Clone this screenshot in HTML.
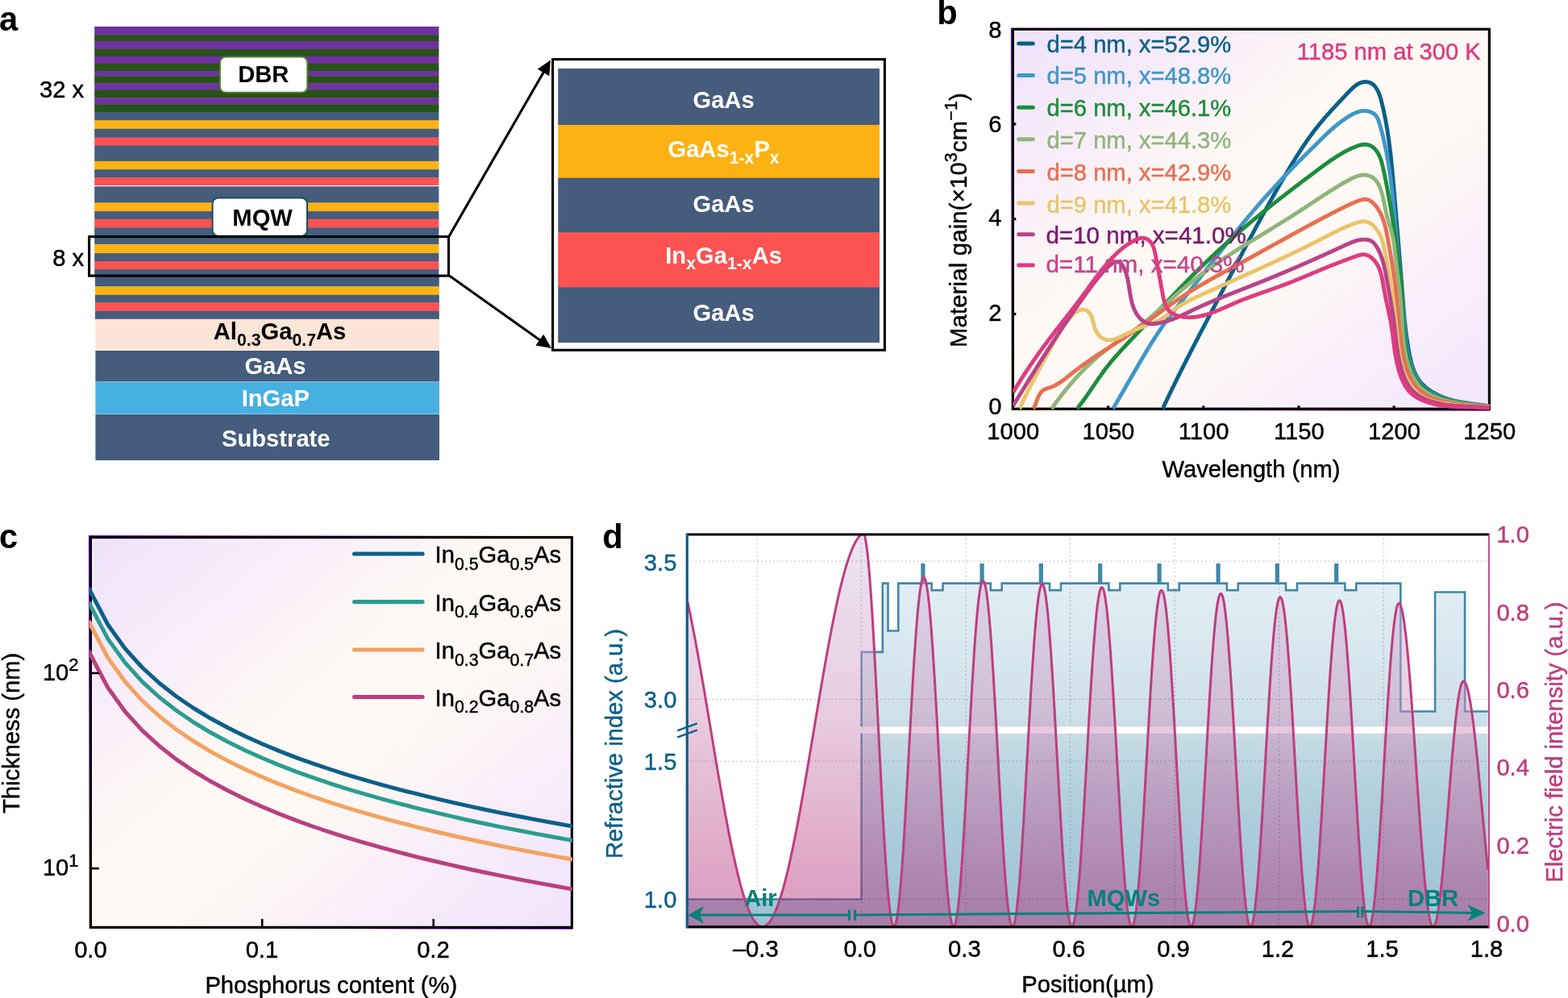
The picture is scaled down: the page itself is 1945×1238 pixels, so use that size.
<!DOCTYPE html>
<html lang="en">
<head>
<meta charset="utf-8">
<title>Figure</title>
<style>
html,body{margin:0;padding:0;background:#fff;overflow:hidden;}
body{width:1945px;height:1238px;overflow:hidden;}
svg{display:block;font-family:"Liberation Sans",sans-serif;}
</style>
</head>
<body>
<svg width="1945" height="1238" viewBox="0 0 1945 1238">
<rect x="0" y="0" width="1945" height="1238" fill="#ffffff"/>
<g id="panel-a">
<rect x="117.2" y="32.9" width="427.2" height="10.7" fill="#7030a0" />
<rect x="117.2" y="43.2" width="427.2" height="8.2" fill="#275218" />
<rect x="117.2" y="51" width="427.2" height="10.3" fill="#7030a0" />
<rect x="117.2" y="60.9" width="427.2" height="9.2" fill="#275218" />
<rect x="117.2" y="69.7" width="427.2" height="9.5" fill="#7030a0" />
<rect x="117.2" y="78.8" width="427.2" height="9.6" fill="#275218" />
<rect x="117.2" y="88" width="427.2" height="6.6" fill="#7030a0" />
<rect x="117.2" y="94.2" width="427.2" height="9.4" fill="#275218" />
<rect x="117.2" y="103.2" width="427.2" height="8.5" fill="#7030a0" />
<rect x="117.2" y="111.3" width="427.2" height="10.4" fill="#275218" />
<rect x="117.2" y="121.3" width="427.2" height="8.3" fill="#7030a0" />
<rect x="117.2" y="129.2" width="427.2" height="10.2" fill="#275218" />
<rect x="117.2" y="139" width="427.2" height="10.7" fill="#455c7c" />
<rect x="117.2" y="149.3" width="427.2" height="10.9" fill="#fdb214" />
<rect x="117.2" y="159.8" width="427.2" height="11.1" fill="#455c7c" />
<rect x="117.2" y="170.5" width="427.2" height="10.3" fill="#fc5252" />
<rect x="117.2" y="180.4" width="427.2" height="19.9" fill="#455c7c" />
<rect x="117.2" y="199.9" width="427.2" height="10.7" fill="#fdb214" />
<rect x="117.2" y="210.2" width="427.2" height="10.3" fill="#455c7c" />
<rect x="117.2" y="220.1" width="427.2" height="9.9" fill="#fc5252" />
<rect x="117.2" y="231.2" width="427.2" height="20.6" fill="#455c7c" />
<rect x="117.2" y="251.4" width="427.2" height="11.1" fill="#fdb214" />
<rect x="117.2" y="262.1" width="427.2" height="9.9" fill="#455c7c" />
<rect x="117.2" y="271.6" width="427.2" height="11.1" fill="#fc5252" />
<rect x="117.2" y="282.3" width="427.2" height="20.9" fill="#455c7c" />
<rect x="117.2" y="302.8" width="427.2" height="11.7" fill="#fdb214" />
<rect x="117.2" y="314.1" width="427.2" height="10.3" fill="#455c7c" />
<rect x="117.2" y="324" width="427.2" height="10.5" fill="#fc5252" />
<rect x="117.2" y="334.1" width="427.2" height="9.3" fill="#455c7c" />
<rect x="118" y="343" width="426.8" height="12.7" fill="#455c7c" />
<rect x="118" y="355.3" width="426.8" height="10.9" fill="#fdb214" />
<rect x="118" y="365.8" width="426.8" height="9.8" fill="#455c7c" />
<rect x="118" y="375.2" width="426.8" height="10.9" fill="#fc5252" />
<rect x="118" y="385.7" width="426.8" height="10.5" fill="#455c7c" />
<rect x="118.4" y="395.8" width="426.6" height="38.8" fill="#fce4d6" />
<rect x="118.4" y="435" width="426.6" height="38.4" fill="#455c7c" />
<rect x="118.4" y="473.6" width="426.6" height="40" fill="#46b0e1" />
<rect x="118.4" y="514" width="426.6" height="57" fill="#455c7c" />
<rect x="272.9" y="70.4" width="108.4" height="44.4" rx="7" ry="7" fill="#ffffff" stroke="#4d7f33" stroke-width="2.0"/>
<text x="326.8" y="102.2" font-size="29.17" font-weight="bold" text-anchor="middle" fill="#000" >DBR</text>
<rect x="263.6" y="245.6" width="117.4" height="47.2" rx="7" ry="7" fill="#ffffff" stroke="#1b4a63" stroke-width="2.0"/>
<text x="325.6" y="279.6" font-size="29.17" font-weight="bold" text-anchor="middle" fill="#000" >MQW</text>
<text x="104.2" y="121.4" font-size="29.17" text-anchor="end" fill="#000" stroke="#000" stroke-width="0.45" stroke-linejoin="round">32 x</text>
<text x="104.2" y="330.2" font-size="29.17" text-anchor="end" fill="#000" stroke="#000" stroke-width="0.45" stroke-linejoin="round">8 x</text>
<rect x="110.6" y="293.6" width="445.9" height="48.5" fill="none" stroke="#000" stroke-width="3.1"/>
<text x="347" y="420.6" font-size="29.17" font-weight="bold" text-anchor="middle" fill="#000">Al<tspan font-size="21.3" dy="8.0">0.3</tspan><tspan font-size="29.17" dy="-8.0">Ga</tspan><tspan font-size="21.3" dy="8.0">0.7</tspan><tspan font-size="29.17" dy="-8.0">As</tspan></text>
<text x="341.5" y="464.4" font-size="29.17" font-weight="bold" text-anchor="middle" fill="#fff" >GaAs</text>
<text x="341.8" y="504.2" font-size="29.17" font-weight="bold" text-anchor="middle" fill="#fff" >InGaP</text>
<text x="342.3" y="553.6" font-size="29.17" font-weight="bold" text-anchor="middle" fill="#fff" >Substrate</text>
<line x1="556.8" y1="293.4" x2="675.01" y2="88.26" stroke="#000" stroke-width="3.1"/><polygon points="683,74.4 681.29,94.19 666.73,85.8" fill="#000"/>
<line x1="557.4" y1="342" x2="670.96" y2="422.73" stroke="#000" stroke-width="3.1"/><polygon points="684,432 664.46,428.42 674.2,414.72" fill="#000"/>
<rect x="685.6" y="73.6" width="411.8" height="360.7" fill="#fff" stroke="#000" stroke-width="3.1"/>
<rect x="692.2" y="85" width="398.8" height="70.3" fill="#455c7c" />
<rect x="692.2" y="154.9" width="398.8" height="66.2" fill="#fdb214" />
<rect x="692.2" y="220.7" width="398.8" height="68.1" fill="#455c7c" />
<rect x="692.2" y="288.4" width="398.8" height="68.2" fill="#fc5252" />
<rect x="692.2" y="356.2" width="398.8" height="68.9" fill="#455c7c" />
<text x="897.6" y="134" font-size="29.17" font-weight="bold" text-anchor="middle" fill="#fff" >GaAs</text>
<text x="897.6" y="195.4" font-size="29.17" font-weight="bold" text-anchor="middle" fill="#fff">GaAs<tspan font-size="21.3" dy="7.2">1-x</tspan><tspan font-size="29.17" dy="-7.2">P</tspan><tspan font-size="21.3" dy="7.2">x</tspan></text>
<text x="897.6" y="263.2" font-size="29.17" font-weight="bold" text-anchor="middle" fill="#fff" >GaAs</text>
<text x="897.6" y="326.6" font-size="29.17" font-weight="bold" text-anchor="middle" fill="#fff">In<tspan font-size="21.3" dy="7.2">x</tspan><tspan font-size="29.17" dy="-7.2">Ga</tspan><tspan font-size="21.3" dy="7.2">1-x</tspan><tspan font-size="29.17" dy="-7.2">As</tspan></text>
<text x="897.6" y="398.2" font-size="29.17" font-weight="bold" text-anchor="middle" fill="#fff" >GaAs</text>
<text x="-1" y="38.4" font-size="41.67" font-weight="bold" fill="#000" >a</text>
</g>
<g id="panel-b">
<defs><linearGradient id="gb" x1="0" y1="0" x2="1" y2="1"><stop offset="0" stop-color="#efe3fb"/><stop offset="0.2" stop-color="#f7ecfa"/><stop offset="0.4" stop-color="#fef9f4"/><stop offset="0.6" stop-color="#fef9f4"/><stop offset="0.8" stop-color="#f8eefb"/><stop offset="1" stop-color="#f1e6fc"/></linearGradient><clipPath id="cb"><rect x="1256.0" y="36.2" width="593.0" height="472.4"/></clipPath><linearGradient id="geb" x1="0" y1="0" x2="1" y2="1"><stop offset="0" stop-color="#7a12e6"/><stop offset="0.25" stop-color="#c98af0"/><stop offset="0.45" stop-color="#ffe9c8"/><stop offset="0.55" stop-color="#ffe9c8"/><stop offset="0.75" stop-color="#c98af0"/><stop offset="1" stop-color="#6a10c8"/></linearGradient></defs>
<rect x="1256.4" y="36.2" width="591" height="471" fill="url(#gb)" />
<path d="M1254.5 35 V509.1 H1848.6" fill="none" stroke="url(#geb)" stroke-width="1.3"/>
<rect x="1256.4" y="36.2" width="591" height="471" fill="none" stroke="#000" stroke-width="3.2"/>
<line x1="1374.6" y1="507.2" x2="1374.6" y2="503.3" stroke="#000" stroke-width="3.1" />
<line x1="1492.8" y1="507.2" x2="1492.8" y2="503.3" stroke="#000" stroke-width="3.1" />
<line x1="1611" y1="507.2" x2="1611" y2="503.3" stroke="#000" stroke-width="3.1" />
<line x1="1729.2" y1="507.2" x2="1729.2" y2="503.3" stroke="#000" stroke-width="3.1" />
<line x1="1256.4" y1="389.45" x2="1260.3" y2="389.45" stroke="#000" stroke-width="3.1" />
<line x1="1256.4" y1="271.7" x2="1260.3" y2="271.7" stroke="#000" stroke-width="3.1" />
<line x1="1256.4" y1="153.95" x2="1260.3" y2="153.95" stroke="#000" stroke-width="3.1" />
<g clip-path="url(#cb)">
<path d="M1442.3 506.0L1442.8 505.9L1443.2 504.9L1443.7 503.9L1444.1 503.0L1444.6 502.0L1445.0 501.0L1445.5 500.1L1446.0 499.1L1446.4 498.1L1446.9 497.2L1447.3 496.2L1447.8 495.2L1448.2 494.3L1448.7 493.3L1449.2 492.3L1449.6 491.4L1450.1 490.4L1450.5 489.4L1451.0 488.5L1451.5 487.5L1451.9 486.5L1452.4 485.6L1452.9 484.6L1453.3 483.7L1453.8 482.7L1454.3 481.7L1454.7 480.8L1455.2 479.8L1455.7 478.8L1456.1 477.9L1456.6 476.9L1457.1 476.0L1457.6 475.0L1458.0 474.0L1458.5 473.1L1459.0 472.1L1459.4 471.1L1459.9 470.2L1460.4 469.2L1460.9 468.3L1461.3 467.3L1461.8 466.3L1462.3 465.4L1462.8 464.4L1463.2 463.5L1463.7 462.5L1464.2 461.5L1464.7 460.6L1465.2 459.6L1465.6 458.7L1466.1 457.7L1466.6 456.8L1467.1 455.8L1467.6 454.8L1468.1 453.9L1468.5 452.9L1469.0 452.0L1469.5 451.0L1470.0 450.1L1470.5 449.1L1471.0 448.1L1471.4 447.2L1471.9 446.2L1472.4 445.3L1472.9 444.3L1473.4 443.4L1473.9 442.4L1474.4 441.5L1474.8 440.5L1475.3 439.5L1475.8 438.6L1476.3 437.6L1476.8 436.7L1477.3 435.7L1477.8 434.8L1478.3 433.8L1478.8 432.9L1479.3 431.9L1479.7 431.0L1480.2 430.0L1480.7 429.1L1481.2 428.1L1481.7 427.1L1482.2 426.2L1482.7 425.2L1483.2 424.3L1483.7 423.3L1484.2 422.4L1484.7 421.4L1485.2 420.5L1485.7 419.5L1486.2 418.6L1486.6 417.6L1487.1 416.7L1487.6 415.7L1488.1 414.8L1488.6 413.8L1489.1 412.9L1489.6 411.9L1490.1 411.0L1490.6 410.0L1491.1 409.1L1491.6 408.1L1492.1 407.2L1492.6 406.2L1493.1 405.3L1493.6 404.3L1494.1 403.4L1494.6 402.4L1495.1 401.4L1495.6 400.5L1496.1 399.5L1496.6 398.6L1497.1 397.6L1497.6 396.7L1498.1 395.7L1498.6 394.8L1499.1 393.8L1499.6 392.9L1500.1 391.9L1500.5 391.0L1501.0 390.0L1501.5 389.1L1502.0 388.1L1502.5 387.2L1503.0 386.2L1503.5 385.3L1504.0 384.4L1504.5 383.4L1505.0 382.5L1505.5 381.5L1506.0 380.6L1506.5 379.6L1507.0 378.7L1507.5 377.7L1508.0 376.8L1508.5 375.8L1509.0 374.9L1509.5 373.9L1510.0 373.0L1510.5 372.0L1511.0 371.1L1511.5 370.1L1512.0 369.2L1512.5 368.2L1513.0 367.3L1513.5 366.3L1514.0 365.4L1514.5 364.4L1515.0 363.5L1515.5 362.5L1516.0 361.6L1516.5 360.6L1517.0 359.7L1517.5 358.7L1517.9 357.8L1518.4 356.8L1518.9 355.9L1519.4 354.9L1519.9 354.0L1520.4 353.0L1520.9 352.1L1521.4 351.1L1521.9 350.2L1522.4 349.2L1522.9 348.3L1523.4 347.3L1523.9 346.4L1524.4 345.4L1524.9 344.5L1525.4 343.6L1525.9 342.6L1526.4 341.7L1526.9 340.7L1527.4 339.8L1527.9 338.8L1528.4 337.9L1528.9 336.9L1529.4 336.0L1529.8 335.0L1530.3 334.1L1530.8 333.1L1531.3 332.2L1531.8 331.2L1532.3 330.3L1532.8 329.3L1533.3 328.4L1533.8 327.4L1534.3 326.5L1534.8 325.5L1535.3 324.6L1535.8 323.7L1536.3 322.7L1536.8 321.8L1537.3 320.8L1537.8 319.9L1538.3 318.9L1538.8 318.0L1539.3 317.0L1539.8 316.1L1540.3 315.1L1540.8 314.2L1541.3 313.2L1541.8 312.3L1542.3 311.4L1542.8 310.4L1543.3 309.5L1543.8 308.5L1544.3 307.6L1544.8 306.6L1545.3 305.7L1545.8 304.7L1546.3 303.8L1546.8 302.9L1547.3 301.9L1547.8 301.0L1548.3 300.0L1548.8 299.1L1549.3 298.1L1549.8 297.2L1550.3 296.2L1550.8 295.3L1551.3 294.4L1551.8 293.4L1552.3 292.5L1552.9 291.5L1553.4 290.6L1553.9 289.6L1554.4 288.7L1554.9 287.8L1555.4 286.8L1555.9 285.9L1556.4 284.9L1556.9 284.0L1557.4 283.0L1557.9 282.1L1558.4 281.2L1558.9 280.2L1559.4 279.3L1560.0 278.3L1560.5 277.4L1561.0 276.5L1561.5 275.5L1562.0 274.6L1562.5 273.6L1563.0 272.7L1563.5 271.8L1564.1 270.8L1564.6 269.9L1565.1 268.9L1565.6 268.0L1566.1 267.1L1566.6 266.1L1567.1 265.2L1567.7 264.2L1568.2 263.3L1568.7 262.4L1569.2 261.4L1569.7 260.5L1570.2 259.5L1570.8 258.6L1571.3 257.7L1571.8 256.7L1572.3 255.8L1572.8 254.9L1573.4 253.9L1573.9 253.0L1574.4 252.1L1574.9 251.1L1575.5 250.2L1576.0 249.2L1576.5 248.3L1577.0 247.4L1577.6 246.4L1578.1 245.5L1578.6 244.6L1579.1 243.6L1579.7 242.7L1580.2 241.8L1580.7 240.8L1581.2 239.9L1581.8 239.0L1582.3 238.0L1582.8 237.1L1583.4 236.2L1583.9 235.2L1584.4 234.3L1585.0 233.4L1585.5 232.4L1586.0 231.5L1586.6 230.6L1587.1 229.6L1587.6 228.7L1588.2 227.8L1588.7 226.8L1589.3 225.9L1589.8 225.0L1590.3 224.0L1590.9 223.1L1591.4 222.2L1592.0 221.3L1592.5 220.3L1593.1 219.4L1593.6 218.5L1594.1 217.5L1594.7 216.6L1595.2 215.7L1595.8 214.8L1596.3 213.8L1596.9 212.9L1597.4 212.0L1598.0 211.1L1598.5 210.1L1599.1 209.2L1599.6 208.3L1600.2 207.4L1600.7 206.4L1601.3 205.5L1601.9 204.6L1602.4 203.7L1603.0 202.7L1603.5 201.8L1604.1 200.9L1604.7 200.0L1605.2 199.1L1605.8 198.2L1606.4 197.2L1606.9 196.3L1607.5 195.4L1608.1 194.5L1608.6 193.6L1609.2 192.7L1609.8 191.8L1610.4 190.9L1610.9 190.0L1611.5 189.1L1612.1 188.2L1612.7 187.3L1613.3 186.4L1613.9 185.5L1614.5 184.6L1615.0 183.7L1615.6 182.8L1616.2 181.9L1616.8 181.0L1617.4 180.1L1618.0 179.2L1618.6 178.4L1619.2 177.5L1619.8 176.6L1620.4 175.7L1621.0 174.8L1621.7 174.0L1622.3 173.1L1622.9 172.2L1623.5 171.4L1624.1 170.5L1624.7 169.6L1625.4 168.8L1626.0 167.9L1626.6 167.0L1627.2 166.2L1627.9 165.3L1628.5 164.5L1629.2 163.6L1629.8 162.8L1630.4 162.0L1631.1 161.1L1631.7 160.3L1632.4 159.4L1633.0 158.6L1633.7 157.8L1634.3 156.9L1635.0 156.1L1635.7 155.3L1636.3 154.5L1637.0 153.7L1637.7 152.9L1638.3 152.0L1639.0 151.2L1639.7 150.4L1640.4 149.6L1641.1 148.8L1641.7 148.0L1642.4 147.2L1643.1 146.4L1643.8 145.6L1644.5 144.8L1645.2 144.0L1645.9 143.2L1646.6 142.4L1647.3 141.7L1648.0 140.9L1648.7 140.1L1649.4 139.3L1650.1 138.5L1650.9 137.7L1651.6 136.9L1652.3 136.1L1653.0 135.3L1653.8 134.5L1654.5 133.8L1655.2 133.0L1655.9 132.2L1656.7 131.4L1657.4 130.6L1658.2 129.8L1658.9 129.0L1659.6 128.2L1660.4 127.4L1661.1 126.6L1661.9 125.8L1662.6 125.0L1663.4 124.2L1664.2 123.4L1664.9 122.6L1665.7 121.8L1666.4 121.0L1667.2 120.2L1668.0 119.4L1668.7 118.6L1669.5 117.7L1670.3 116.9L1671.0 116.1L1671.8 115.3L1672.6 114.4L1673.4 113.6L1674.2 112.8L1675.0 112.0L1675.8 111.2L1676.6 110.4L1677.4 109.6L1678.2 108.9L1679.0 108.2L1679.9 107.5L1680.7 106.8L1681.5 106.1L1682.4 105.5L1683.3 104.9L1684.2 104.4L1685.1 103.9L1686.0 103.4L1686.9 103.0L1687.8 102.6L1688.8 102.3L1689.7 102.0L1690.7 101.8L1691.7 101.7L1692.7 101.6L1693.7 101.5L1694.7 101.6L1695.7 101.6L1696.7 101.8L1697.6 102.0L1698.6 102.3L1699.5 102.6L1700.4 103.0L1701.3 103.4L1702.1 104.0L1702.9 104.6L1703.6 105.2L1704.4 105.9L1705.1 106.6L1705.7 107.4L1706.4 108.3L1707.0 109.1L1707.6 110.0L1708.1 111.0L1708.6 111.9L1709.1 112.9L1709.6 113.9L1710.1 114.9L1710.5 116.0L1710.9 117.0L1711.3 118.1L1711.6 119.1L1712.0 120.1L1712.3 121.2L1712.6 122.2L1712.9 123.3L1713.2 124.3L1713.5 125.4L1713.7 126.5L1714.0 127.5L1714.3 128.6L1714.5 129.6L1714.8 130.7L1715.0 131.7L1715.3 132.8L1715.5 133.9L1715.8 134.9L1716.0 136.0L1716.2 137.0L1716.5 138.1L1716.7 139.1L1716.9 140.2L1717.1 141.3L1717.4 142.3L1717.6 143.4L1717.8 144.4L1718.0 145.5L1718.2 146.5L1718.4 147.6L1718.6 148.7L1718.8 149.7L1719.0 150.8L1719.2 151.8L1719.4 152.9L1719.6 153.9L1719.8 155.0L1720.0 156.1L1720.1 157.1L1720.3 158.2L1720.5 159.2L1720.7 160.3L1720.9 161.3L1721.0 162.4L1721.2 163.5L1721.4 164.5L1721.5 165.6L1721.7 166.6L1721.8 167.7L1722.0 168.8L1722.2 169.8L1722.3 170.9L1722.5 171.9L1722.6 173.0L1722.8 174.0L1722.9 175.1L1723.0 176.2L1723.2 177.2L1723.3 178.3L1723.5 179.3L1723.6 180.4L1723.7 181.5L1723.9 182.5L1724.0 183.6L1724.1 184.6L1724.3 185.7L1724.4 186.8L1724.5 187.8L1724.6 188.9L1724.8 189.9L1724.9 191.0L1725.0 192.1L1725.1 193.1L1725.2 194.2L1725.3 195.2L1725.5 196.3L1725.6 197.4L1725.7 198.4L1725.8 199.5L1725.9 200.6L1726.0 201.6L1726.1 202.7L1726.2 203.7L1726.3 204.8L1726.4 205.9L1726.5 206.9L1726.6 208.0L1726.7 209.1L1726.9 210.1L1727.0 211.2L1727.1 212.2L1727.2 213.3L1727.2 214.4L1727.3 215.4L1727.4 216.5L1727.5 217.6L1727.6 218.6L1727.7 219.7L1727.8 220.8L1727.9 221.8L1728.0 222.9L1728.1 223.9L1728.2 225.0L1728.3 226.1L1728.4 227.1L1728.5 228.2L1728.6 229.3L1728.7 230.3L1728.8 231.4L1728.8 232.5L1728.9 233.5L1729.0 234.6L1729.1 235.7L1729.2 236.7L1729.3 237.8L1729.4 238.9L1729.5 239.9L1729.6 241.0L1729.7 242.1L1729.8 243.1L1729.9 244.2L1729.9 245.3L1730.0 246.3L1730.1 247.4L1730.2 248.5L1730.3 249.5L1730.4 250.6L1730.5 251.7L1730.6 252.8L1730.7 253.8L1730.8 254.9L1730.9 256.0L1730.9 257.0L1731.0 258.1L1731.1 259.2L1731.2 260.2L1731.3 261.3L1731.4 262.4L1731.5 263.4L1731.6 264.5L1731.7 265.6L1731.7 266.7L1731.8 267.7L1731.9 268.8L1732.0 269.9L1732.1 270.9L1732.2 272.0L1732.3 273.1L1732.4 274.1L1732.5 275.2L1732.6 276.3L1732.6 277.4L1732.7 278.4L1732.8 279.5L1732.9 280.6L1733.0 281.6L1733.1 282.7L1733.2 283.8L1733.3 284.9L1733.3 285.9L1733.4 287.0L1733.5 288.1L1733.6 289.1L1733.7 290.2L1733.8 291.3L1733.9 292.3L1734.0 293.4L1734.1 294.5L1734.1 295.6L1734.2 296.6L1734.3 297.7L1734.4 298.8L1734.5 299.8L1734.6 300.9L1734.7 302.0L1734.8 303.1L1734.8 304.1L1734.9 305.2L1735.0 306.3L1735.1 307.3L1735.2 308.4L1735.3 309.5L1735.4 310.5L1735.4 311.6L1735.5 312.7L1735.6 313.8L1735.7 314.8L1735.8 315.9L1735.9 317.0L1736.0 318.0L1736.0 319.1L1736.1 320.2L1736.2 321.2L1736.3 322.3L1736.4 323.4L1736.5 324.5L1736.6 325.5L1736.6 326.6L1736.7 327.7L1736.8 328.7L1736.9 329.8L1737.0 330.9L1737.1 331.9L1737.2 333.0L1737.2 334.1L1737.3 335.1L1737.4 336.2L1737.5 337.3L1737.6 338.3L1737.7 339.4L1737.8 340.5L1737.8 341.5L1737.9 342.6L1738.0 343.7L1738.1 344.7L1738.2 345.8L1738.3 346.9L1738.3 347.9L1738.4 349.0L1738.5 350.1L1738.6 351.1L1738.7 352.2L1738.8 353.3L1738.8 354.3L1738.9 355.4L1739.0 356.5L1739.1 357.5L1739.2 358.6L1739.3 359.7L1739.3 360.7L1739.4 361.8L1739.5 362.9L1739.6 363.9L1739.7 365.0L1739.8 366.1L1739.8 367.1L1739.9 368.2L1740.0 369.2L1740.1 370.3L1740.2 371.4L1740.3 372.4L1740.3 373.5L1740.4 374.5L1740.5 375.6L1740.6 376.7L1740.7 377.7L1740.8 378.8L1740.8 379.9L1740.9 380.9L1741.0 382.0L1741.1 383.0L1741.2 384.1L1741.3 385.2L1741.4 386.2L1741.5 387.3L1741.6 388.3L1741.6 389.4L1741.7 390.5L1741.8 391.5L1741.9 392.6L1742.0 393.6L1742.1 394.7L1742.2 395.8L1742.3 396.8L1742.4 397.9L1742.5 399.0L1742.6 400.0L1742.8 401.1L1742.9 402.1L1743.0 403.2L1743.1 404.3L1743.2 405.3L1743.3 406.4L1743.4 407.5L1743.6 408.5L1743.7 409.6L1743.8 410.6L1743.9 411.7L1744.1 412.8L1744.2 413.8L1744.3 414.9L1744.5 416.0L1744.6 417.0L1744.8 418.1L1744.9 419.2L1745.1 420.2L1745.2 421.3L1745.4 422.4L1745.5 423.4L1745.7 424.5L1745.8 425.6L1746.0 426.6L1746.2 427.7L1746.4 428.8L1746.5 429.9L1746.7 430.9L1746.9 432.0L1747.1 433.1L1747.3 434.1L1747.5 435.2L1747.7 436.3L1747.9 437.4L1748.1 438.4L1748.3 439.5L1748.5 440.6L1748.7 441.7L1748.9 442.7L1749.2 443.8L1749.4 444.9L1749.7 445.9L1749.9 447.0L1750.2 448.1L1750.5 449.1L1750.7 450.2L1751.0 451.2L1751.3 452.3L1751.6 453.3L1752.0 454.3L1752.3 455.3L1752.6 456.4L1753.0 457.4L1753.4 458.4L1753.7 459.4L1754.1 460.4L1754.5 461.3L1755.0 462.3L1755.4 463.3L1755.9 464.2L1756.3 465.1L1756.8 466.1L1757.3 467.0L1757.8 467.9L1758.4 468.8L1758.9 469.7L1759.5 470.5L1760.1 471.4L1760.7 472.2L1761.3 473.0L1762.0 473.9L1762.6 474.6L1763.3 475.4L1764.0 476.2L1764.8 477.0L1765.5 477.7L1766.3 478.4L1767.0 479.1L1767.8 479.8L1768.6 480.5L1769.4 481.2L1770.3 481.9L1771.1 482.5L1772.0 483.1L1772.9 483.8L1773.7 484.4L1774.6 485.0L1775.6 485.6L1776.5 486.1L1777.4 486.7L1778.3 487.2L1779.3 487.8L1780.3 488.3L1781.2 488.8L1782.2 489.3L1783.2 489.8L1784.2 490.2L1785.2 490.7L1786.2 491.2L1787.2 491.6L1788.2 492.0L1789.2 492.4L1790.2 492.8L1791.3 493.2L1792.3 493.6L1793.3 494.0L1794.4 494.3L1795.4 494.7L1796.4 495.0L1797.5 495.3L1798.5 495.6L1799.5 495.9L1800.6 496.2L1801.6 496.5L1802.7 496.8L1803.7 497.0L1804.7 497.3L1805.8 497.5L1806.8 497.8L1807.9 498.0L1808.9 498.2L1809.9 498.4L1811.0 498.6L1812.0 498.8L1813.0 499.0L1814.1 499.2L1815.1 499.4L1816.2 499.5L1817.2 499.7L1818.3 499.9L1819.3 500.0L1820.3 500.2L1821.4 500.3L1822.4 500.5L1823.5 500.6L1824.5 500.8L1825.6 500.9L1826.6 501.1L1827.7 501.2L1828.7 501.3L1829.8 501.5L1830.8 501.6L1831.9 501.7L1833.0 501.9L1834.0 502.0L1835.1 502.2L1836.1 502.3L1837.2 502.4L1838.3 502.6L1839.3 502.7L1840.4 502.9L1841.5 503.0L1842.6 503.2L1843.6 503.3L1844.7 503.5L1845.8 503.7L1846.9 503.8L1848.0 504.0" fill="none" stroke="#0b6088" stroke-width="4.9" stroke-linejoin="round" stroke-linecap="butt"/>
<path d="M1380.6 506.0L1381.1 505.9L1381.6 505.0L1382.2 504.1L1382.7 503.3L1383.2 502.4L1383.8 501.5L1384.3 500.6L1384.8 499.7L1385.3 498.8L1385.9 497.9L1386.4 497.0L1386.9 496.1L1387.4 495.2L1388.0 494.3L1388.5 493.4L1389.0 492.5L1389.5 491.6L1390.1 490.7L1390.6 489.8L1391.1 488.9L1391.6 488.0L1392.2 487.1L1392.7 486.2L1393.2 485.3L1393.7 484.4L1394.3 483.5L1394.8 482.6L1395.3 481.7L1395.8 480.7L1396.3 479.8L1396.9 478.9L1397.4 478.0L1397.9 477.1L1398.4 476.2L1398.9 475.3L1399.5 474.4L1400.0 473.5L1400.5 472.6L1401.0 471.7L1401.5 470.8L1402.1 469.9L1402.6 469.0L1403.1 468.1L1403.6 467.2L1404.2 466.3L1404.7 465.4L1405.2 464.5L1405.7 463.6L1406.2 462.7L1406.8 461.8L1407.3 460.9L1407.8 460.0L1408.3 459.1L1408.9 458.2L1409.4 457.3L1409.9 456.4L1410.4 455.5L1411.0 454.6L1411.5 453.6L1412.0 452.7L1412.5 451.8L1413.1 450.9L1413.6 450.0L1414.1 449.1L1414.6 448.3L1415.2 447.4L1415.7 446.5L1416.2 445.6L1416.8 444.7L1417.3 443.8L1417.8 442.9L1418.4 442.0L1418.9 441.1L1419.4 440.2L1420.0 439.3L1420.5 438.4L1421.0 437.5L1421.6 436.6L1422.1 435.7L1422.7 434.8L1423.2 433.9L1423.7 433.0L1424.3 432.2L1424.8 431.3L1425.4 430.4L1425.9 429.5L1426.5 428.6L1427.0 427.7L1427.6 426.8L1428.1 426.0L1428.7 425.1L1429.2 424.2L1429.8 423.3L1430.3 422.4L1430.9 421.5L1431.4 420.7L1432.0 419.8L1432.6 418.9L1433.1 418.0L1433.7 417.2L1434.3 416.3L1434.8 415.4L1435.4 414.6L1436.0 413.7L1436.5 412.8L1437.1 412.0L1437.7 411.1L1438.3 410.2L1438.9 409.4L1439.4 408.5L1440.0 407.6L1440.6 406.8L1441.2 405.9L1441.8 405.1L1442.4 404.2L1443.0 403.4L1443.6 402.5L1444.2 401.7L1444.8 400.8L1445.4 400.0L1446.0 399.1L1446.7 398.3L1447.3 397.5L1447.9 396.6L1448.5 395.8L1449.1 395.0L1449.8 394.1L1450.4 393.3L1451.0 392.5L1451.7 391.6L1452.3 390.8L1452.9 390.0L1453.6 389.2L1454.2 388.3L1454.9 387.5L1455.5 386.7L1456.1 385.9L1456.8 385.0L1457.4 384.2L1458.1 383.4L1458.7 382.6L1459.4 381.8L1460.0 381.0L1460.7 380.1L1461.3 379.3L1462.0 378.5L1462.6 377.7L1463.3 376.9L1463.9 376.0L1464.6 375.2L1465.2 374.4L1465.9 373.6L1466.5 372.8L1467.2 372.0L1467.8 371.1L1468.5 370.3L1469.1 369.5L1469.7 368.7L1470.4 367.9L1471.0 367.0L1471.7 366.2L1472.3 365.4L1473.0 364.6L1473.6 363.7L1474.3 362.9L1474.9 362.1L1475.5 361.3L1476.2 360.5L1476.8 359.6L1477.5 358.8L1478.1 358.0L1478.8 357.2L1479.4 356.4L1480.0 355.5L1480.7 354.7L1481.3 353.9L1482.0 353.1L1482.6 352.2L1483.2 351.4L1483.9 350.6L1484.5 349.8L1485.2 348.9L1485.8 348.1L1486.4 347.3L1487.1 346.5L1487.7 345.7L1488.4 344.8L1489.0 344.0L1489.6 343.2L1490.3 342.4L1490.9 341.5L1491.5 340.7L1492.2 339.9L1492.8 339.1L1493.5 338.2L1494.1 337.4L1494.7 336.6L1495.4 335.8L1496.0 335.0L1496.7 334.1L1497.3 333.3L1497.9 332.5L1498.6 331.7L1499.2 330.8L1499.8 330.0L1500.5 329.2L1501.1 328.4L1501.8 327.5L1502.4 326.7L1503.0 325.9L1503.7 325.1L1504.3 324.3L1505.0 323.4L1505.6 322.6L1506.2 321.8L1506.9 321.0L1507.5 320.1L1508.2 319.3L1508.8 318.5L1509.4 317.7L1510.1 316.9L1510.7 316.0L1511.4 315.2L1512.0 314.4L1512.6 313.6L1513.3 312.8L1513.9 311.9L1514.6 311.1L1515.2 310.3L1515.8 309.5L1516.5 308.7L1517.1 307.8L1517.8 307.0L1518.4 306.2L1519.1 305.4L1519.7 304.6L1520.3 303.8L1521.0 302.9L1521.6 302.1L1522.3 301.3L1522.9 300.5L1523.6 299.7L1524.2 298.9L1524.9 298.0L1525.5 297.2L1526.2 296.4L1526.8 295.6L1527.5 294.8L1528.1 294.0L1528.8 293.2L1529.4 292.3L1530.1 291.5L1530.7 290.7L1531.4 289.9L1532.0 289.1L1532.7 288.3L1533.3 287.5L1534.0 286.7L1534.6 285.8L1535.3 285.0L1535.9 284.2L1536.6 283.4L1537.2 282.6L1537.9 281.8L1538.6 281.0L1539.2 280.2L1539.9 279.4L1540.5 278.6L1541.2 277.8L1541.9 277.0L1542.5 276.2L1543.2 275.4L1543.8 274.6L1544.5 273.8L1545.2 272.9L1545.8 272.1L1546.5 271.3L1547.2 270.5L1547.8 269.7L1548.5 268.9L1549.2 268.1L1549.8 267.3L1550.5 266.5L1551.2 265.7L1551.8 264.9L1552.5 264.2L1553.2 263.4L1553.9 262.6L1554.5 261.8L1555.2 261.0L1555.9 260.2L1556.6 259.4L1557.2 258.6L1557.9 257.8L1558.6 257.0L1559.3 256.2L1560.0 255.4L1560.6 254.6L1561.3 253.8L1562.0 253.1L1562.7 252.3L1563.4 251.5L1564.1 250.7L1564.7 249.9L1565.4 249.1L1566.1 248.3L1566.8 247.6L1567.5 246.8L1568.2 246.0L1568.9 245.2L1569.6 244.4L1570.3 243.6L1571.0 242.9L1571.7 242.1L1572.4 241.3L1573.1 240.5L1573.8 239.8L1574.5 239.0L1575.2 238.2L1575.9 237.4L1576.6 236.7L1577.3 235.9L1578.0 235.1L1578.7 234.3L1579.4 233.6L1580.1 232.8L1580.8 232.0L1581.5 231.3L1582.2 230.5L1582.9 229.7L1583.7 229.0L1584.4 228.2L1585.1 227.4L1585.8 226.7L1586.5 225.9L1587.2 225.1L1587.9 224.4L1588.7 223.6L1589.4 222.8L1590.1 222.1L1590.8 221.3L1591.5 220.6L1592.3 219.8L1593.0 219.1L1593.7 218.3L1594.4 217.5L1595.2 216.8L1595.9 216.0L1596.6 215.3L1597.3 214.5L1598.1 213.8L1598.8 213.0L1599.5 212.3L1600.2 211.5L1601.0 210.8L1601.7 210.0L1602.4 209.3L1603.2 208.5L1603.9 207.8L1604.6 207.0L1605.3 206.3L1606.1 205.5L1606.8 204.8L1607.5 204.0L1608.3 203.3L1609.0 202.5L1609.7 201.8L1610.5 201.1L1611.2 200.3L1611.9 199.6L1612.7 198.8L1613.4 198.1L1614.1 197.3L1614.9 196.6L1615.6 195.9L1616.3 195.1L1617.1 194.4L1617.8 193.7L1618.5 192.9L1619.3 192.2L1620.0 191.4L1620.8 190.7L1621.5 190.0L1622.2 189.2L1623.0 188.5L1623.7 187.8L1624.4 187.0L1625.2 186.3L1625.9 185.6L1626.6 184.8L1627.4 184.1L1628.1 183.4L1628.8 182.7L1629.6 181.9L1630.3 181.2L1631.0 180.5L1631.8 179.7L1632.5 179.0L1633.3 178.3L1634.0 177.6L1634.7 176.8L1635.5 176.1L1636.2 175.4L1636.9 174.7L1637.7 173.9L1638.4 173.2L1639.1 172.5L1639.9 171.8L1640.6 171.1L1641.3 170.3L1642.1 169.6L1642.8 168.9L1643.6 168.2L1644.3 167.5L1645.0 166.8L1645.8 166.1L1646.5 165.4L1647.3 164.6L1648.0 163.9L1648.8 163.2L1649.6 162.5L1650.3 161.9L1651.1 161.2L1651.9 160.5L1652.6 159.8L1653.4 159.1L1654.2 158.4L1655.0 157.8L1655.8 157.1L1656.6 156.4L1657.4 155.7L1658.2 155.1L1659.0 154.4L1659.8 153.8L1660.6 153.1L1661.5 152.5L1662.3 151.8L1663.1 151.2L1664.0 150.6L1664.8 149.9L1665.7 149.3L1666.6 148.7L1667.4 148.1L1668.3 147.5L1669.2 146.9L1670.1 146.3L1671.0 145.7L1671.9 145.1L1672.8 144.5L1673.7 144.0L1674.7 143.4L1675.6 142.9L1676.6 142.3L1677.5 141.8L1678.5 141.3L1679.4 140.9L1680.4 140.4L1681.4 140.0L1682.3 139.6L1683.3 139.2L1684.3 138.9L1685.3 138.6L1686.3 138.3L1687.3 138.1L1688.3 137.9L1689.3 137.7L1690.3 137.6L1691.3 137.6L1692.4 137.5L1693.4 137.5L1694.4 137.6L1695.4 137.7L1696.4 137.9L1697.4 138.1L1698.4 138.4L1699.4 138.7L1700.4 139.0L1701.3 139.5L1702.3 139.9L1703.1 140.4L1704.0 141.0L1704.8 141.6L1705.5 142.2L1706.2 142.9L1706.9 143.7L1707.5 144.5L1708.0 145.3L1708.5 146.2L1709.0 147.1L1709.4 148.1L1709.8 149.0L1710.1 150.0L1710.4 151.0L1710.8 152.0L1711.1 153.0L1711.4 154.0L1711.7 155.0L1711.9 156.1L1712.2 157.1L1712.5 158.1L1712.8 159.1L1713.1 160.1L1713.4 161.1L1713.6 162.2L1713.9 163.2L1714.2 164.2L1714.4 165.2L1714.7 166.2L1715.0 167.3L1715.2 168.3L1715.5 169.3L1715.7 170.3L1716.0 171.3L1716.2 172.4L1716.4 173.4L1716.7 174.4L1716.9 175.4L1717.1 176.5L1717.4 177.5L1717.6 178.5L1717.8 179.5L1718.0 180.5L1718.3 181.6L1718.5 182.6L1718.7 183.6L1718.9 184.6L1719.1 185.7L1719.3 186.7L1719.5 187.7L1719.7 188.7L1719.9 189.8L1720.1 190.8L1720.3 191.8L1720.5 192.9L1720.7 193.9L1720.9 194.9L1721.0 195.9L1721.2 197.0L1721.4 198.0L1721.6 199.0L1721.8 200.0L1721.9 201.1L1722.1 202.1L1722.3 203.1L1722.4 204.2L1722.6 205.2L1722.8 206.2L1722.9 207.3L1723.1 208.3L1723.2 209.3L1723.4 210.3L1723.5 211.4L1723.7 212.4L1723.8 213.4L1724.0 214.5L1724.1 215.5L1724.3 216.5L1724.4 217.6L1724.6 218.6L1724.7 219.6L1724.8 220.7L1725.0 221.7L1725.1 222.7L1725.2 223.8L1725.4 224.8L1725.5 225.8L1725.6 226.9L1725.8 227.9L1725.9 228.9L1726.0 230.0L1726.1 231.0L1726.3 232.0L1726.4 233.1L1726.5 234.1L1726.6 235.1L1726.7 236.2L1726.9 237.2L1727.0 238.2L1727.1 239.3L1727.2 240.3L1727.3 241.3L1727.4 242.4L1727.5 243.4L1727.6 244.4L1727.8 245.5L1727.9 246.5L1728.0 247.6L1728.1 248.6L1728.2 249.6L1728.3 250.7L1728.4 251.7L1728.5 252.7L1728.6 253.8L1728.7 254.8L1728.8 255.8L1728.9 256.9L1729.0 257.9L1729.1 258.9L1729.2 260.0L1729.3 261.0L1729.4 262.1L1729.5 263.1L1729.6 264.1L1729.7 265.2L1729.8 266.2L1729.9 267.2L1730.0 268.3L1730.1 269.3L1730.2 270.4L1730.3 271.4L1730.4 272.4L1730.5 273.5L1730.6 274.5L1730.6 275.5L1730.7 276.6L1730.8 277.6L1730.9 278.7L1731.0 279.7L1731.1 280.7L1731.2 281.8L1731.3 282.8L1731.4 283.8L1731.5 284.9L1731.6 285.9L1731.7 287.0L1731.8 288.0L1731.9 289.0L1732.0 290.1L1732.1 291.1L1732.2 292.1L1732.3 293.2L1732.4 294.2L1732.5 295.3L1732.6 296.3L1732.7 297.3L1732.8 298.4L1732.9 299.4L1733.0 300.4L1733.1 301.5L1733.1 302.5L1733.2 303.6L1733.3 304.6L1733.4 305.6L1733.5 306.7L1733.6 307.7L1733.7 308.7L1733.8 309.8L1733.9 310.8L1734.0 311.9L1734.1 312.9L1734.2 313.9L1734.3 315.0L1734.4 316.0L1734.5 317.0L1734.6 318.1L1734.7 319.1L1734.8 320.2L1734.9 321.2L1735.0 322.2L1735.1 323.3L1735.2 324.3L1735.3 325.3L1735.4 326.4L1735.5 327.4L1735.6 328.5L1735.7 329.5L1735.8 330.5L1735.9 331.6L1736.0 332.6L1736.1 333.6L1736.1 334.7L1736.2 335.7L1736.3 336.8L1736.4 337.8L1736.5 338.8L1736.6 339.9L1736.7 340.9L1736.8 342.0L1736.9 343.0L1737.0 344.0L1737.1 345.1L1737.2 346.1L1737.3 347.1L1737.4 348.2L1737.5 349.2L1737.6 350.3L1737.7 351.3L1737.8 352.3L1737.9 353.4L1737.9 354.4L1738.0 355.4L1738.1 356.5L1738.2 357.5L1738.3 358.6L1738.4 359.6L1738.5 360.6L1738.6 361.7L1738.7 362.7L1738.8 363.8L1738.9 364.8L1739.0 365.8L1739.1 366.9L1739.1 367.9L1739.2 368.9L1739.3 370.0L1739.4 371.0L1739.5 372.1L1739.6 373.1L1739.7 374.1L1739.8 375.2L1739.9 376.2L1740.0 377.3L1740.0 378.3L1740.1 379.3L1740.2 380.4L1740.3 381.4L1740.4 382.4L1740.5 383.5L1740.6 384.5L1740.7 385.6L1740.8 386.6L1740.8 387.6L1740.9 388.7L1741.0 389.7L1741.1 390.8L1741.2 391.8L1741.3 392.8L1741.4 393.9L1741.4 394.9L1741.5 396.0L1741.6 397.0L1741.7 398.0L1741.8 399.1L1741.9 400.1L1741.9 401.1L1742.0 402.2L1742.1 403.2L1742.2 404.3L1742.3 405.3L1742.4 406.3L1742.4 407.4L1742.5 408.4L1742.6 409.5L1742.7 410.5L1742.8 411.5L1742.9 412.6L1743.0 413.6L1743.1 414.6L1743.2 415.7L1743.3 416.7L1743.4 417.8L1743.5 418.8L1743.6 419.8L1743.7 420.9L1743.8 421.9L1744.0 422.9L1744.1 424.0L1744.2 425.0L1744.3 426.0L1744.5 427.0L1744.6 428.1L1744.8 429.1L1744.9 430.1L1745.1 431.2L1745.3 432.2L1745.4 433.2L1745.6 434.2L1745.8 435.3L1746.0 436.3L1746.2 437.3L1746.4 438.3L1746.6 439.4L1746.8 440.4L1747.0 441.4L1747.3 442.4L1747.5 443.4L1747.8 444.4L1748.0 445.4L1748.3 446.5L1748.6 447.5L1748.8 448.5L1749.1 449.5L1749.4 450.5L1749.8 451.5L1750.1 452.5L1750.4 453.5L1750.7 454.5L1751.1 455.5L1751.5 456.5L1751.8 457.5L1752.2 458.5L1752.6 459.5L1753.0 460.4L1753.4 461.4L1753.9 462.4L1754.3 463.3L1754.8 464.3L1755.2 465.2L1755.7 466.1L1756.2 467.1L1756.7 468.0L1757.2 468.9L1757.8 469.8L1758.3 470.7L1758.9 471.5L1759.5 472.4L1760.1 473.2L1760.7 474.1L1761.3 474.9L1761.9 475.7L1762.6 476.5L1763.3 477.3L1763.9 478.0L1764.6 478.8L1765.4 479.5L1766.1 480.2L1766.8 480.9L1767.6 481.6L1768.4 482.2L1769.2 482.9L1770.0 483.5L1770.8 484.1L1771.7 484.7L1772.5 485.3L1773.4 485.8L1774.3 486.4L1775.2 486.9L1776.1 487.4L1777.0 488.0L1777.9 488.4L1778.8 488.9L1779.8 489.4L1780.7 489.8L1781.7 490.3L1782.7 490.7L1783.6 491.1L1784.6 491.5L1785.6 491.9L1786.6 492.3L1787.6 492.7L1788.6 493.0L1789.6 493.4L1790.6 493.7L1791.6 494.1L1792.6 494.4L1793.6 494.7L1794.7 495.0L1795.7 495.3L1796.7 495.6L1797.7 495.9L1798.7 496.2L1799.7 496.4L1800.8 496.7L1801.8 497.0L1802.8 497.2L1803.8 497.4L1804.8 497.7L1805.8 497.9L1806.9 498.1L1807.9 498.3L1808.9 498.6L1809.9 498.8L1810.9 499.0L1811.9 499.2L1812.9 499.4L1813.9 499.5L1815.0 499.7L1816.0 499.9L1817.0 500.1L1818.0 500.2L1819.0 500.4L1820.0 500.6L1821.0 500.7L1822.1 500.9L1823.1 501.0L1824.1 501.2L1825.1 501.3L1826.1 501.5L1827.2 501.6L1828.2 501.8L1829.2 501.9L1830.2 502.0L1831.3 502.2L1832.3 502.3L1833.3 502.4L1834.4 502.5L1835.4 502.7L1836.4 502.8L1837.5 502.9L1838.5 503.0L1839.5 503.2L1840.6 503.3L1841.6 503.4L1842.7 503.5L1843.7 503.6L1844.8 503.8L1845.8 503.9L1846.9 504.0L1848.0 504.1" fill="none" stroke="#3f97c7" stroke-width="4.9" stroke-linejoin="round" stroke-linecap="butt"/>
<path d="M1336.2 506.0L1336.9 505.9L1337.5 505.2L1338.1 504.4L1338.7 503.6L1339.3 502.8L1339.9 502.1L1340.5 501.3L1341.1 500.5L1341.7 499.7L1342.3 498.9L1342.9 498.1L1343.5 497.3L1344.1 496.5L1344.7 495.7L1345.3 494.9L1345.8 494.1L1346.4 493.3L1347.0 492.4L1347.6 491.6L1348.1 490.8L1348.7 490.0L1349.3 489.2L1349.9 488.3L1350.4 487.5L1351.0 486.7L1351.6 485.9L1352.1 485.1L1352.7 484.2L1353.3 483.4L1353.8 482.6L1354.4 481.7L1354.9 480.9L1355.5 480.1L1356.1 479.3L1356.6 478.4L1357.2 477.6L1357.8 476.8L1358.3 475.9L1358.9 475.1L1359.5 474.3L1360.0 473.4L1360.6 472.6L1361.2 471.8L1361.7 471.0L1362.3 470.1L1362.9 469.3L1363.4 468.5L1364.0 467.7L1364.6 466.9L1365.2 466.0L1365.7 465.2L1366.3 464.4L1366.9 463.6L1367.5 462.8L1368.1 462.0L1368.7 461.2L1369.2 460.3L1369.8 459.5L1370.4 458.7L1371.0 457.9L1371.6 457.1L1372.2 456.4L1372.9 455.6L1373.5 454.8L1374.1 454.0L1374.7 453.2L1375.3 452.4L1375.9 451.7L1376.6 450.9L1377.2 450.1L1377.8 449.3L1378.5 448.6L1379.1 447.8L1379.7 447.0L1380.4 446.3L1381.0 445.5L1381.7 444.8L1382.3 444.0L1383.0 443.3L1383.6 442.5L1384.3 441.8L1384.9 441.0L1385.6 440.3L1386.3 439.5L1386.9 438.8L1387.6 438.0L1388.3 437.3L1388.9 436.6L1389.6 435.8L1390.3 435.1L1390.9 434.4L1391.6 433.6L1392.3 432.9L1393.0 432.2L1393.6 431.4L1394.3 430.7L1395.0 430.0L1395.7 429.3L1396.4 428.5L1397.0 427.8L1397.7 427.1L1398.4 426.4L1399.1 425.6L1399.8 424.9L1400.4 424.2L1401.1 423.5L1401.8 422.7L1402.5 422.0L1403.2 421.3L1403.9 420.6L1404.6 419.8L1405.2 419.1L1405.9 418.4L1406.6 417.7L1407.3 416.9L1408.0 416.2L1408.7 415.5L1409.4 414.8L1410.0 414.0L1410.7 413.3L1411.4 412.6L1412.1 411.9L1412.8 411.1L1413.5 410.4L1414.1 409.7L1414.8 409.0L1415.5 408.2L1416.2 407.5L1416.9 406.8L1417.6 406.1L1418.2 405.3L1418.9 404.6L1419.6 403.9L1420.3 403.2L1421.0 402.4L1421.7 401.7L1422.3 401.0L1423.0 400.3L1423.7 399.5L1424.4 398.8L1425.1 398.1L1425.8 397.3L1426.4 396.6L1427.1 395.9L1427.8 395.2L1428.5 394.4L1429.2 393.7L1429.9 393.0L1430.6 392.3L1431.2 391.5L1431.9 390.8L1432.6 390.1L1433.3 389.4L1434.0 388.6L1434.7 387.9L1435.4 387.2L1436.0 386.5L1436.7 385.7L1437.4 385.0L1438.1 384.3L1438.8 383.6L1439.5 382.8L1440.2 382.1L1440.8 381.4L1441.5 380.7L1442.2 379.9L1442.9 379.2L1443.6 378.5L1444.3 377.8L1445.0 377.0L1445.6 376.3L1446.3 375.6L1447.0 374.9L1447.7 374.1L1448.4 373.4L1449.1 372.7L1449.8 372.0L1450.5 371.2L1451.2 370.5L1451.9 369.8L1452.5 369.1L1453.2 368.4L1453.9 367.6L1454.6 366.9L1455.3 366.2L1456.0 365.5L1456.7 364.8L1457.4 364.0L1458.1 363.3L1458.8 362.6L1459.5 361.9L1460.2 361.2L1460.8 360.4L1461.5 359.7L1462.2 359.0L1462.9 358.3L1463.6 357.6L1464.3 356.9L1465.0 356.1L1465.7 355.4L1466.4 354.7L1467.1 354.0L1467.8 353.3L1468.5 352.6L1469.2 351.9L1469.9 351.2L1470.6 350.4L1471.3 349.7L1472.0 349.0L1472.7 348.3L1473.4 347.6L1474.1 346.9L1474.8 346.2L1475.5 345.5L1476.2 344.8L1476.9 344.0L1477.6 343.3L1478.3 342.6L1479.0 341.9L1479.7 341.2L1480.4 340.5L1481.1 339.8L1481.8 339.1L1482.6 338.4L1483.3 337.7L1484.0 337.0L1484.7 336.3L1485.4 335.6L1486.1 334.9L1486.8 334.2L1487.5 333.5L1488.2 332.8L1488.9 332.1L1489.7 331.4L1490.4 330.7L1491.1 330.0L1491.8 329.3L1492.5 328.6L1493.2 327.9L1493.9 327.2L1494.7 326.5L1495.4 325.8L1496.1 325.1L1496.8 324.4L1497.5 323.8L1498.2 323.1L1499.0 322.4L1499.7 321.7L1500.4 321.0L1501.1 320.3L1501.8 319.6L1502.6 318.9L1503.3 318.3L1504.0 317.6L1504.7 316.9L1505.5 316.2L1506.2 315.5L1506.9 314.8L1507.7 314.2L1508.4 313.5L1509.1 312.8L1509.8 312.1L1510.6 311.4L1511.3 310.8L1512.0 310.1L1512.8 309.4L1513.5 308.7L1514.2 308.1L1515.0 307.4L1515.7 306.7L1516.4 306.0L1517.2 305.4L1517.9 304.7L1518.7 304.0L1519.4 303.4L1520.1 302.7L1520.9 302.0L1521.6 301.4L1522.4 300.7L1523.1 300.0L1523.9 299.4L1524.6 298.7L1525.3 298.1L1526.1 297.4L1526.8 296.7L1527.6 296.1L1528.3 295.4L1529.1 294.8L1529.8 294.1L1530.6 293.4L1531.3 292.8L1532.1 292.1L1532.8 291.5L1533.6 290.8L1534.3 290.2L1535.1 289.5L1535.8 288.9L1536.6 288.2L1537.3 287.6L1538.1 286.9L1538.9 286.3L1539.6 285.6L1540.4 285.0L1541.1 284.3L1541.9 283.7L1542.6 283.0L1543.4 282.4L1544.2 281.7L1544.9 281.1L1545.7 280.4L1546.5 279.8L1547.2 279.2L1548.0 278.5L1548.7 277.9L1549.5 277.2L1550.3 276.6L1551.0 276.0L1551.8 275.3L1552.6 274.7L1553.3 274.0L1554.1 273.4L1554.9 272.8L1555.6 272.1L1556.4 271.5L1557.2 270.9L1557.9 270.2L1558.7 269.6L1559.5 269.0L1560.3 268.3L1561.0 267.7L1561.8 267.1L1562.6 266.4L1563.3 265.8L1564.1 265.2L1564.9 264.6L1565.7 263.9L1566.4 263.3L1567.2 262.7L1568.0 262.1L1568.8 261.4L1569.5 260.8L1570.3 260.2L1571.1 259.6L1571.9 258.9L1572.7 258.3L1573.4 257.7L1574.2 257.1L1575.0 256.4L1575.8 255.8L1576.6 255.2L1577.3 254.6L1578.1 254.0L1578.9 253.3L1579.7 252.7L1580.5 252.1L1581.3 251.5L1582.0 250.9L1582.8 250.2L1583.6 249.6L1584.4 249.0L1585.2 248.4L1586.0 247.8L1586.7 247.2L1587.5 246.6L1588.3 245.9L1589.1 245.3L1589.9 244.7L1590.7 244.1L1591.5 243.5L1592.3 242.9L1593.0 242.3L1593.8 241.6L1594.6 241.0L1595.4 240.4L1596.2 239.8L1597.0 239.2L1597.8 238.6L1598.6 238.0L1599.4 237.4L1600.1 236.8L1600.9 236.2L1601.7 235.6L1602.5 234.9L1603.3 234.3L1604.1 233.7L1604.9 233.1L1605.7 232.5L1606.5 231.9L1607.3 231.3L1608.1 230.7L1608.9 230.1L1609.7 229.5L1610.5 228.9L1611.3 228.3L1612.0 227.7L1612.8 227.1L1613.6 226.5L1614.4 225.9L1615.2 225.3L1616.0 224.7L1616.8 224.1L1617.6 223.5L1618.4 222.9L1619.2 222.3L1620.0 221.7L1620.8 221.1L1621.6 220.5L1622.4 219.9L1623.2 219.3L1624.0 218.7L1624.8 218.1L1625.6 217.5L1626.4 216.9L1627.2 216.3L1628.0 215.7L1628.8 215.1L1629.6 214.5L1630.4 213.9L1631.2 213.3L1632.0 212.7L1632.8 212.1L1633.6 211.5L1634.4 210.9L1635.2 210.3L1636.0 209.7L1636.8 209.1L1637.6 208.5L1638.4 207.9L1639.2 207.3L1640.0 206.7L1640.8 206.1L1641.6 205.6L1642.4 205.0L1643.2 204.4L1644.0 203.8L1644.8 203.2L1645.6 202.6L1646.4 202.0L1647.3 201.5L1648.1 200.9L1648.9 200.3L1649.7 199.7L1650.5 199.2L1651.3 198.6L1652.2 198.0L1653.0 197.5L1653.8 196.9L1654.6 196.4L1655.5 195.8L1656.3 195.3L1657.1 194.7L1658.0 194.2L1658.8 193.7L1659.7 193.1L1660.5 192.6L1661.3 192.1L1662.2 191.6L1663.1 191.1L1663.9 190.6L1664.8 190.1L1665.6 189.6L1666.5 189.1L1667.4 188.6L1668.3 188.1L1669.1 187.7L1670.0 187.2L1670.9 186.7L1671.8 186.3L1672.7 185.8L1673.6 185.4L1674.5 185.0L1675.4 184.5L1676.3 184.1L1677.2 183.7L1678.2 183.3L1679.1 182.9L1680.0 182.5L1681.0 182.1L1681.9 181.8L1682.8 181.4L1683.8 181.0L1684.8 180.7L1685.7 180.4L1686.7 180.1L1687.6 179.9L1688.6 179.7L1689.6 179.5L1690.5 179.3L1691.5 179.2L1692.5 179.2L1693.5 179.2L1694.4 179.3L1695.4 179.4L1696.4 179.5L1697.4 179.8L1698.3 180.1L1699.2 180.4L1700.1 180.8L1701.0 181.3L1701.8 181.8L1702.6 182.3L1703.4 182.9L1704.2 183.6L1704.9 184.3L1705.6 185.0L1706.3 185.8L1706.9 186.6L1707.5 187.4L1708.1 188.2L1708.7 189.1L1709.2 189.9L1709.7 190.8L1710.2 191.7L1710.6 192.6L1711.1 193.5L1711.5 194.4L1711.9 195.4L1712.2 196.3L1712.6 197.2L1712.9 198.2L1713.2 199.1L1713.5 200.1L1713.8 201.0L1714.0 202.0L1714.3 203.0L1714.5 203.9L1714.8 204.9L1715.0 205.9L1715.2 206.9L1715.5 207.8L1715.7 208.8L1715.9 209.8L1716.1 210.8L1716.3 211.7L1716.5 212.7L1716.7 213.7L1717.0 214.7L1717.2 215.6L1717.4 216.6L1717.6 217.6L1717.8 218.6L1718.0 219.5L1718.2 220.5L1718.4 221.5L1718.6 222.5L1718.8 223.4L1719.0 224.4L1719.2 225.4L1719.4 226.4L1719.5 227.3L1719.7 228.3L1719.9 229.3L1720.1 230.3L1720.3 231.3L1720.5 232.2L1720.7 233.2L1720.9 234.2L1721.0 235.2L1721.2 236.1L1721.4 237.1L1721.6 238.1L1721.8 239.1L1721.9 240.1L1722.1 241.0L1722.3 242.0L1722.5 243.0L1722.7 244.0L1722.8 244.9L1723.0 245.9L1723.2 246.9L1723.3 247.9L1723.5 248.9L1723.7 249.8L1723.9 250.8L1724.0 251.8L1724.2 252.8L1724.4 253.8L1724.5 254.7L1724.7 255.7L1724.9 256.7L1725.1 257.7L1725.2 258.7L1725.4 259.6L1725.6 260.6L1725.7 261.6L1725.9 262.6L1726.1 263.6L1726.2 264.6L1726.4 265.5L1726.5 266.5L1726.7 267.5L1726.9 268.5L1727.0 269.5L1727.2 270.4L1727.4 271.4L1727.5 272.4L1727.7 273.4L1727.8 274.4L1728.0 275.4L1728.1 276.3L1728.3 277.3L1728.5 278.3L1728.6 279.3L1728.8 280.3L1728.9 281.3L1729.1 282.2L1729.2 283.2L1729.4 284.2L1729.5 285.2L1729.7 286.2L1729.8 287.2L1730.0 288.1L1730.1 289.1L1730.3 290.1L1730.4 291.1L1730.6 292.1L1730.7 293.1L1730.9 294.1L1731.0 295.0L1731.1 296.0L1731.3 297.0L1731.4 298.0L1731.6 299.0L1731.7 300.0L1731.8 301.0L1732.0 301.9L1732.1 302.9L1732.3 303.9L1732.4 304.9L1732.5 305.9L1732.7 306.9L1732.8 307.9L1732.9 308.8L1733.1 309.8L1733.2 310.8L1733.3 311.8L1733.4 312.8L1733.6 313.8L1733.7 314.8L1733.8 315.8L1733.9 316.7L1734.1 317.7L1734.2 318.7L1734.3 319.7L1734.4 320.7L1734.6 321.7L1734.7 322.7L1734.8 323.7L1734.9 324.6L1735.0 325.6L1735.1 326.6L1735.2 327.6L1735.4 328.6L1735.5 329.6L1735.6 330.6L1735.7 331.6L1735.8 332.6L1735.9 333.6L1736.0 334.5L1736.1 335.5L1736.2 336.5L1736.3 337.5L1736.4 338.5L1736.5 339.5L1736.6 340.5L1736.7 341.5L1736.8 342.5L1736.9 343.5L1737.0 344.4L1737.1 345.4L1737.2 346.4L1737.3 347.4L1737.4 348.4L1737.5 349.4L1737.6 350.4L1737.7 351.4L1737.7 352.4L1737.8 353.4L1737.9 354.4L1738.0 355.3L1738.1 356.3L1738.1 357.3L1738.2 358.3L1738.3 359.3L1738.4 360.3L1738.5 361.3L1738.5 362.3L1738.6 363.3L1738.7 364.3L1738.7 365.3L1738.8 366.3L1738.9 367.3L1738.9 368.3L1739.0 369.2L1739.1 370.2L1739.1 371.2L1739.2 372.2L1739.3 373.2L1739.3 374.2L1739.4 375.2L1739.4 376.2L1739.5 377.2L1739.5 378.2L1739.6 379.2L1739.7 380.2L1739.7 381.2L1739.8 382.2L1739.8 383.2L1739.9 384.2L1739.9 385.2L1740.0 386.1L1740.1 387.1L1740.1 388.1L1740.2 389.1L1740.2 390.1L1740.3 391.1L1740.3 392.1L1740.4 393.1L1740.5 394.1L1740.5 395.1L1740.6 396.1L1740.6 397.1L1740.7 398.1L1740.8 399.1L1740.8 400.1L1740.9 401.1L1741.0 402.1L1741.1 403.1L1741.1 404.0L1741.2 405.0L1741.3 406.0L1741.4 407.0L1741.4 408.0L1741.5 409.0L1741.6 410.0L1741.7 411.0L1741.8 412.0L1741.9 413.0L1742.0 414.0L1742.1 415.0L1742.2 416.0L1742.3 417.0L1742.4 418.0L1742.5 418.9L1742.6 419.9L1742.7 420.9L1742.8 421.9L1743.0 422.9L1743.1 423.9L1743.2 424.9L1743.3 425.9L1743.5 426.9L1743.6 427.9L1743.8 428.9L1743.9 429.9L1744.1 430.8L1744.2 431.8L1744.4 432.8L1744.5 433.8L1744.7 434.8L1744.9 435.8L1745.1 436.8L1745.2 437.8L1745.4 438.8L1745.6 439.8L1745.8 440.7L1746.0 441.7L1746.2 442.7L1746.4 443.7L1746.6 444.7L1746.9 445.7L1747.1 446.6L1747.4 447.6L1747.6 448.6L1747.9 449.5L1748.1 450.5L1748.4 451.5L1748.7 452.4L1749.0 453.4L1749.3 454.3L1749.6 455.3L1749.9 456.2L1750.3 457.2L1750.6 458.1L1751.0 459.0L1751.3 459.9L1751.7 460.9L1752.1 461.8L1752.5 462.7L1752.9 463.6L1753.3 464.5L1753.8 465.3L1754.2 466.2L1754.7 467.1L1755.2 468.0L1755.7 468.8L1756.2 469.7L1756.7 470.5L1757.2 471.3L1757.8 472.1L1758.4 473.0L1758.9 473.8L1759.5 474.6L1760.2 475.3L1760.8 476.1L1761.4 476.9L1762.1 477.6L1762.8 478.4L1763.5 479.1L1764.2 479.8L1764.9 480.5L1765.6 481.2L1766.3 481.9L1767.1 482.5L1767.9 483.2L1768.6 483.8L1769.4 484.4L1770.2 485.0L1771.0 485.6L1771.9 486.2L1772.7 486.8L1773.5 487.3L1774.4 487.8L1775.2 488.3L1776.1 488.8L1777.0 489.3L1777.9 489.7L1778.8 490.2L1779.7 490.6L1780.6 491.0L1781.5 491.4L1782.4 491.8L1783.3 492.1L1784.3 492.5L1785.2 492.9L1786.2 493.2L1787.1 493.5L1788.1 493.8L1789.0 494.1L1790.0 494.4L1790.9 494.7L1791.9 495.0L1792.9 495.3L1793.8 495.6L1794.8 495.8L1795.8 496.1L1796.8 496.3L1797.7 496.6L1798.7 496.8L1799.7 497.1L1800.6 497.3L1801.6 497.5L1802.6 497.7L1803.6 497.9L1804.5 498.2L1805.5 498.4L1806.5 498.6L1807.5 498.8L1808.5 499.0L1809.4 499.1L1810.4 499.3L1811.4 499.5L1812.4 499.7L1813.3 499.9L1814.3 500.0L1815.3 500.2L1816.3 500.4L1817.3 500.5L1818.2 500.7L1819.2 500.8L1820.2 501.0L1821.2 501.1L1822.2 501.3L1823.2 501.4L1824.1 501.6L1825.1 501.7L1826.1 501.8L1827.1 502.0L1828.1 502.1L1829.1 502.2L1830.1 502.4L1831.0 502.5L1832.0 502.6L1833.0 502.7L1834.0 502.8L1835.0 502.9L1836.0 503.1L1837.0 503.2L1838.0 503.3L1839.0 503.4L1840.0 503.5L1841.0 503.6L1842.0 503.7L1843.0 503.8L1844.0 503.9L1845.0 504.0L1846.0 504.1L1847.0 504.2L1848.0 504.3" fill="none" stroke="#1d8c3c" stroke-width="4.9" stroke-linejoin="round" stroke-linecap="butt"/>
<path d="M1304.5 506.0L1305.1 506.0L1305.6 505.3L1306.2 504.5L1306.7 503.7L1307.3 503.0L1307.9 502.2L1308.4 501.4L1309.0 500.6L1309.5 499.9L1310.1 499.1L1310.7 498.3L1311.2 497.5L1311.8 496.8L1312.4 496.0L1313.0 495.2L1313.5 494.5L1314.1 493.7L1314.7 492.9L1315.3 492.2L1315.9 491.4L1316.4 490.7L1317.0 489.9L1317.6 489.1L1318.2 488.4L1318.8 487.6L1319.4 486.9L1320.0 486.1L1320.6 485.4L1321.2 484.6L1321.8 483.9L1322.4 483.2L1323.0 482.4L1323.6 481.7L1324.2 480.9L1324.8 480.2L1325.5 479.5L1326.1 478.7L1326.7 478.0L1327.3 477.3L1327.9 476.5L1328.6 475.8L1329.2 475.1L1329.8 474.3L1330.4 473.6L1331.1 472.9L1331.7 472.2L1332.3 471.5L1333.0 470.7L1333.6 470.0L1334.3 469.3L1334.9 468.6L1335.6 467.9L1336.2 467.2L1336.9 466.5L1337.5 465.8L1338.2 465.1L1338.8 464.4L1339.5 463.7L1340.1 463.0L1340.8 462.3L1341.5 461.6L1342.1 460.9L1342.8 460.2L1343.5 459.5L1344.2 458.9L1344.8 458.2L1345.5 457.5L1346.2 456.8L1346.9 456.1L1347.6 455.5L1348.2 454.8L1348.9 454.1L1349.6 453.5L1350.3 452.8L1351.0 452.2L1351.7 451.5L1352.4 450.8L1353.1 450.2L1353.8 449.5L1354.5 448.9L1355.2 448.2L1355.9 447.6L1356.6 446.9L1357.3 446.3L1358.1 445.7L1358.8 445.0L1359.5 444.4L1360.2 443.8L1360.9 443.1L1361.7 442.5L1362.4 441.9L1363.1 441.3L1363.9 440.7L1364.6 440.0L1365.3 439.4L1366.1 438.8L1366.8 438.2L1367.6 437.6L1368.3 437.0L1369.1 436.4L1369.8 435.8L1370.6 435.2L1371.3 434.6L1372.1 434.0L1372.8 433.5L1373.6 432.9L1374.4 432.3L1375.1 431.7L1375.9 431.1L1376.7 430.6L1377.4 430.0L1378.2 429.4L1379.0 428.9L1379.8 428.3L1380.5 427.8L1381.3 427.2L1382.1 426.6L1382.9 426.1L1383.7 425.5L1384.5 425.0L1385.2 424.4L1386.0 423.9L1386.8 423.3L1387.6 422.8L1388.4 422.2L1389.2 421.7L1390.0 421.1L1390.8 420.6L1391.6 420.0L1392.3 419.5L1393.1 419.0L1393.9 418.4L1394.7 417.9L1395.5 417.3L1396.3 416.8L1397.1 416.2L1397.9 415.7L1398.7 415.1L1399.5 414.6L1400.3 414.0L1401.0 413.5L1401.8 413.0L1402.6 412.4L1403.4 411.9L1404.2 411.3L1405.0 410.8L1405.8 410.2L1406.5 409.6L1407.3 409.1L1408.1 408.5L1408.9 408.0L1409.7 407.4L1410.4 406.8L1411.2 406.3L1412.0 405.7L1412.8 405.1L1413.5 404.6L1414.3 404.0L1415.0 403.4L1415.8 402.8L1416.6 402.2L1417.3 401.7L1418.1 401.1L1418.8 400.5L1419.6 399.9L1420.3 399.3L1421.1 398.7L1421.8 398.1L1422.6 397.5L1423.3 396.9L1424.1 396.3L1424.8 395.7L1425.5 395.1L1426.3 394.4L1427.0 393.8L1427.7 393.2L1428.5 392.6L1429.2 392.0L1429.9 391.4L1430.7 390.7L1431.4 390.1L1432.1 389.5L1432.8 388.9L1433.6 388.2L1434.3 387.6L1435.0 387.0L1435.7 386.3L1436.4 385.7L1437.2 385.1L1437.9 384.4L1438.6 383.8L1439.3 383.2L1440.0 382.5L1440.8 381.9L1441.5 381.3L1442.2 380.6L1442.9 380.0L1443.6 379.3L1444.3 378.7L1445.0 378.1L1445.8 377.4L1446.5 376.8L1447.2 376.1L1447.9 375.5L1448.6 374.9L1449.3 374.2L1450.0 373.6L1450.7 372.9L1451.5 372.3L1452.2 371.7L1452.9 371.0L1453.6 370.4L1454.3 369.8L1455.0 369.1L1455.7 368.5L1456.5 367.8L1457.2 367.2L1457.9 366.6L1458.6 365.9L1459.3 365.3L1460.1 364.7L1460.8 364.0L1461.5 363.4L1462.2 362.8L1462.9 362.1L1463.7 361.5L1464.4 360.9L1465.1 360.3L1465.8 359.6L1466.6 359.0L1467.3 358.4L1468.0 357.8L1468.8 357.2L1469.5 356.5L1470.2 355.9L1471.0 355.3L1471.7 354.7L1472.4 354.1L1473.2 353.5L1473.9 352.9L1474.6 352.3L1475.4 351.7L1476.1 351.1L1476.9 350.5L1477.6 349.9L1478.4 349.3L1479.1 348.7L1479.9 348.1L1480.6 347.5L1481.4 346.9L1482.1 346.3L1482.9 345.7L1483.7 345.1L1484.4 344.6L1485.2 344.0L1485.9 343.4L1486.7 342.8L1487.5 342.2L1488.2 341.7L1489.0 341.1L1489.8 340.5L1490.5 339.9L1491.3 339.4L1492.1 338.8L1492.8 338.2L1493.6 337.7L1494.4 337.1L1495.2 336.5L1495.9 336.0L1496.7 335.4L1497.5 334.9L1498.3 334.3L1499.0 333.7L1499.8 333.2L1500.6 332.6L1501.4 332.1L1502.2 331.5L1503.0 331.0L1503.7 330.4L1504.5 329.9L1505.3 329.3L1506.1 328.8L1506.9 328.2L1507.7 327.7L1508.5 327.2L1509.3 326.6L1510.1 326.1L1510.9 325.5L1511.6 325.0L1512.4 324.5L1513.2 323.9L1514.0 323.4L1514.8 322.8L1515.6 322.3L1516.4 321.8L1517.2 321.2L1518.0 320.7L1518.8 320.2L1519.6 319.7L1520.4 319.1L1521.2 318.6L1522.0 318.1L1522.8 317.6L1523.6 317.0L1524.4 316.5L1525.3 316.0L1526.1 315.5L1526.9 314.9L1527.7 314.4L1528.5 313.9L1529.3 313.4L1530.1 312.9L1530.9 312.3L1531.7 311.8L1532.5 311.3L1533.3 310.8L1534.2 310.3L1535.0 309.8L1535.8 309.2L1536.6 308.7L1537.4 308.2L1538.2 307.7L1539.0 307.2L1539.8 306.7L1540.7 306.2L1541.5 305.7L1542.3 305.2L1543.1 304.6L1543.9 304.1L1544.7 303.6L1545.6 303.1L1546.4 302.6L1547.2 302.1L1548.0 301.6L1548.8 301.1L1549.6 300.6L1550.5 300.1L1551.3 299.6L1552.1 299.1L1552.9 298.6L1553.7 298.1L1554.5 297.6L1555.4 297.1L1556.2 296.6L1557.0 296.1L1557.8 295.6L1558.6 295.1L1559.5 294.6L1560.3 294.1L1561.1 293.6L1561.9 293.1L1562.7 292.6L1563.6 292.1L1564.4 291.6L1565.2 291.1L1566.0 290.6L1566.8 290.1L1567.7 289.6L1568.5 289.1L1569.3 288.6L1570.1 288.1L1570.9 287.6L1571.8 287.1L1572.6 286.6L1573.4 286.1L1574.2 285.6L1575.0 285.1L1575.9 284.6L1576.7 284.1L1577.5 283.6L1578.3 283.1L1579.1 282.6L1579.9 282.1L1580.8 281.5L1581.6 281.0L1582.4 280.5L1583.2 280.0L1584.0 279.5L1584.8 279.0L1585.7 278.5L1586.5 278.0L1587.3 277.5L1588.1 277.0L1588.9 276.5L1589.7 276.0L1590.5 275.5L1591.4 275.0L1592.2 274.5L1593.0 274.0L1593.8 273.5L1594.6 273.0L1595.4 272.5L1596.2 272.0L1597.0 271.5L1597.9 271.0L1598.7 270.5L1599.5 270.0L1600.3 269.5L1601.1 269.0L1601.9 268.4L1602.7 267.9L1603.5 267.4L1604.3 266.9L1605.1 266.4L1605.9 265.9L1606.7 265.4L1607.5 264.9L1608.3 264.4L1609.1 263.8L1609.9 263.3L1610.7 262.8L1611.5 262.3L1612.3 261.8L1613.1 261.3L1613.9 260.7L1614.7 260.2L1615.5 259.7L1616.3 259.2L1617.1 258.7L1617.9 258.1L1618.7 257.6L1619.5 257.1L1620.3 256.6L1621.1 256.0L1621.9 255.5L1622.7 255.0L1623.5 254.5L1624.2 254.0L1625.0 253.4L1625.8 252.9L1626.6 252.4L1627.4 251.9L1628.2 251.3L1629.0 250.8L1629.8 250.3L1630.6 249.7L1631.4 249.2L1632.2 248.7L1633.0 248.2L1633.7 247.6L1634.5 247.1L1635.3 246.6L1636.1 246.1L1636.9 245.5L1637.7 245.0L1638.5 244.5L1639.3 244.0L1640.1 243.4L1640.9 242.9L1641.7 242.4L1642.5 241.9L1643.3 241.3L1644.1 240.8L1644.9 240.3L1645.7 239.8L1646.6 239.3L1647.4 238.7L1648.2 238.2L1649.0 237.7L1649.8 237.2L1650.6 236.7L1651.4 236.2L1652.2 235.6L1653.1 235.1L1653.9 234.6L1654.7 234.1L1655.5 233.6L1656.4 233.1L1657.2 232.6L1658.0 232.1L1658.9 231.6L1659.7 231.0L1660.5 230.5L1661.4 230.0L1662.2 229.5L1663.0 229.0L1663.9 228.5L1664.7 228.0L1665.6 227.5L1666.4 227.0L1667.3 226.5L1668.2 226.1L1669.0 225.6L1669.9 225.1L1670.8 224.6L1671.6 224.1L1672.5 223.6L1673.4 223.1L1674.2 222.7L1675.1 222.2L1676.0 221.8L1676.9 221.3L1677.8 220.9L1678.7 220.5L1679.5 220.1L1680.4 219.7L1681.3 219.3L1682.2 219.0L1683.1 218.7L1684.0 218.4L1684.9 218.1L1685.8 217.8L1686.7 217.6L1687.6 217.4L1688.5 217.3L1689.4 217.2L1690.3 217.1L1691.2 217.0L1692.1 217.0L1693.0 217.0L1693.9 217.1L1694.8 217.2L1695.7 217.4L1696.6 217.6L1697.5 217.8L1698.3 218.1L1699.2 218.4L1700.0 218.8L1700.9 219.2L1701.7 219.6L1702.5 220.1L1703.3 220.6L1704.0 221.2L1704.7 221.8L1705.4 222.4L1706.1 223.1L1706.7 223.8L1707.3 224.5L1707.9 225.3L1708.4 226.1L1708.9 226.9L1709.4 227.7L1709.9 228.6L1710.3 229.4L1710.7 230.3L1711.1 231.2L1711.5 232.2L1711.9 233.1L1712.3 234.0L1712.6 235.0L1712.9 235.9L1713.2 236.9L1713.5 237.8L1713.8 238.7L1714.1 239.7L1714.4 240.6L1714.6 241.6L1714.9 242.5L1715.1 243.5L1715.4 244.4L1715.6 245.3L1715.8 246.3L1716.0 247.2L1716.2 248.2L1716.4 249.1L1716.6 250.0L1716.8 251.0L1717.0 251.9L1717.2 252.8L1717.4 253.8L1717.6 254.7L1717.8 255.6L1718.0 256.6L1718.2 257.5L1718.4 258.4L1718.6 259.4L1718.7 260.3L1718.9 261.2L1719.1 262.1L1719.3 263.1L1719.5 264.0L1719.7 264.9L1720.0 265.8L1720.2 266.8L1720.4 267.7L1720.6 268.6L1720.9 269.5L1721.1 270.4L1721.4 271.3L1721.6 272.3L1721.9 273.2L1722.2 274.1L1722.4 275.0L1722.7 275.9L1723.0 276.8L1723.3 277.7L1723.6 278.6L1723.8 279.5L1724.1 280.4L1724.4 281.3L1724.7 282.2L1725.0 283.1L1725.2 284.0L1725.5 284.9L1725.7 285.9L1726.0 286.8L1726.2 287.7L1726.4 288.6L1726.7 289.5L1726.9 290.4L1727.1 291.4L1727.3 292.3L1727.5 293.2L1727.7 294.1L1727.8 295.1L1728.0 296.0L1728.2 296.9L1728.4 297.9L1728.5 298.8L1728.7 299.8L1728.8 300.7L1729.0 301.6L1729.1 302.6L1729.2 303.5L1729.4 304.5L1729.5 305.4L1729.6 306.4L1729.7 307.3L1729.9 308.3L1730.0 309.2L1730.1 310.2L1730.2 311.1L1730.3 312.1L1730.4 313.0L1730.5 314.0L1730.6 314.9L1730.7 315.9L1730.9 316.8L1731.0 317.8L1731.1 318.7L1731.2 319.7L1731.3 320.7L1731.4 321.6L1731.5 322.6L1731.6 323.5L1731.7 324.5L1731.8 325.4L1731.9 326.4L1732.0 327.3L1732.2 328.3L1732.3 329.2L1732.4 330.2L1732.5 331.1L1732.6 332.1L1732.7 333.1L1732.9 334.0L1733.0 335.0L1733.1 335.9L1733.2 336.9L1733.3 337.8L1733.4 338.8L1733.6 339.7L1733.7 340.7L1733.8 341.6L1733.9 342.6L1734.0 343.5L1734.1 344.5L1734.3 345.4L1734.4 346.4L1734.5 347.3L1734.6 348.3L1734.7 349.2L1734.8 350.2L1735.0 351.2L1735.1 352.1L1735.2 353.1L1735.3 354.0L1735.4 355.0L1735.5 355.9L1735.6 356.9L1735.7 357.8L1735.8 358.8L1735.9 359.7L1736.1 360.7L1736.2 361.6L1736.3 362.6L1736.4 363.5L1736.5 364.5L1736.6 365.4L1736.7 366.4L1736.8 367.4L1736.9 368.3L1737.0 369.3L1737.1 370.2L1737.1 371.2L1737.2 372.1L1737.3 373.1L1737.4 374.0L1737.5 375.0L1737.6 375.9L1737.7 376.9L1737.7 377.8L1737.8 378.8L1737.9 379.8L1738.0 380.7L1738.0 381.7L1738.1 382.6L1738.2 383.6L1738.2 384.5L1738.3 385.5L1738.4 386.4L1738.4 387.4L1738.5 388.3L1738.6 389.3L1738.6 390.3L1738.7 391.2L1738.7 392.2L1738.8 393.1L1738.8 394.1L1738.9 395.0L1738.9 396.0L1739.0 396.9L1739.1 397.9L1739.1 398.9L1739.2 399.8L1739.2 400.8L1739.3 401.7L1739.3 402.7L1739.4 403.6L1739.5 404.6L1739.5 405.5L1739.6 406.5L1739.6 407.5L1739.7 408.4L1739.8 409.4L1739.8 410.3L1739.9 411.3L1740.0 412.2L1740.1 413.2L1740.1 414.1L1740.2 415.1L1740.3 416.0L1740.4 417.0L1740.5 417.9L1740.5 418.9L1740.6 419.8L1740.7 420.8L1740.8 421.7L1740.9 422.7L1741.0 423.6L1741.2 424.6L1741.3 425.5L1741.4 426.5L1741.5 427.4L1741.6 428.4L1741.8 429.3L1741.9 430.3L1742.0 431.2L1742.2 432.2L1742.3 433.1L1742.5 434.0L1742.7 435.0L1742.8 435.9L1743.0 436.9L1743.2 437.8L1743.4 438.8L1743.5 439.7L1743.7 440.6L1743.9 441.6L1744.1 442.5L1744.4 443.4L1744.6 444.4L1744.8 445.3L1745.0 446.3L1745.3 447.2L1745.5 448.1L1745.8 449.1L1746.0 450.0L1746.3 450.9L1746.6 451.9L1746.9 452.8L1747.2 453.7L1747.5 454.6L1747.8 455.6L1748.1 456.5L1748.4 457.4L1748.7 458.3L1749.1 459.2L1749.4 460.2L1749.8 461.1L1750.2 462.0L1750.6 462.9L1750.9 463.7L1751.3 464.6L1751.8 465.5L1752.2 466.4L1752.6 467.2L1753.1 468.1L1753.5 468.9L1754.0 469.8L1754.5 470.6L1755.0 471.4L1755.5 472.2L1756.0 473.0L1756.5 473.8L1757.0 474.6L1757.6 475.4L1758.2 476.1L1758.7 476.9L1759.3 477.6L1759.9 478.3L1760.6 479.0L1761.2 479.7L1761.8 480.4L1762.5 481.1L1763.2 481.7L1763.9 482.4L1764.6 483.0L1765.3 483.6L1766.0 484.2L1766.8 484.8L1767.5 485.3L1768.3 485.9L1769.1 486.4L1769.9 486.9L1770.7 487.4L1771.5 487.9L1772.3 488.4L1773.1 488.9L1774.0 489.3L1774.8 489.8L1775.7 490.2L1776.5 490.7L1777.4 491.1L1778.3 491.5L1779.2 491.9L1780.1 492.3L1781.0 492.6L1781.9 493.0L1782.8 493.3L1783.7 493.7L1784.6 494.0L1785.6 494.3L1786.5 494.7L1787.4 495.0L1788.3 495.3L1789.3 495.5L1790.2 495.8L1791.2 496.1L1792.1 496.4L1793.0 496.6L1794.0 496.9L1794.9 497.1L1795.9 497.4L1796.8 497.6L1797.7 497.8L1798.7 498.0L1799.6 498.2L1800.6 498.4L1801.5 498.6L1802.4 498.8L1803.4 499.0L1804.3 499.2L1805.3 499.4L1806.2 499.5L1807.1 499.7L1808.1 499.9L1809.0 500.0L1809.9 500.2L1810.9 500.3L1811.8 500.5L1812.8 500.6L1813.7 500.8L1814.6 500.9L1815.6 501.0L1816.5 501.1L1817.5 501.3L1818.4 501.4L1819.3 501.5L1820.3 501.6L1821.2 501.7L1822.2 501.8L1823.1 501.9L1824.0 502.1L1825.0 502.2L1825.9 502.3L1826.9 502.4L1827.8 502.5L1828.8 502.6L1829.7 502.7L1830.7 502.8L1831.6 502.8L1832.6 502.9L1833.5 503.0L1834.5 503.1L1835.4 503.2L1836.4 503.3L1837.3 503.4L1838.3 503.5L1839.3 503.6L1840.2 503.7L1841.2 503.8L1842.1 503.9L1843.1 504.0L1844.1 504.1L1845.0 504.2L1846.0 504.3L1847.0 504.4L1848.0 504.5" fill="none" stroke="#8fb57b" stroke-width="4.9" stroke-linejoin="round" stroke-linecap="butt"/>
<path d="M1281.9 506.0L1282.3 506.0L1282.7 505.4L1283.1 504.6L1283.5 503.8L1283.9 503.0L1284.2 502.1L1284.6 501.3L1284.9 500.3L1285.2 499.4L1285.6 498.5L1285.9 497.6L1286.2 496.6L1286.6 495.7L1286.9 494.7L1287.3 493.8L1287.7 492.9L1288.1 492.0L1288.5 491.1L1288.9 490.2L1289.4 489.4L1289.9 488.5L1290.4 487.8L1291.0 487.0L1291.6 486.3L1292.2 485.7L1292.9 485.0L1293.6 484.5L1294.3 483.9L1295.1 483.5L1295.9 483.0L1296.7 482.7L1297.6 482.3L1298.5 482.0L1299.4 481.8L1300.3 481.5L1301.2 481.2L1302.1 480.9L1302.9 480.6L1303.8 480.2L1304.7 479.9L1305.5 479.5L1306.4 479.2L1307.2 478.8L1308.0 478.4L1308.9 477.9L1309.7 477.5L1310.5 477.1L1311.3 476.6L1312.1 476.1L1312.9 475.7L1313.6 475.2L1314.4 474.7L1315.2 474.2L1315.9 473.7L1316.7 473.1L1317.5 472.6L1318.2 472.1L1319.0 471.5L1319.7 471.0L1320.5 470.4L1321.2 469.9L1321.9 469.3L1322.7 468.7L1323.4 468.2L1324.1 467.6L1324.9 467.0L1325.6 466.4L1326.3 465.8L1327.1 465.3L1327.8 464.7L1328.5 464.1L1329.2 463.5L1330.0 462.9L1330.7 462.3L1331.4 461.7L1332.2 461.2L1332.9 460.6L1333.6 460.0L1334.4 459.4L1335.1 458.9L1335.8 458.3L1336.6 457.7L1337.3 457.2L1338.1 456.6L1338.8 456.0L1339.6 455.5L1340.3 454.9L1341.1 454.4L1341.8 453.8L1342.6 453.3L1343.3 452.7L1344.1 452.2L1344.8 451.6L1345.6 451.1L1346.4 450.6L1347.1 450.0L1347.9 449.5L1348.7 449.0L1349.4 448.4L1350.2 447.9L1350.9 447.4L1351.7 446.8L1352.5 446.3L1353.3 445.8L1354.0 445.3L1354.8 444.7L1355.6 444.2L1356.3 443.7L1357.1 443.2L1357.9 442.7L1358.7 442.1L1359.4 441.6L1360.2 441.1L1361.0 440.6L1361.8 440.1L1362.5 439.6L1363.3 439.1L1364.1 438.5L1364.9 438.0L1365.7 437.5L1366.4 437.0L1367.2 436.5L1368.0 436.0L1368.8 435.5L1369.6 435.0L1370.4 434.5L1371.1 434.0L1371.9 433.5L1372.7 433.0L1373.5 432.5L1374.3 432.0L1375.1 431.5L1375.8 431.0L1376.6 430.5L1377.4 430.0L1378.2 429.5L1379.0 428.9L1379.8 428.4L1380.5 427.9L1381.3 427.4L1382.1 426.9L1382.9 426.4L1383.7 425.9L1384.5 425.4L1385.2 424.9L1386.0 424.4L1386.8 423.9L1387.6 423.4L1388.4 422.9L1389.2 422.4L1389.9 421.9L1390.7 421.4L1391.5 420.9L1392.3 420.4L1393.1 419.9L1393.8 419.3L1394.6 418.8L1395.4 418.3L1396.2 417.8L1396.9 417.3L1397.7 416.8L1398.5 416.3L1399.3 415.7L1400.0 415.2L1400.8 414.7L1401.6 414.2L1402.4 413.7L1403.1 413.1L1403.9 412.6L1404.7 412.1L1405.4 411.6L1406.2 411.0L1407.0 410.5L1407.7 410.0L1408.5 409.4L1409.3 408.9L1410.0 408.4L1410.8 407.8L1411.5 407.3L1412.3 406.8L1413.1 406.2L1413.8 405.7L1414.6 405.1L1415.3 404.6L1416.1 404.1L1416.9 403.5L1417.6 403.0L1418.4 402.4L1419.1 401.9L1419.9 401.3L1420.6 400.8L1421.4 400.3L1422.1 399.7L1422.9 399.2L1423.6 398.6L1424.4 398.1L1425.1 397.5L1425.9 397.0L1426.6 396.4L1427.4 395.9L1428.2 395.3L1428.9 394.8L1429.7 394.2L1430.4 393.7L1431.2 393.1L1431.9 392.6L1432.7 392.0L1433.4 391.5L1434.2 390.9L1434.9 390.4L1435.7 389.8L1436.4 389.3L1437.2 388.7L1437.9 388.2L1438.7 387.6L1439.4 387.1L1440.2 386.5L1440.9 386.0L1441.7 385.4L1442.4 384.9L1443.2 384.3L1443.9 383.8L1444.7 383.2L1445.4 382.7L1446.2 382.1L1446.9 381.6L1447.7 381.0L1448.5 380.5L1449.2 380.0L1450.0 379.4L1450.7 378.9L1451.5 378.3L1452.2 377.8L1453.0 377.3L1453.8 376.7L1454.5 376.2L1455.3 375.6L1456.0 375.1L1456.8 374.6L1457.6 374.0L1458.3 373.5L1459.1 373.0L1459.9 372.5L1460.6 371.9L1461.4 371.4L1462.2 370.9L1462.9 370.4L1463.7 369.8L1464.5 369.3L1465.3 368.8L1466.0 368.3L1466.8 367.8L1467.6 367.3L1468.4 366.7L1469.1 366.2L1469.9 365.7L1470.7 365.2L1471.5 364.7L1472.3 364.2L1473.0 363.7L1473.8 363.2L1474.6 362.7L1475.4 362.2L1476.2 361.7L1477.0 361.2L1477.8 360.7L1478.6 360.2L1479.4 359.8L1480.2 359.3L1480.9 358.8L1481.7 358.3L1482.5 357.8L1483.3 357.3L1484.1 356.9L1484.9 356.4L1485.7 355.9L1486.5 355.4L1487.3 354.9L1488.1 354.5L1488.9 354.0L1489.8 353.5L1490.6 353.1L1491.4 352.6L1492.2 352.1L1493.0 351.7L1493.8 351.2L1494.6 350.7L1495.4 350.3L1496.2 349.8L1497.0 349.3L1497.8 348.9L1498.6 348.4L1499.5 348.0L1500.3 347.5L1501.1 347.0L1501.9 346.6L1502.7 346.1L1503.5 345.7L1504.3 345.2L1505.2 344.8L1506.0 344.3L1506.8 343.9L1507.6 343.4L1508.4 343.0L1509.2 342.5L1510.1 342.1L1510.9 341.6L1511.7 341.2L1512.5 340.7L1513.3 340.3L1514.2 339.8L1515.0 339.4L1515.8 338.9L1516.6 338.5L1517.4 338.0L1518.3 337.6L1519.1 337.1L1519.9 336.7L1520.7 336.2L1521.5 335.8L1522.3 335.3L1523.2 334.9L1524.0 334.5L1524.8 334.0L1525.6 333.6L1526.4 333.1L1527.3 332.7L1528.1 332.2L1528.9 331.8L1529.7 331.3L1530.5 330.9L1531.4 330.4L1532.2 330.0L1533.0 329.6L1533.8 329.1L1534.6 328.7L1535.5 328.2L1536.3 327.8L1537.1 327.3L1537.9 326.9L1538.7 326.4L1539.5 326.0L1540.4 325.5L1541.2 325.1L1542.0 324.6L1542.8 324.2L1543.6 323.7L1544.4 323.3L1545.3 322.8L1546.1 322.4L1546.9 321.9L1547.7 321.5L1548.5 321.0L1549.3 320.6L1550.1 320.1L1551.0 319.7L1551.8 319.2L1552.6 318.8L1553.4 318.4L1554.2 317.9L1555.0 317.5L1555.8 317.0L1556.7 316.6L1557.5 316.1L1558.3 315.7L1559.1 315.2L1559.9 314.7L1560.7 314.3L1561.5 313.8L1562.3 313.4L1563.2 312.9L1564.0 312.5L1564.8 312.0L1565.6 311.6L1566.4 311.1L1567.2 310.7L1568.0 310.2L1568.9 309.8L1569.7 309.3L1570.5 308.9L1571.3 308.4L1572.1 308.0L1572.9 307.5L1573.7 307.1L1574.6 306.6L1575.4 306.2L1576.2 305.7L1577.0 305.3L1577.8 304.8L1578.6 304.4L1579.4 303.9L1580.3 303.5L1581.1 303.0L1581.9 302.6L1582.7 302.1L1583.5 301.7L1584.3 301.2L1585.1 300.8L1586.0 300.3L1586.8 299.9L1587.6 299.4L1588.4 299.0L1589.2 298.5L1590.0 298.1L1590.8 297.6L1591.7 297.2L1592.5 296.7L1593.3 296.3L1594.1 295.8L1594.9 295.4L1595.7 294.9L1596.6 294.5L1597.4 294.0L1598.2 293.6L1599.0 293.1L1599.8 292.7L1600.7 292.2L1601.5 291.8L1602.3 291.3L1603.1 290.9L1603.9 290.4L1604.7 290.0L1605.6 289.5L1606.4 289.1L1607.2 288.6L1608.0 288.2L1608.9 287.7L1609.7 287.3L1610.5 286.8L1611.3 286.4L1612.1 285.9L1613.0 285.5L1613.8 285.0L1614.6 284.6L1615.4 284.1L1616.3 283.7L1617.1 283.3L1617.9 282.8L1618.7 282.4L1619.6 281.9L1620.4 281.5L1621.2 281.0L1622.0 280.6L1622.9 280.1L1623.7 279.7L1624.5 279.2L1625.3 278.8L1626.2 278.4L1627.0 277.9L1627.8 277.5L1628.6 277.0L1629.5 276.6L1630.3 276.1L1631.1 275.7L1631.9 275.3L1632.8 274.8L1633.6 274.4L1634.4 273.9L1635.2 273.5L1636.1 273.1L1636.9 272.6L1637.7 272.2L1638.5 271.8L1639.4 271.3L1640.2 270.9L1641.0 270.5L1641.8 270.0L1642.7 269.6L1643.5 269.2L1644.3 268.7L1645.1 268.3L1646.0 267.9L1646.8 267.4L1647.6 267.0L1648.4 266.6L1649.2 266.2L1650.1 265.7L1650.9 265.3L1651.7 264.9L1652.5 264.5L1653.3 264.0L1654.2 263.6L1655.0 263.2L1655.8 262.8L1656.6 262.4L1657.4 262.0L1658.2 261.5L1659.0 261.1L1659.9 260.7L1660.7 260.3L1661.5 259.9L1662.3 259.5L1663.1 259.1L1663.9 258.7L1664.7 258.3L1665.5 257.8L1666.4 257.4L1667.2 257.0L1668.0 256.6L1668.8 256.2L1669.7 255.8L1670.5 255.4L1671.3 255.0L1672.2 254.6L1673.0 254.2L1673.9 253.8L1674.7 253.4L1675.6 253.0L1676.5 252.7L1677.4 252.3L1678.2 251.9L1679.1 251.5L1680.0 251.1L1681.0 250.7L1681.9 250.3L1682.8 249.9L1683.7 249.6L1684.7 249.2L1685.6 248.9L1686.6 248.5L1687.5 248.2L1688.4 248.0L1689.4 247.8L1690.3 247.6L1691.2 247.4L1692.1 247.3L1693.0 247.3L1693.9 247.3L1694.8 247.4L1695.6 247.5L1696.4 247.7L1697.3 248.0L1698.1 248.3L1698.9 248.7L1699.6 249.1L1700.4 249.5L1701.1 250.0L1701.8 250.6L1702.5 251.1L1703.2 251.7L1703.9 252.4L1704.6 253.1L1705.2 253.8L1705.8 254.5L1706.4 255.2L1707.0 256.0L1707.6 256.7L1708.2 257.5L1708.7 258.3L1709.2 259.1L1709.7 259.9L1710.2 260.7L1710.7 261.5L1711.2 262.3L1711.6 263.1L1712.1 263.9L1712.5 264.8L1712.9 265.6L1713.3 266.4L1713.7 267.3L1714.0 268.1L1714.4 269.0L1714.7 269.8L1715.1 270.7L1715.4 271.6L1715.7 272.4L1716.0 273.3L1716.3 274.2L1716.6 275.1L1716.9 276.0L1717.2 276.8L1717.4 277.7L1717.7 278.6L1717.9 279.5L1718.1 280.4L1718.4 281.3L1718.6 282.2L1718.8 283.1L1719.0 284.0L1719.2 284.9L1719.4 285.8L1719.6 286.8L1719.8 287.7L1720.0 288.6L1720.2 289.5L1720.4 290.4L1720.6 291.3L1720.7 292.3L1720.9 293.2L1721.1 294.1L1721.2 295.0L1721.4 295.9L1721.6 296.9L1721.7 297.8L1721.9 298.7L1722.1 299.6L1722.2 300.6L1722.4 301.5L1722.6 302.4L1722.7 303.3L1722.9 304.2L1723.1 305.2L1723.2 306.1L1723.4 307.0L1723.6 307.9L1723.7 308.8L1723.9 309.8L1724.0 310.7L1724.2 311.6L1724.4 312.5L1724.5 313.5L1724.7 314.4L1724.9 315.3L1725.0 316.2L1725.2 317.1L1725.3 318.1L1725.5 319.0L1725.6 319.9L1725.8 320.8L1726.0 321.7L1726.1 322.7L1726.3 323.6L1726.4 324.5L1726.6 325.4L1726.7 326.3L1726.9 327.3L1727.0 328.2L1727.2 329.1L1727.3 330.0L1727.5 330.9L1727.6 331.9L1727.8 332.8L1727.9 333.7L1728.0 334.6L1728.2 335.5L1728.3 336.5L1728.5 337.4L1728.6 338.3L1728.7 339.2L1728.9 340.2L1729.0 341.1L1729.2 342.0L1729.3 342.9L1729.4 343.8L1729.5 344.8L1729.7 345.7L1729.8 346.6L1729.9 347.5L1730.1 348.4L1730.2 349.4L1730.3 350.3L1730.4 351.2L1730.5 352.1L1730.7 353.1L1730.8 354.0L1730.9 354.9L1731.0 355.8L1731.1 356.7L1731.2 357.7L1731.3 358.6L1731.4 359.5L1731.5 360.4L1731.6 361.4L1731.7 362.3L1731.8 363.2L1731.9 364.1L1732.0 365.1L1732.1 366.0L1732.2 366.9L1732.3 367.8L1732.4 368.8L1732.5 369.7L1732.6 370.6L1732.7 371.5L1732.8 372.5L1732.9 373.4L1732.9 374.3L1733.0 375.2L1733.1 376.2L1733.2 377.1L1733.3 378.0L1733.4 378.9L1733.4 379.9L1733.5 380.8L1733.6 381.7L1733.7 382.6L1733.8 383.6L1733.8 384.5L1733.9 385.4L1734.0 386.3L1734.1 387.3L1734.2 388.2L1734.2 389.1L1734.3 390.0L1734.4 391.0L1734.5 391.9L1734.5 392.8L1734.6 393.7L1734.7 394.7L1734.8 395.6L1734.9 396.5L1734.9 397.5L1735.0 398.4L1735.1 399.3L1735.2 400.2L1735.3 401.2L1735.4 402.1L1735.5 403.0L1735.5 403.9L1735.6 404.9L1735.7 405.8L1735.8 406.7L1735.9 407.7L1736.0 408.6L1736.1 409.5L1736.2 410.4L1736.3 411.4L1736.4 412.3L1736.5 413.2L1736.6 414.1L1736.7 415.1L1736.8 416.0L1736.9 416.9L1737.0 417.9L1737.1 418.8L1737.2 419.7L1737.3 420.6L1737.4 421.6L1737.5 422.5L1737.7 423.4L1737.8 424.3L1737.9 425.3L1738.0 426.2L1738.2 427.1L1738.3 428.1L1738.4 429.0L1738.6 429.9L1738.7 430.8L1738.8 431.8L1739.0 432.7L1739.1 433.6L1739.3 434.5L1739.4 435.5L1739.6 436.4L1739.7 437.3L1739.9 438.3L1740.0 439.2L1740.2 440.1L1740.4 441.0L1740.6 442.0L1740.7 442.9L1740.9 443.8L1741.1 444.7L1741.3 445.6L1741.5 446.6L1741.7 447.5L1741.9 448.4L1742.1 449.3L1742.3 450.2L1742.6 451.1L1742.8 452.0L1743.0 452.9L1743.3 453.8L1743.6 454.7L1743.8 455.6L1744.1 456.5L1744.4 457.4L1744.7 458.3L1745.0 459.1L1745.3 460.0L1745.6 460.9L1745.9 461.8L1746.3 462.6L1746.6 463.5L1747.0 464.3L1747.3 465.2L1747.7 466.0L1748.1 466.8L1748.5 467.7L1748.9 468.5L1749.3 469.3L1749.8 470.1L1750.2 470.9L1750.7 471.7L1751.2 472.5L1751.6 473.3L1752.1 474.1L1752.7 474.9L1753.2 475.6L1753.7 476.4L1754.3 477.2L1754.9 477.9L1755.4 478.6L1756.0 479.4L1756.6 480.1L1757.3 480.8L1757.9 481.5L1758.5 482.1L1759.2 482.8L1759.9 483.5L1760.5 484.1L1761.2 484.8L1761.9 485.4L1762.6 486.0L1763.4 486.6L1764.1 487.1L1764.8 487.7L1765.6 488.2L1766.4 488.8L1767.1 489.3L1767.9 489.8L1768.7 490.3L1769.5 490.7L1770.3 491.2L1771.1 491.6L1772.0 492.0L1772.8 492.4L1773.7 492.8L1774.5 493.2L1775.4 493.6L1776.2 493.9L1777.1 494.3L1778.0 494.6L1778.9 494.9L1779.7 495.2L1780.6 495.5L1781.5 495.8L1782.4 496.1L1783.3 496.3L1784.2 496.6L1785.1 496.8L1786.1 497.1L1787.0 497.3L1787.9 497.5L1788.8 497.8L1789.7 498.0L1790.6 498.2L1791.6 498.4L1792.5 498.6L1793.4 498.8L1794.3 499.0L1795.2 499.1L1796.1 499.3L1797.1 499.5L1798.0 499.7L1798.9 499.8L1799.8 500.0L1800.7 500.1L1801.7 500.3L1802.6 500.4L1803.5 500.6L1804.4 500.7L1805.3 500.9L1806.3 501.0L1807.2 501.1L1808.1 501.3L1809.0 501.4L1809.9 501.5L1810.9 501.6L1811.8 501.8L1812.7 501.9L1813.6 502.0L1814.5 502.1L1815.5 502.2L1816.4 502.3L1817.3 502.4L1818.2 502.5L1819.1 502.6L1820.1 502.7L1821.0 502.8L1821.9 502.9L1822.8 503.0L1823.8 503.0L1824.7 503.1L1825.6 503.2L1826.5 503.3L1827.5 503.4L1828.4 503.5L1829.3 503.5L1830.2 503.6L1831.2 503.7L1832.1 503.8L1833.0 503.8L1833.9 503.9L1834.9 504.0L1835.8 504.0L1836.7 504.1L1837.7 504.2L1838.6 504.3L1839.5 504.3L1840.5 504.4L1841.4 504.5L1842.3 504.5L1843.3 504.6L1844.2 504.7L1845.1 504.7L1846.1 504.8L1847.0 504.9L1848.0 505.0" fill="none" stroke="#e76f51" stroke-width="4.9" stroke-linejoin="round" stroke-linecap="butt"/>
<path d="M1264.9 506.0L1265.3 505.9L1265.7 505.1L1266.1 504.2L1266.5 503.3L1266.9 502.4L1267.3 501.5L1267.7 500.6L1268.1 499.8L1268.5 498.9L1268.9 498.0L1269.3 497.1L1269.7 496.2L1270.1 495.4L1270.5 494.5L1270.9 493.6L1271.4 492.7L1271.8 491.9L1272.2 491.0L1272.6 490.1L1273.0 489.2L1273.5 488.3L1273.9 487.5L1274.3 486.6L1274.8 485.7L1275.2 484.8L1275.6 484.0L1276.1 483.1L1276.5 482.2L1276.9 481.3L1277.4 480.5L1277.8 479.6L1278.3 478.7L1278.7 477.8L1279.2 477.0L1279.6 476.1L1280.1 475.2L1280.5 474.3L1281.0 473.5L1281.4 472.6L1281.9 471.7L1282.3 470.9L1282.8 470.0L1283.2 469.1L1283.7 468.2L1284.1 467.4L1284.6 466.5L1285.1 465.6L1285.5 464.8L1286.0 463.9L1286.5 463.0L1286.9 462.2L1287.4 461.3L1287.8 460.4L1288.3 459.6L1288.8 458.7L1289.2 457.8L1289.7 457.0L1290.2 456.1L1290.6 455.3L1291.1 454.4L1291.6 453.5L1292.0 452.7L1292.5 451.8L1293.0 450.9L1293.4 450.1L1293.9 449.2L1294.4 448.4L1294.9 447.5L1295.3 446.7L1295.8 445.8L1296.3 444.9L1296.7 444.1L1297.2 443.2L1297.7 442.4L1298.1 441.5L1298.6 440.7L1299.1 439.8L1299.6 439.0L1300.0 438.1L1300.5 437.2L1301.0 436.4L1301.4 435.5L1301.9 434.7L1302.4 433.8L1302.8 433.0L1303.3 432.1L1303.8 431.3L1304.2 430.4L1304.7 429.6L1305.2 428.8L1305.6 427.9L1306.1 427.1L1306.5 426.2L1307.0 425.4L1307.5 424.5L1307.9 423.7L1308.4 422.8L1308.8 422.0L1309.3 421.2L1309.8 420.3L1310.2 419.5L1310.7 418.7L1311.2 417.8L1311.6 417.0L1312.1 416.1L1312.6 415.3L1313.1 414.5L1313.6 413.7L1314.1 412.8L1314.6 412.0L1315.1 411.2L1315.6 410.3L1316.1 409.5L1316.6 408.7L1317.1 407.9L1317.6 407.1L1318.2 406.2L1318.7 405.4L1319.3 404.6L1319.8 403.8L1320.4 403.0L1321.0 402.2L1321.5 401.4L1322.1 400.6L1322.7 399.8L1323.3 399.0L1324.0 398.2L1324.6 397.4L1325.2 396.6L1325.9 395.8L1326.6 395.0L1327.2 394.2L1327.9 393.5L1328.6 392.7L1329.4 391.9L1330.1 391.2L1330.8 390.4L1331.6 389.7L1332.3 389.0L1333.1 388.4L1333.9 387.8L1334.7 387.2L1335.5 386.6L1336.3 386.1L1337.1 385.7L1338.0 385.3L1338.8 384.9L1339.7 384.6L1340.6 384.4L1341.5 384.3L1342.4 384.2L1343.3 384.2L1344.2 384.2L1345.1 384.4L1346.0 384.6L1346.8 384.8L1347.7 385.2L1348.5 385.6L1349.2 386.1L1349.9 386.7L1350.6 387.3L1351.2 388.0L1351.8 388.7L1352.4 389.5L1352.9 390.4L1353.3 391.2L1353.8 392.1L1354.1 393.0L1354.5 394.0L1354.8 394.9L1355.1 395.9L1355.4 396.9L1355.6 397.9L1355.8 398.9L1356.1 399.9L1356.3 400.9L1356.6 401.9L1356.8 402.9L1357.1 403.8L1357.4 404.8L1357.7 405.8L1358.0 406.8L1358.4 407.7L1358.7 408.7L1359.1 409.6L1359.6 410.5L1360.0 411.4L1360.5 412.2L1361.0 413.1L1361.5 413.9L1362.1 414.7L1362.7 415.4L1363.3 416.2L1364.0 416.9L1364.7 417.5L1365.4 418.1L1366.2 418.7L1366.9 419.2L1367.8 419.7L1368.6 420.2L1369.5 420.6L1370.4 420.9L1371.3 421.2L1372.2 421.5L1373.2 421.7L1374.1 421.8L1375.0 421.9L1376.0 421.9L1376.9 421.9L1377.8 421.8L1378.8 421.7L1379.7 421.6L1380.6 421.4L1381.6 421.1L1382.5 420.9L1383.4 420.6L1384.4 420.2L1385.3 419.9L1386.2 419.5L1387.2 419.1L1388.1 418.7L1389.0 418.3L1389.9 417.8L1390.8 417.4L1391.8 417.0L1392.7 416.5L1393.6 416.0L1394.5 415.6L1395.4 415.2L1396.3 414.7L1397.2 414.3L1398.1 413.9L1399.0 413.4L1399.9 413.0L1400.8 412.6L1401.6 412.2L1402.5 411.8L1403.4 411.4L1404.3 410.9L1405.2 410.5L1406.1 410.2L1407.0 409.8L1407.8 409.4L1408.7 409.0L1409.6 408.6L1410.5 408.2L1411.4 407.8L1412.2 407.5L1413.1 407.1L1414.0 406.7L1414.9 406.4L1415.8 406.0L1416.7 405.6L1417.6 405.3L1418.5 404.9L1419.4 404.6L1420.3 404.2L1421.2 403.9L1422.1 403.6L1423.0 403.2L1423.9 402.9L1424.8 402.5L1425.7 402.2L1426.6 401.9L1427.6 401.5L1428.5 401.2L1429.4 400.9L1430.3 400.5L1431.2 400.2L1432.2 399.8L1433.1 399.4L1434.0 399.1L1434.9 398.7L1435.8 398.3L1436.7 397.9L1437.5 397.5L1438.4 397.0L1439.3 396.6L1440.1 396.1L1441.0 395.6L1441.8 395.1L1442.6 394.5L1443.4 394.0L1444.2 393.4L1445.0 392.9L1445.8 392.3L1446.6 391.7L1447.3 391.1L1448.1 390.5L1448.9 389.9L1449.7 389.3L1450.4 388.7L1451.2 388.0L1452.0 387.4L1452.7 386.8L1453.5 386.2L1454.3 385.6L1455.0 385.0L1455.8 384.5L1456.6 383.9L1457.4 383.3L1458.2 382.8L1459.0 382.2L1459.8 381.7L1460.6 381.1L1461.5 380.6L1462.3 380.1L1463.1 379.6L1463.9 379.1L1464.8 378.6L1465.6 378.1L1466.4 377.6L1467.3 377.1L1468.1 376.6L1469.0 376.1L1469.8 375.7L1470.7 375.2L1471.5 374.8L1472.4 374.3L1473.2 373.8L1474.1 373.4L1475.0 373.0L1475.8 372.5L1476.7 372.1L1477.6 371.7L1478.5 371.2L1479.3 370.8L1480.2 370.4L1481.1 370.0L1482.0 369.5L1482.9 369.1L1483.7 368.7L1484.6 368.3L1485.5 367.9L1486.4 367.5L1487.3 367.1L1488.2 366.7L1489.1 366.2L1489.9 365.8L1490.8 365.4L1491.7 365.0L1492.6 364.6L1493.5 364.2L1494.4 363.8L1495.3 363.4L1496.2 363.0L1497.1 362.6L1497.9 362.2L1498.8 361.8L1499.7 361.4L1500.6 361.0L1501.5 360.6L1502.4 360.2L1503.3 359.8L1504.2 359.4L1505.1 359.0L1506.0 358.6L1506.8 358.2L1507.7 357.8L1508.6 357.4L1509.5 357.0L1510.4 356.6L1511.3 356.2L1512.2 355.8L1513.1 355.4L1514.0 355.0L1514.9 354.6L1515.8 354.2L1516.7 353.8L1517.5 353.4L1518.4 353.0L1519.3 352.6L1520.2 352.2L1521.1 351.8L1522.0 351.4L1522.9 351.0L1523.8 350.6L1524.7 350.2L1525.6 349.8L1526.5 349.4L1527.4 349.0L1528.2 348.6L1529.1 348.2L1530.0 347.8L1530.9 347.4L1531.8 347.0L1532.7 346.6L1533.6 346.2L1534.5 345.8L1535.4 345.4L1536.3 345.0L1537.2 344.6L1538.1 344.2L1538.9 343.8L1539.8 343.4L1540.7 343.0L1541.6 342.6L1542.5 342.2L1543.4 341.8L1544.3 341.4L1545.2 341.0L1546.1 340.6L1547.0 340.2L1547.9 339.8L1548.8 339.4L1549.6 339.0L1550.5 338.6L1551.4 338.2L1552.3 337.8L1553.2 337.4L1554.1 337.0L1555.0 336.6L1555.9 336.2L1556.8 335.8L1557.7 335.4L1558.5 335.0L1559.4 334.6L1560.3 334.2L1561.2 333.8L1562.1 333.4L1563.0 333.0L1563.9 332.6L1564.8 332.2L1565.7 331.8L1566.5 331.3L1567.4 330.9L1568.3 330.5L1569.2 330.1L1570.1 329.7L1571.0 329.3L1571.9 328.9L1572.8 328.5L1573.6 328.1L1574.5 327.7L1575.4 327.3L1576.3 326.9L1577.2 326.5L1578.1 326.1L1579.0 325.7L1579.9 325.2L1580.7 324.8L1581.6 324.4L1582.5 324.0L1583.4 323.6L1584.3 323.2L1585.2 322.8L1586.0 322.4L1586.9 322.0L1587.8 321.5L1588.7 321.1L1589.6 320.7L1590.5 320.3L1591.3 319.9L1592.2 319.5L1593.1 319.1L1594.0 318.6L1594.9 318.2L1595.8 317.8L1596.6 317.4L1597.5 317.0L1598.4 316.5L1599.3 316.1L1600.2 315.7L1601.0 315.3L1601.9 314.9L1602.8 314.4L1603.7 314.0L1604.5 313.6L1605.4 313.2L1606.3 312.8L1607.2 312.3L1608.1 311.9L1608.9 311.5L1609.8 311.1L1610.7 310.6L1611.6 310.2L1612.4 309.8L1613.3 309.4L1614.2 308.9L1615.1 308.5L1615.9 308.1L1616.8 307.6L1617.7 307.2L1618.6 306.8L1619.4 306.3L1620.3 305.9L1621.2 305.5L1622.0 305.0L1622.9 304.6L1623.8 304.2L1624.6 303.7L1625.5 303.3L1626.4 302.9L1627.3 302.4L1628.1 302.0L1629.0 301.5L1629.9 301.1L1630.7 300.7L1631.6 300.2L1632.5 299.8L1633.3 299.3L1634.2 298.9L1635.1 298.5L1635.9 298.0L1636.8 297.6L1637.6 297.1L1638.5 296.7L1639.4 296.2L1640.2 295.8L1641.1 295.3L1642.0 294.9L1642.8 294.4L1643.7 294.0L1644.6 293.5L1645.4 293.1L1646.3 292.6L1647.1 292.2L1648.0 291.8L1648.9 291.3L1649.7 290.9L1650.6 290.4L1651.5 290.0L1652.4 289.5L1653.2 289.1L1654.1 288.7L1655.0 288.2L1655.9 287.8L1656.7 287.4L1657.6 287.0L1658.5 286.5L1659.4 286.1L1660.3 285.7L1661.1 285.3L1662.0 284.9L1662.9 284.4L1663.8 284.0L1664.7 283.6L1665.6 283.2L1666.5 282.8L1667.4 282.4L1668.3 282.0L1669.2 281.6L1670.1 281.3L1671.0 280.9L1671.9 280.5L1672.9 280.1L1673.8 279.8L1674.7 279.4L1675.6 279.0L1676.6 278.7L1677.5 278.3L1678.4 278.0L1679.4 277.6L1680.3 277.3L1681.2 277.0L1682.2 276.6L1683.1 276.3L1684.1 276.0L1685.1 275.7L1686.0 275.5L1687.0 275.2L1687.9 275.0L1688.9 274.9L1689.8 274.7L1690.8 274.7L1691.7 274.6L1692.6 274.6L1693.5 274.7L1694.4 274.9L1695.3 275.1L1696.2 275.3L1697.1 275.7L1698.0 276.0L1698.8 276.5L1699.7 277.0L1700.5 277.5L1701.3 278.0L1702.1 278.6L1702.8 279.2L1703.6 279.9L1704.3 280.6L1705.0 281.3L1705.6 282.0L1706.3 282.7L1706.9 283.5L1707.5 284.2L1708.1 285.0L1708.6 285.8L1709.2 286.6L1709.7 287.4L1710.1 288.2L1710.6 289.1L1711.1 289.9L1711.5 290.8L1711.9 291.6L1712.3 292.5L1712.7 293.4L1713.0 294.3L1713.4 295.2L1713.7 296.1L1714.0 297.0L1714.3 297.9L1714.6 298.9L1714.9 299.8L1715.2 300.8L1715.5 301.7L1715.7 302.7L1716.0 303.6L1716.2 304.6L1716.4 305.6L1716.6 306.5L1716.9 307.5L1717.1 308.5L1717.3 309.4L1717.5 310.4L1717.7 311.4L1717.9 312.4L1718.1 313.3L1718.3 314.3L1718.5 315.3L1718.7 316.3L1718.9 317.2L1719.0 318.2L1719.2 319.2L1719.4 320.1L1719.6 321.1L1719.8 322.1L1720.0 323.1L1720.2 324.0L1720.4 325.0L1720.6 326.0L1720.8 326.9L1720.9 327.9L1721.1 328.8L1721.3 329.8L1721.5 330.8L1721.7 331.7L1721.9 332.7L1722.0 333.6L1722.2 334.6L1722.4 335.6L1722.6 336.5L1722.8 337.5L1722.9 338.4L1723.1 339.4L1723.3 340.4L1723.4 341.3L1723.6 342.3L1723.8 343.2L1724.0 344.2L1724.1 345.1L1724.3 346.1L1724.5 347.1L1724.6 348.0L1724.8 349.0L1724.9 349.9L1725.1 350.9L1725.3 351.8L1725.4 352.8L1725.6 353.7L1725.7 354.7L1725.9 355.7L1726.0 356.6L1726.2 357.6L1726.3 358.5L1726.5 359.5L1726.6 360.4L1726.7 361.4L1726.9 362.4L1727.0 363.3L1727.1 364.3L1727.3 365.2L1727.4 366.2L1727.5 367.2L1727.7 368.1L1727.8 369.1L1727.9 370.0L1728.1 371.0L1728.2 372.0L1728.3 372.9L1728.4 373.9L1728.5 374.8L1728.7 375.8L1728.8 376.8L1728.9 377.7L1729.0 378.7L1729.1 379.7L1729.2 380.6L1729.4 381.6L1729.5 382.6L1729.6 383.5L1729.7 384.5L1729.8 385.4L1729.9 386.4L1730.0 387.4L1730.1 388.3L1730.2 389.3L1730.3 390.3L1730.4 391.3L1730.6 392.2L1730.7 393.2L1730.8 394.2L1730.9 395.1L1731.0 396.1L1731.1 397.1L1731.2 398.0L1731.3 399.0L1731.4 400.0L1731.5 401.0L1731.6 401.9L1731.7 402.9L1731.8 403.9L1731.9 404.8L1732.0 405.8L1732.1 406.8L1732.2 407.8L1732.3 408.7L1732.4 409.7L1732.5 410.7L1732.6 411.7L1732.7 412.7L1732.8 413.6L1732.9 414.6L1733.0 415.6L1733.1 416.6L1733.2 417.5L1733.3 418.5L1733.4 419.5L1733.5 420.5L1733.6 421.5L1733.7 422.4L1733.8 423.4L1733.9 424.4L1734.1 425.4L1734.2 426.4L1734.3 427.4L1734.4 428.3L1734.5 429.3L1734.6 430.3L1734.8 431.3L1734.9 432.3L1735.0 433.2L1735.2 434.2L1735.3 435.2L1735.4 436.2L1735.6 437.1L1735.7 438.1L1735.9 439.1L1736.0 440.0L1736.2 441.0L1736.4 442.0L1736.6 442.9L1736.7 443.9L1736.9 444.8L1737.1 445.8L1737.3 446.8L1737.5 447.7L1737.7 448.7L1738.0 449.6L1738.2 450.6L1738.4 451.5L1738.7 452.4L1738.9 453.4L1739.2 454.3L1739.4 455.2L1739.7 456.2L1740.0 457.1L1740.3 458.0L1740.6 458.9L1740.9 459.8L1741.2 460.7L1741.5 461.6L1741.9 462.5L1742.2 463.4L1742.6 464.3L1742.9 465.2L1743.3 466.1L1743.7 467.0L1744.1 467.9L1744.5 468.7L1745.0 469.6L1745.4 470.5L1745.9 471.3L1746.3 472.2L1746.8 473.0L1747.3 473.8L1747.8 474.7L1748.3 475.5L1748.8 476.3L1749.4 477.1L1749.9 478.0L1750.5 478.8L1751.1 479.6L1751.7 480.3L1752.3 481.1L1752.9 481.9L1753.5 482.6L1754.2 483.4L1754.8 484.1L1755.5 484.8L1756.2 485.5L1756.9 486.2L1757.6 486.9L1758.3 487.5L1759.0 488.2L1759.8 488.8L1760.6 489.4L1761.3 490.0L1762.1 490.6L1762.9 491.1L1763.7 491.6L1764.6 492.1L1765.4 492.6L1766.3 493.1L1767.1 493.5L1768.0 493.9L1768.9 494.4L1769.8 494.8L1770.7 495.1L1771.6 495.5L1772.5 495.8L1773.4 496.2L1774.3 496.5L1775.3 496.8L1776.2 497.1L1777.2 497.4L1778.1 497.6L1779.1 497.9L1780.0 498.1L1781.0 498.4L1782.0 498.6L1782.9 498.8L1783.9 499.0L1784.9 499.3L1785.8 499.5L1786.8 499.6L1787.8 499.8L1788.8 500.0L1789.7 500.2L1790.7 500.4L1791.7 500.5L1792.7 500.7L1793.6 500.8L1794.6 501.0L1795.6 501.1L1796.5 501.3L1797.5 501.4L1798.5 501.6L1799.4 501.7L1800.4 501.8L1801.4 502.0L1802.3 502.1L1803.3 502.2L1804.2 502.3L1805.2 502.4L1806.2 502.5L1807.1 502.6L1808.1 502.7L1809.1 502.8L1810.0 502.9L1811.0 503.0L1812.0 503.1L1812.9 503.2L1813.9 503.3L1814.8 503.4L1815.8 503.5L1816.8 503.5L1817.7 503.6L1818.7 503.7L1819.7 503.8L1820.6 503.8L1821.6 503.9L1822.6 504.0L1823.5 504.0L1824.5 504.1L1825.5 504.2L1826.4 504.2L1827.4 504.3L1828.4 504.4L1829.3 504.4L1830.3 504.5L1831.3 504.5L1832.3 504.6L1833.2 504.6L1834.2 504.7L1835.2 504.7L1836.2 504.8L1837.1 504.9L1838.1 504.9L1839.1 505.0L1840.1 505.0L1841.1 505.1L1842.0 505.1L1843.0 505.2L1844.0 505.2L1845.0 505.3L1846.0 505.3L1847.0 505.4L1848.0 505.5" fill="none" stroke="#e9c46a" stroke-width="4.9" stroke-linejoin="round" stroke-linecap="butt"/>
<path d="M1256.7 503.2L1257.2 502.3L1257.8 501.5L1258.3 500.6L1258.8 499.8L1259.3 498.9L1259.9 498.1L1260.4 497.2L1260.9 496.4L1261.4 495.5L1262.0 494.7L1262.5 493.8L1263.0 492.9L1263.5 492.1L1264.1 491.2L1264.6 490.4L1265.1 489.5L1265.6 488.7L1266.2 487.8L1266.7 487.0L1267.2 486.1L1267.7 485.2L1268.3 484.4L1268.8 483.5L1269.3 482.7L1269.9 481.8L1270.4 481.0L1270.9 480.1L1271.4 479.2L1272.0 478.4L1272.5 477.5L1273.0 476.7L1273.6 475.8L1274.1 475.0L1274.6 474.1L1275.2 473.2L1275.7 472.4L1276.2 471.5L1276.8 470.7L1277.3 469.8L1277.8 469.0L1278.4 468.1L1278.9 467.2L1279.4 466.4L1280.0 465.5L1280.5 464.7L1281.0 463.8L1281.6 463.0L1282.1 462.1L1282.6 461.2L1283.2 460.4L1283.7 459.5L1284.2 458.7L1284.8 457.8L1285.3 457.0L1285.8 456.1L1286.4 455.2L1286.9 454.4L1287.5 453.5L1288.0 452.7L1288.5 451.8L1289.1 451.0L1289.6 450.1L1290.2 449.3L1290.7 448.4L1291.2 447.5L1291.8 446.7L1292.3 445.8L1292.9 445.0L1293.4 444.1L1293.9 443.3L1294.5 442.4L1295.0 441.6L1295.6 440.7L1296.1 439.9L1296.7 439.0L1297.2 438.2L1297.7 437.3L1298.3 436.4L1298.8 435.6L1299.4 434.7L1299.9 433.9L1300.5 433.0L1301.0 432.2L1301.6 431.3L1302.1 430.5L1302.7 429.6L1303.2 428.8L1303.8 427.9L1304.3 427.1L1304.9 426.2L1305.4 425.4L1306.0 424.5L1306.5 423.7L1307.1 422.8L1307.6 422.0L1308.2 421.1L1308.7 420.3L1309.3 419.4L1309.8 418.6L1310.4 417.8L1310.9 416.9L1311.5 416.1L1312.0 415.2L1312.6 414.4L1313.2 413.5L1313.7 412.7L1314.3 411.8L1314.8 411.0L1315.4 410.2L1316.0 409.3L1316.5 408.5L1317.1 407.6L1317.6 406.8L1318.2 406.0L1318.8 405.1L1319.3 404.3L1319.9 403.4L1320.4 402.6L1321.0 401.8L1321.6 400.9L1322.1 400.1L1322.7 399.3L1323.3 398.4L1323.8 397.6L1324.4 396.7L1325.0 395.9L1325.5 395.1L1326.1 394.2L1326.7 393.4L1327.2 392.6L1327.8 391.8L1328.4 390.9L1328.9 390.1L1329.5 389.3L1330.1 388.4L1330.6 387.6L1331.2 386.8L1331.8 385.9L1332.4 385.1L1332.9 384.3L1333.5 383.5L1334.1 382.6L1334.7 381.8L1335.2 381.0L1335.8 380.2L1336.4 379.4L1337.0 378.5L1337.5 377.7L1338.1 376.9L1338.7 376.1L1339.3 375.3L1339.9 374.4L1340.4 373.6L1341.0 372.8L1341.6 372.0L1342.2 371.2L1342.8 370.4L1343.3 369.5L1343.9 368.7L1344.5 367.9L1345.1 367.1L1345.7 366.3L1346.3 365.5L1346.9 364.7L1347.4 363.9L1348.0 363.1L1348.6 362.3L1349.2 361.4L1349.8 360.6L1350.4 359.8L1351.0 359.0L1351.6 358.2L1352.2 357.4L1352.8 356.6L1353.4 355.8L1354.0 355.0L1354.5 354.2L1355.1 353.4L1355.7 352.6L1356.3 351.8L1357.0 351.0L1357.6 350.2L1358.2 349.5L1358.8 348.7L1359.4 347.9L1360.0 347.1L1360.7 346.3L1361.3 345.5L1361.9 344.7L1362.6 343.9L1363.2 343.1L1363.9 342.4L1364.5 341.6L1365.2 340.8L1365.9 340.0L1366.6 339.2L1367.3 338.5L1368.0 337.7L1368.7 336.9L1369.4 336.1L1370.1 335.4L1370.9 334.6L1371.6 333.8L1372.4 333.1L1373.2 332.3L1373.9 331.5L1374.7 330.8L1375.5 330.0L1376.4 329.3L1377.2 328.6L1378.0 327.9L1378.9 327.3L1379.7 326.7L1380.6 326.2L1381.5 325.7L1382.3 325.3L1383.2 325.0L1384.1 324.8L1384.9 324.7L1385.8 324.7L1386.6 324.7L1387.4 325.0L1388.1 325.3L1388.9 325.7L1389.6 326.2L1390.2 326.8L1390.9 327.5L1391.5 328.2L1392.1 329.0L1392.6 329.8L1393.2 330.7L1393.7 331.6L1394.2 332.5L1394.6 333.4L1395.0 334.3L1395.4 335.2L1395.8 336.1L1396.2 337.1L1396.5 338.0L1396.9 339.0L1397.2 339.9L1397.5 340.9L1397.7 341.9L1398.0 342.8L1398.2 343.8L1398.5 344.8L1398.7 345.8L1398.9 346.8L1399.1 347.8L1399.3 348.8L1399.5 349.8L1399.7 350.8L1399.8 351.9L1400.0 352.9L1400.2 353.9L1400.3 354.9L1400.5 356.0L1400.7 357.0L1400.8 358.0L1401.0 359.0L1401.1 360.1L1401.3 361.1L1401.5 362.1L1401.6 363.1L1401.8 364.2L1402.0 365.2L1402.2 366.2L1402.3 367.2L1402.5 368.2L1402.7 369.2L1402.9 370.2L1403.2 371.2L1403.4 372.2L1403.6 373.2L1403.8 374.2L1404.1 375.2L1404.4 376.2L1404.6 377.1L1404.9 378.1L1405.2 379.0L1405.5 380.0L1405.9 380.9L1406.2 381.8L1406.6 382.8L1407.0 383.7L1407.4 384.6L1407.8 385.5L1408.2 386.3L1408.7 387.2L1409.1 388.1L1409.6 388.9L1410.1 389.8L1410.7 390.6L1411.2 391.4L1411.8 392.2L1412.4 393.0L1413.1 393.7L1413.7 394.5L1414.4 395.2L1415.1 395.9L1415.8 396.6L1416.6 397.2L1417.4 397.8L1418.2 398.4L1419.0 398.9L1419.8 399.4L1420.7 399.9L1421.6 400.3L1422.5 400.6L1423.4 400.9L1424.3 401.2L1425.3 401.3L1426.3 401.5L1427.3 401.6L1428.3 401.7L1429.3 401.7L1430.4 401.7L1431.4 401.6L1432.4 401.5L1433.5 401.4L1434.5 401.3L1435.6 401.2L1436.6 401.0L1437.7 400.8L1438.7 400.6L1439.7 400.4L1440.7 400.2L1441.8 399.9L1442.8 399.7L1443.8 399.4L1444.8 399.2L1445.8 398.9L1446.7 398.6L1447.7 398.3L1448.7 398.0L1449.7 397.7L1450.6 397.4L1451.6 397.1L1452.5 396.7L1453.5 396.4L1454.4 396.0L1455.4 395.7L1456.3 395.3L1457.3 394.9L1458.2 394.6L1459.1 394.2L1460.1 393.8L1461.0 393.4L1461.9 393.0L1462.8 392.6L1463.7 392.2L1464.6 391.8L1465.6 391.3L1466.5 390.9L1467.4 390.5L1468.3 390.1L1469.2 389.7L1470.1 389.2L1471.0 388.8L1471.9 388.4L1472.8 387.9L1473.7 387.5L1474.6 387.1L1475.5 386.6L1476.4 386.2L1477.3 385.8L1478.2 385.3L1479.1 384.9L1480.0 384.5L1480.9 384.0L1481.8 383.6L1482.7 383.2L1483.6 382.8L1484.6 382.3L1485.5 381.9L1486.4 381.5L1487.3 381.1L1488.2 380.7L1489.1 380.2L1490.0 379.8L1490.9 379.4L1491.9 379.0L1492.8 378.6L1493.7 378.2L1494.6 377.8L1495.5 377.4L1496.5 377.0L1497.4 376.6L1498.3 376.2L1499.2 375.8L1500.1 375.4L1501.1 375.0L1502.0 374.6L1502.9 374.2L1503.8 373.8L1504.8 373.4L1505.7 373.0L1506.6 372.6L1507.6 372.2L1508.5 371.8L1509.4 371.4L1510.4 371.1L1511.3 370.7L1512.2 370.3L1513.2 369.9L1514.1 369.5L1515.0 369.1L1516.0 368.8L1516.9 368.4L1517.8 368.0L1518.8 367.6L1519.7 367.2L1520.6 366.9L1521.6 366.5L1522.5 366.1L1523.4 365.7L1524.4 365.4L1525.3 365.0L1526.3 364.6L1527.2 364.2L1528.1 363.9L1529.1 363.5L1530.0 363.1L1531.0 362.8L1531.9 362.4L1532.8 362.0L1533.8 361.6L1534.7 361.3L1535.7 360.9L1536.6 360.5L1537.5 360.2L1538.5 359.8L1539.4 359.4L1540.4 359.0L1541.3 358.7L1542.2 358.3L1543.2 357.9L1544.1 357.6L1545.1 357.2L1546.0 356.8L1546.9 356.5L1547.9 356.1L1548.8 355.7L1549.8 355.4L1550.7 355.0L1551.7 354.6L1552.6 354.2L1553.5 353.9L1554.5 353.5L1555.4 353.1L1556.4 352.8L1557.3 352.4L1558.2 352.0L1559.2 351.6L1560.1 351.3L1561.0 350.9L1562.0 350.5L1562.9 350.1L1563.9 349.8L1564.8 349.4L1565.7 349.0L1566.7 348.6L1567.6 348.3L1568.5 347.9L1569.5 347.5L1570.4 347.1L1571.4 346.7L1572.3 346.4L1573.2 346.0L1574.2 345.6L1575.1 345.2L1576.0 344.8L1577.0 344.5L1577.9 344.1L1578.8 343.7L1579.8 343.3L1580.7 342.9L1581.6 342.5L1582.5 342.2L1583.5 341.8L1584.4 341.4L1585.3 341.0L1586.3 340.6L1587.2 340.2L1588.1 339.8L1589.1 339.4L1590.0 339.1L1590.9 338.7L1591.8 338.3L1592.8 337.9L1593.7 337.5L1594.6 337.1L1595.6 336.7L1596.5 336.3L1597.4 335.9L1598.3 335.5L1599.3 335.1L1600.2 334.7L1601.1 334.3L1602.0 333.9L1603.0 333.5L1603.9 333.1L1604.8 332.7L1605.7 332.4L1606.7 332.0L1607.6 331.6L1608.5 331.2L1609.4 330.8L1610.4 330.4L1611.3 330.0L1612.2 329.6L1613.1 329.2L1614.1 328.7L1615.0 328.3L1615.9 327.9L1616.8 327.5L1617.8 327.1L1618.7 326.7L1619.6 326.3L1620.5 325.9L1621.4 325.5L1622.4 325.1L1623.3 324.7L1624.2 324.3L1625.1 323.9L1626.1 323.5L1627.0 323.1L1627.9 322.7L1628.8 322.3L1629.7 321.8L1630.7 321.4L1631.6 321.0L1632.5 320.6L1633.4 320.2L1634.3 319.8L1635.3 319.4L1636.2 319.0L1637.1 318.5L1638.0 318.1L1638.9 317.7L1639.9 317.3L1640.8 316.9L1641.7 316.5L1642.6 316.1L1643.5 315.6L1644.5 315.2L1645.4 314.8L1646.3 314.4L1647.2 314.0L1648.1 313.6L1649.0 313.1L1650.0 312.7L1650.9 312.3L1651.8 311.9L1652.7 311.5L1653.6 311.0L1654.6 310.6L1655.5 310.2L1656.4 309.8L1657.3 309.4L1658.2 308.9L1659.1 308.5L1660.1 308.1L1661.0 307.7L1661.9 307.2L1662.8 306.8L1663.7 306.4L1664.7 306.0L1665.6 305.6L1666.5 305.1L1667.4 304.7L1668.3 304.3L1669.3 303.9L1670.2 303.5L1671.1 303.1L1672.0 302.6L1673.0 302.2L1673.9 301.8L1674.8 301.4L1675.7 301.0L1676.7 300.6L1677.6 300.3L1678.6 299.9L1679.5 299.5L1680.5 299.2L1681.4 298.9L1682.4 298.6L1683.4 298.3L1684.3 298.1L1685.3 297.9L1686.3 297.7L1687.3 297.5L1688.3 297.3L1689.4 297.2L1690.4 297.1L1691.4 297.1L1692.5 297.1L1693.5 297.1L1694.5 297.2L1695.5 297.3L1696.5 297.5L1697.5 297.7L1698.5 298.0L1699.4 298.3L1700.3 298.7L1701.1 299.1L1701.9 299.7L1702.7 300.2L1703.5 300.9L1704.2 301.5L1704.8 302.2L1705.5 303.0L1706.1 303.8L1706.7 304.6L1707.3 305.5L1707.8 306.3L1708.3 307.2L1708.9 308.1L1709.3 309.0L1709.8 309.9L1710.3 310.8L1710.7 311.8L1711.1 312.7L1711.6 313.6L1712.0 314.6L1712.4 315.5L1712.7 316.4L1713.1 317.4L1713.5 318.3L1713.8 319.3L1714.1 320.2L1714.4 321.2L1714.8 322.1L1715.1 323.1L1715.3 324.1L1715.6 325.0L1715.9 326.0L1716.2 327.0L1716.4 328.0L1716.7 328.9L1716.9 329.9L1717.1 330.9L1717.4 331.9L1717.6 332.9L1717.8 333.8L1718.0 334.8L1718.2 335.8L1718.4 336.8L1718.6 337.8L1718.8 338.8L1719.0 339.8L1719.2 340.8L1719.4 341.8L1719.5 342.8L1719.7 343.8L1719.9 344.7L1720.1 345.7L1720.2 346.7L1720.4 347.7L1720.6 348.7L1720.8 349.7L1720.9 350.7L1721.1 351.7L1721.3 352.7L1721.5 353.7L1721.6 354.7L1721.8 355.7L1722.0 356.7L1722.2 357.7L1722.4 358.7L1722.5 359.7L1722.7 360.7L1722.9 361.7L1723.1 362.6L1723.3 363.6L1723.4 364.6L1723.6 365.6L1723.8 366.6L1724.0 367.6L1724.2 368.6L1724.3 369.6L1724.5 370.6L1724.7 371.6L1724.9 372.6L1725.1 373.6L1725.2 374.6L1725.4 375.6L1725.6 376.5L1725.8 377.5L1725.9 378.5L1726.1 379.5L1726.3 380.5L1726.4 381.5L1726.6 382.5L1726.8 383.5L1726.9 384.5L1727.1 385.5L1727.3 386.5L1727.4 387.5L1727.6 388.5L1727.7 389.5L1727.9 390.5L1728.0 391.5L1728.2 392.5L1728.3 393.5L1728.5 394.5L1728.6 395.5L1728.8 396.5L1728.9 397.5L1729.0 398.5L1729.2 399.5L1729.3 400.5L1729.4 401.5L1729.6 402.5L1729.7 403.5L1729.8 404.5L1729.9 405.5L1730.0 406.5L1730.2 407.5L1730.3 408.5L1730.4 409.5L1730.5 410.5L1730.6 411.5L1730.7 412.5L1730.8 413.5L1730.9 414.5L1731.1 415.5L1731.2 416.5L1731.3 417.5L1731.4 418.5L1731.5 419.5L1731.6 420.5L1731.7 421.5L1731.8 422.5L1732.0 423.5L1732.1 424.5L1732.2 425.5L1732.3 426.5L1732.4 427.5L1732.6 428.5L1732.7 429.5L1732.8 430.5L1733.0 431.5L1733.1 432.5L1733.3 433.5L1733.4 434.5L1733.6 435.5L1733.7 436.5L1733.9 437.5L1734.0 438.5L1734.2 439.5L1734.4 440.5L1734.5 441.5L1734.7 442.5L1734.9 443.4L1735.1 444.4L1735.3 445.4L1735.5 446.4L1735.7 447.4L1735.9 448.4L1736.1 449.3L1736.4 450.3L1736.6 451.3L1736.9 452.3L1737.1 453.3L1737.4 454.2L1737.6 455.2L1737.9 456.2L1738.2 457.2L1738.5 458.1L1738.8 459.1L1739.1 460.1L1739.4 461.0L1739.7 462.0L1740.0 462.9L1740.4 463.9L1740.7 464.9L1741.1 465.8L1741.5 466.8L1741.9 467.7L1742.2 468.7L1742.6 469.6L1743.1 470.5L1743.5 471.5L1743.9 472.4L1744.4 473.3L1744.8 474.2L1745.3 475.1L1745.8 476.0L1746.3 476.9L1746.9 477.7L1747.4 478.6L1748.0 479.4L1748.5 480.3L1749.1 481.1L1749.7 481.9L1750.4 482.7L1751.0 483.4L1751.7 484.2L1752.4 484.9L1753.1 485.6L1753.8 486.3L1754.5 486.9L1755.3 487.6L1756.1 488.2L1756.9 488.8L1757.7 489.4L1758.5 490.0L1759.3 490.5L1760.2 491.1L1761.0 491.6L1761.9 492.1L1762.8 492.6L1763.7 493.1L1764.6 493.6L1765.5 494.0L1766.4 494.4L1767.4 494.9L1768.3 495.3L1769.2 495.7L1770.2 496.0L1771.1 496.4L1772.1 496.8L1773.0 497.1L1774.0 497.5L1774.9 497.8L1775.9 498.1L1776.9 498.4L1777.8 498.7L1778.8 499.0L1779.8 499.2L1780.7 499.5L1781.7 499.7L1782.7 500.0L1783.7 500.2L1784.6 500.4L1785.6 500.6L1786.6 500.8L1787.6 501.0L1788.6 501.2L1789.6 501.4L1790.6 501.6L1791.6 501.7L1792.6 501.9L1793.5 502.1L1794.5 502.2L1795.5 502.3L1796.5 502.5L1797.5 502.6L1798.5 502.7L1799.5 502.8L1800.5 502.9L1801.6 503.0L1802.6 503.1L1803.6 503.2L1804.6 503.3L1805.6 503.4L1806.6 503.5L1807.6 503.5L1808.6 503.6L1809.6 503.7L1810.6 503.7L1811.6 503.8L1812.7 503.8L1813.7 503.9L1814.7 504.0L1815.7 504.0L1816.7 504.1L1817.7 504.1L1818.7 504.1L1819.7 504.2L1820.8 504.2L1821.8 504.3L1822.8 504.3L1823.8 504.4L1824.8 504.4L1825.8 504.4L1826.8 504.5L1827.9 504.5L1828.9 504.6L1829.9 504.6L1830.9 504.6L1831.9 504.7L1832.9 504.7L1833.9 504.8L1834.9 504.8L1835.9 504.9L1836.9 504.9L1837.9 505.0L1838.9 505.0L1839.9 505.1L1841.0 505.2L1842.0 505.2L1843.0 505.3L1843.9 505.4L1844.9 505.5L1845.9 505.6L1846.9 505.6L1847.9 505.7" fill="none" stroke="#b8438a" stroke-width="4.9" stroke-linejoin="round" stroke-linecap="butt"/>
</g>
<line x1="1263.7" y1="53.9" x2="1281.3" y2="53.9" stroke="#0b6088" stroke-width="5" stroke-linecap="round"/>
<text x="1298.6" y="64.7" font-size="29.17" fill="#0b6088" stroke="#0b6088" stroke-width="0.45" stroke-linejoin="round">d=4 nm, x=52.9%</text>
<line x1="1263.7" y1="93.6" x2="1281.3" y2="93.6" stroke="#3f97c7" stroke-width="5" stroke-linecap="round"/>
<text x="1298.6" y="104.4" font-size="29.17" fill="#3f97c7" stroke="#3f97c7" stroke-width="0.45" stroke-linejoin="round">d=5 nm, x=48.8%</text>
<line x1="1263.7" y1="133.3" x2="1281.3" y2="133.3" stroke="#1d8c3c" stroke-width="5" stroke-linecap="round"/>
<text x="1298.6" y="144.1" font-size="29.17" fill="#1d8c3c" stroke="#1d8c3c" stroke-width="0.45" stroke-linejoin="round">d=6 nm, x=46.1%</text>
<line x1="1263.7" y1="172.8" x2="1281.3" y2="172.8" stroke="#8fb57b" stroke-width="5" stroke-linecap="round"/>
<text x="1298.6" y="184.3" font-size="29.17" fill="#8fb57b" stroke="#8fb57b" stroke-width="0.45" stroke-linejoin="round">d=7 nm, x=44.3%</text>
<line x1="1263.7" y1="212.4" x2="1281.3" y2="212.4" stroke="#e76f51" stroke-width="5" stroke-linecap="round"/>
<text x="1298.6" y="224.3" font-size="29.17" fill="#e76f51" stroke="#e76f51" stroke-width="0.45" stroke-linejoin="round">d=8 nm, x=42.9%</text>
<line x1="1263.7" y1="251.9" x2="1281.3" y2="251.9" stroke="#e9c46a" stroke-width="5" stroke-linecap="round"/>
<text x="1298.6" y="263.8" font-size="29.17" fill="#e9c46a" stroke="#e9c46a" stroke-width="0.45" stroke-linejoin="round">d=9 nm, x=41.8%</text>
<line x1="1263.7" y1="290.8" x2="1281.3" y2="290.8" stroke="#b8438a" stroke-width="5" stroke-linecap="round"/>
<text x="1297.4" y="302" font-size="29.6" fill="#7a1a6c" stroke="#7a1a6c" stroke-width="0.45" stroke-linejoin="round">d=10 nm, x=41.0%</text>
<line x1="1263.7" y1="328.9" x2="1281.3" y2="328.9" stroke="#de3c7e" stroke-width="5" stroke-linecap="round"/>
<text x="1297.4" y="338.2" font-size="29.6" fill="#c2478e" stroke="#c2478e" stroke-width="0.45" stroke-linejoin="round">d=11 nm, x=40.3%</text>
<g clip-path="url(#cb)">
<path d="M1256.7 486.8L1257.2 485.9L1257.7 485.1L1258.2 484.2L1258.7 483.4L1259.3 482.5L1259.8 481.6L1260.3 480.8L1260.8 479.9L1261.3 479.1L1261.8 478.2L1262.4 477.4L1262.9 476.5L1263.4 475.6L1263.9 474.8L1264.5 473.9L1265.0 473.1L1265.5 472.2L1266.1 471.4L1266.6 470.5L1267.1 469.7L1267.7 468.8L1268.2 468.0L1268.8 467.2L1269.3 466.3L1269.9 465.5L1270.4 464.6L1270.9 463.8L1271.5 462.9L1272.0 462.1L1272.6 461.3L1273.1 460.4L1273.7 459.6L1274.3 458.8L1274.8 457.9L1275.4 457.1L1275.9 456.3L1276.5 455.4L1277.1 454.6L1277.6 453.8L1278.2 452.9L1278.8 452.1L1279.3 451.3L1279.9 450.4L1280.5 449.6L1281.0 448.8L1281.6 448.0L1282.2 447.1L1282.7 446.3L1283.3 445.5L1283.9 444.7L1284.5 443.9L1285.1 443.0L1285.6 442.2L1286.2 441.4L1286.8 440.6L1287.4 439.8L1288.0 438.9L1288.6 438.1L1289.1 437.3L1289.7 436.5L1290.3 435.7L1290.9 434.9L1291.5 434.1L1292.1 433.2L1292.7 432.4L1293.3 431.6L1293.9 430.8L1294.5 430.0L1295.1 429.2L1295.7 428.4L1296.3 427.6L1296.9 426.8L1297.5 426.0L1298.1 425.2L1298.7 424.4L1299.3 423.6L1299.9 422.8L1300.5 422.0L1301.1 421.2L1301.7 420.4L1302.3 419.6L1302.9 418.8L1303.5 418.0L1304.1 417.2L1304.7 416.4L1305.3 415.6L1305.9 414.8L1306.6 414.0L1307.2 413.2L1307.8 412.4L1308.4 411.6L1309.0 410.8L1309.6 410.0L1310.2 409.3L1310.8 408.5L1311.5 407.7L1312.1 406.9L1312.7 406.1L1313.3 405.3L1313.9 404.5L1314.5 403.7L1315.2 402.9L1315.8 402.2L1316.4 401.4L1317.0 400.6L1317.6 399.8L1318.2 399.0L1318.9 398.2L1319.5 397.4L1320.1 396.6L1320.7 395.9L1321.3 395.1L1322.0 394.3L1322.6 393.5L1323.2 392.7L1323.8 391.9L1324.4 391.1L1325.0 390.3L1325.6 389.6L1326.3 388.8L1326.9 388.0L1327.5 387.2L1328.1 386.4L1328.7 385.6L1329.3 384.8L1329.9 384.0L1330.6 383.2L1331.2 382.4L1331.8 381.6L1332.4 380.8L1333.0 380.1L1333.6 379.3L1334.2 378.5L1334.8 377.7L1335.4 376.9L1336.0 376.1L1336.7 375.3L1337.3 374.5L1337.9 373.7L1338.5 372.9L1339.1 372.1L1339.7 371.3L1340.3 370.5L1340.9 369.7L1341.5 368.8L1342.1 368.0L1342.7 367.2L1343.3 366.4L1343.9 365.6L1344.4 364.8L1345.0 364.0L1345.6 363.2L1346.2 362.4L1346.8 361.6L1347.4 360.7L1348.0 359.9L1348.6 359.1L1349.2 358.3L1349.8 357.5L1350.3 356.7L1350.9 355.8L1351.5 355.0L1352.1 354.2L1352.7 353.4L1353.3 352.6L1353.9 351.8L1354.5 351.0L1355.1 350.1L1355.7 349.3L1356.3 348.5L1356.8 347.7L1357.4 346.9L1358.0 346.1L1358.6 345.3L1359.2 344.5L1359.8 343.7L1360.4 342.9L1361.0 342.1L1361.6 341.3L1362.2 340.5L1362.9 339.7L1363.5 338.9L1364.1 338.1L1364.7 337.3L1365.3 336.5L1365.9 335.7L1366.5 334.9L1367.2 334.1L1367.8 333.4L1368.4 332.6L1369.1 331.8L1369.7 331.0L1370.3 330.3L1371.0 329.5L1371.6 328.7L1372.3 328.0L1372.9 327.2L1373.6 326.5L1374.2 325.7L1374.9 325.0L1375.5 324.2L1376.2 323.5L1376.9 322.7L1377.6 322.0L1378.2 321.3L1378.9 320.6L1379.6 319.8L1380.3 319.1L1381.0 318.4L1381.7 317.7L1382.4 317.0L1383.1 316.3L1383.8 315.6L1384.5 314.9L1385.3 314.2L1386.0 313.5L1386.7 312.9L1387.5 312.2L1388.2 311.5L1389.0 310.9L1389.7 310.2L1390.5 309.6L1391.3 308.9L1392.0 308.3L1392.8 307.7L1393.6 307.0L1394.4 306.4L1395.2 305.8L1396.1 305.2L1396.9 304.6L1397.7 304.0L1398.6 303.4L1399.4 302.9L1400.3 302.3L1401.2 301.7L1402.0 301.2L1402.9 300.6L1403.8 300.1L1404.8 299.6L1405.7 299.0L1406.6 298.5L1407.6 298.1L1408.5 297.6L1409.5 297.2L1410.4 296.8L1411.4 296.4L1412.3 296.1L1413.3 295.8L1414.2 295.6L1415.2 295.4L1416.1 295.3L1417.0 295.2L1417.9 295.3L1418.9 295.3L1419.7 295.5L1420.6 295.7L1421.5 296.0L1422.3 296.4L1423.2 296.8L1424.0 297.3L1424.7 297.9L1425.5 298.5L1426.2 299.1L1426.8 299.8L1427.5 300.5L1428.1 301.3L1428.6 302.1L1429.1 303.0L1429.6 303.8L1430.0 304.8L1430.4 305.7L1430.8 306.6L1431.1 307.6L1431.4 308.6L1431.7 309.6L1432.0 310.6L1432.3 311.7L1432.5 312.7L1432.7 313.8L1433.0 314.8L1433.2 315.8L1433.4 316.9L1433.6 317.9L1433.8 319.0L1434.0 320.0L1434.2 321.0L1434.3 322.0L1434.5 323.0L1434.7 324.0L1434.9 325.0L1435.1 326.0L1435.3 327.0L1435.5 328.0L1435.7 329.0L1435.8 329.9L1436.0 330.9L1436.2 331.9L1436.4 332.8L1436.5 333.8L1436.7 334.7L1436.9 335.7L1437.1 336.7L1437.3 337.6L1437.4 338.6L1437.6 339.5L1437.8 340.5L1438.0 341.4L1438.1 342.4L1438.3 343.3L1438.5 344.3L1438.7 345.2L1438.8 346.2L1439.0 347.1L1439.2 348.1L1439.4 349.1L1439.5 350.0L1439.7 351.0L1439.9 352.0L1440.1 352.9L1440.3 353.9L1440.4 354.9L1440.6 355.9L1440.8 356.9L1441.0 357.9L1441.2 358.9L1441.4 359.9L1441.6 360.9L1441.7 361.9L1441.9 362.9L1442.1 364.0L1442.3 365.0L1442.5 366.1L1442.7 367.1L1442.9 368.2L1443.1 369.2L1443.4 370.3L1443.6 371.3L1443.9 372.4L1444.1 373.4L1444.4 374.4L1444.7 375.4L1445.0 376.4L1445.4 377.4L1445.7 378.4L1446.1 379.3L1446.5 380.2L1447.0 381.1L1447.5 382.0L1448.0 382.8L1448.5 383.6L1449.1 384.3L1449.7 385.0L1450.4 385.7L1451.1 386.4L1451.8 387.0L1452.5 387.6L1453.3 388.1L1454.1 388.7L1454.9 389.2L1455.8 389.6L1456.7 390.0L1457.6 390.5L1458.5 390.8L1459.4 391.2L1460.3 391.5L1461.3 391.8L1462.3 392.1L1463.2 392.3L1464.2 392.5L1465.2 392.7L1466.2 392.9L1467.2 393.1L1468.2 393.2L1469.3 393.3L1470.3 393.4L1471.3 393.5L1472.3 393.6L1473.3 393.6L1474.3 393.6L1475.3 393.7L1476.3 393.6L1477.3 393.6L1478.3 393.6L1479.2 393.5L1480.2 393.5L1481.2 393.4L1482.2 393.3L1483.2 393.1L1484.2 393.0L1485.1 392.9L1486.1 392.7L1487.1 392.6L1488.0 392.4L1489.0 392.2L1490.0 392.0L1490.9 391.7L1491.9 391.5L1492.9 391.3L1493.8 391.0L1494.8 390.8L1495.7 390.5L1496.7 390.2L1497.7 389.9L1498.6 389.6L1499.6 389.3L1500.5 389.0L1501.5 388.7L1502.4 388.3L1503.4 388.0L1504.3 387.6L1505.2 387.3L1506.2 386.9L1507.1 386.6L1508.1 386.2L1509.0 385.8L1509.9 385.4L1510.9 385.0L1511.8 384.7L1512.8 384.3L1513.7 383.9L1514.6 383.5L1515.6 383.1L1516.5 382.7L1517.4 382.2L1518.4 381.8L1519.3 381.4L1520.2 381.0L1521.2 380.6L1522.1 380.2L1523.0 379.8L1524.0 379.3L1524.9 378.9L1525.8 378.5L1526.8 378.1L1527.7 377.7L1528.6 377.3L1529.5 376.9L1530.5 376.5L1531.4 376.1L1532.3 375.7L1533.3 375.3L1534.2 374.9L1535.1 374.5L1536.1 374.1L1537.0 373.7L1537.9 373.3L1538.9 372.9L1539.8 372.6L1540.7 372.2L1541.7 371.8L1542.6 371.5L1543.5 371.1L1544.5 370.7L1545.4 370.4L1546.3 370.0L1547.3 369.7L1548.2 369.3L1549.1 369.0L1550.1 368.6L1551.0 368.3L1551.9 367.9L1552.9 367.6L1553.8 367.2L1554.7 366.9L1555.7 366.6L1556.6 366.2L1557.5 365.9L1558.5 365.6L1559.4 365.2L1560.4 364.9L1561.3 364.6L1562.2 364.2L1563.2 363.9L1564.1 363.6L1565.0 363.2L1566.0 362.9L1566.9 362.6L1567.8 362.2L1568.8 361.9L1569.7 361.6L1570.7 361.3L1571.6 360.9L1572.5 360.6L1573.5 360.3L1574.4 360.0L1575.3 359.6L1576.3 359.3L1577.2 359.0L1578.2 358.6L1579.1 358.3L1580.0 358.0L1581.0 357.6L1581.9 357.3L1582.9 357.0L1583.8 356.6L1584.7 356.3L1585.7 356.0L1586.6 355.6L1587.5 355.3L1588.5 354.9L1589.4 354.6L1590.4 354.2L1591.3 353.9L1592.2 353.5L1593.2 353.2L1594.1 352.8L1595.1 352.5L1596.0 352.1L1596.9 351.7L1597.9 351.4L1598.8 351.0L1599.7 350.7L1600.7 350.3L1601.6 349.9L1602.6 349.5L1603.5 349.2L1604.4 348.8L1605.4 348.4L1606.3 348.0L1607.3 347.6L1608.2 347.3L1609.1 346.9L1610.1 346.5L1611.0 346.1L1611.9 345.7L1612.9 345.3L1613.8 345.0L1614.7 344.6L1615.7 344.2L1616.6 343.8L1617.5 343.4L1618.5 343.0L1619.4 342.6L1620.3 342.2L1621.3 341.8L1622.2 341.4L1623.1 341.1L1624.1 340.7L1625.0 340.3L1625.9 339.9L1626.9 339.5L1627.8 339.1L1628.7 338.7L1629.7 338.3L1630.6 337.9L1631.5 337.5L1632.4 337.2L1633.4 336.8L1634.3 336.4L1635.2 336.0L1636.1 335.6L1637.1 335.2L1638.0 334.8L1638.9 334.5L1639.8 334.1L1640.7 333.7L1641.7 333.3L1642.6 333.0L1643.5 332.6L1644.4 332.2L1645.3 331.8L1646.3 331.5L1647.2 331.1L1648.1 330.7L1649.0 330.3L1649.9 330.0L1650.9 329.6L1651.8 329.2L1652.7 328.9L1653.6 328.5L1654.6 328.1L1655.5 327.8L1656.4 327.4L1657.3 327.0L1658.3 326.7L1659.2 326.3L1660.1 326.0L1661.1 325.6L1662.0 325.2L1662.9 324.9L1663.9 324.5L1664.8 324.2L1665.7 323.8L1666.7 323.4L1667.6 323.1L1668.6 322.7L1669.5 322.4L1670.5 322.0L1671.4 321.7L1672.4 321.3L1673.3 321.0L1674.3 320.6L1675.2 320.3L1676.2 319.9L1677.2 319.6L1678.1 319.2L1679.1 318.9L1680.1 318.5L1681.0 318.2L1682.0 317.8L1683.0 317.5L1684.0 317.2L1684.9 316.9L1685.9 316.6L1686.9 316.3L1687.9 316.1L1688.8 315.9L1689.8 315.8L1690.8 315.7L1691.7 315.7L1692.7 315.8L1693.6 315.9L1694.5 316.1L1695.4 316.4L1696.3 316.7L1697.2 317.1L1698.1 317.5L1698.9 318.0L1699.8 318.6L1700.6 319.2L1701.4 319.8L1702.1 320.5L1702.9 321.2L1703.6 321.9L1704.3 322.6L1705.0 323.4L1705.6 324.2L1706.2 325.0L1706.8 325.8L1707.3 326.6L1707.9 327.4L1708.4 328.2L1708.9 329.1L1709.3 330.0L1709.8 330.8L1710.2 331.7L1710.6 332.6L1711.0 333.5L1711.3 334.4L1711.7 335.4L1712.0 336.3L1712.3 337.3L1712.6 338.2L1712.9 339.2L1713.2 340.1L1713.4 341.1L1713.7 342.1L1713.9 343.1L1714.1 344.1L1714.4 345.1L1714.6 346.1L1714.8 347.1L1715.0 348.1L1715.1 349.1L1715.3 350.1L1715.5 351.1L1715.7 352.1L1715.8 353.2L1716.0 354.2L1716.2 355.2L1716.4 356.2L1716.5 357.2L1716.7 358.2L1716.9 359.2L1717.0 360.3L1717.2 361.3L1717.4 362.3L1717.6 363.3L1717.8 364.3L1718.0 365.3L1718.2 366.3L1718.4 367.2L1718.6 368.2L1718.8 369.2L1719.0 370.2L1719.2 371.2L1719.4 372.2L1719.6 373.2L1719.8 374.1L1720.0 375.1L1720.2 376.1L1720.4 377.1L1720.7 378.0L1720.9 379.0L1721.1 380.0L1721.3 380.9L1721.5 381.9L1721.7 382.9L1722.0 383.9L1722.2 384.8L1722.4 385.8L1722.6 386.8L1722.8 387.7L1723.0 388.7L1723.2 389.7L1723.4 390.6L1723.6 391.6L1723.8 392.6L1724.0 393.5L1724.2 394.5L1724.4 395.5L1724.6 396.4L1724.8 397.4L1725.0 398.4L1725.1 399.4L1725.3 400.3L1725.5 401.3L1725.6 402.3L1725.8 403.3L1726.0 404.3L1726.1 405.2L1726.3 406.2L1726.4 407.2L1726.6 408.2L1726.7 409.2L1726.8 410.2L1727.0 411.2L1727.1 412.2L1727.3 413.2L1727.4 414.1L1727.5 415.1L1727.6 416.1L1727.8 417.1L1727.9 418.1L1728.0 419.1L1728.2 420.1L1728.3 421.1L1728.4 422.1L1728.5 423.1L1728.7 424.1L1728.8 425.1L1728.9 426.1L1729.0 427.1L1729.2 428.1L1729.3 429.1L1729.4 430.1L1729.6 431.1L1729.7 432.1L1729.8 433.1L1730.0 434.1L1730.1 435.1L1730.3 436.0L1730.4 437.0L1730.6 438.0L1730.7 439.0L1730.9 440.0L1731.1 441.0L1731.2 442.0L1731.4 443.0L1731.6 444.0L1731.8 445.0L1732.0 446.0L1732.2 447.0L1732.4 447.9L1732.6 448.9L1732.8 449.9L1733.0 450.9L1733.2 451.9L1733.4 452.9L1733.7 453.8L1733.9 454.8L1734.2 455.8L1734.4 456.8L1734.7 457.7L1735.0 458.7L1735.2 459.7L1735.5 460.6L1735.8 461.6L1736.1 462.6L1736.4 463.5L1736.7 464.5L1737.1 465.5L1737.4 466.4L1737.8 467.4L1738.1 468.3L1738.5 469.3L1738.9 470.2L1739.3 471.2L1739.7 472.1L1740.1 473.0L1740.5 473.9L1741.0 474.8L1741.4 475.7L1741.9 476.6L1742.4 477.5L1742.9 478.4L1743.4 479.2L1743.9 480.1L1744.5 480.9L1745.0 481.7L1745.6 482.5L1746.2 483.3L1746.8 484.1L1747.5 484.9L1748.1 485.6L1748.8 486.3L1749.5 487.0L1750.2 487.7L1750.9 488.4L1751.7 489.0L1752.5 489.6L1753.3 490.2L1754.1 490.8L1754.9 491.4L1755.7 491.9L1756.6 492.5L1757.4 493.0L1758.3 493.5L1759.2 494.0L1760.0 494.5L1760.9 494.9L1761.9 495.4L1762.8 495.8L1763.7 496.2L1764.6 496.6L1765.6 497.0L1766.5 497.4L1767.4 497.8L1768.4 498.1L1769.3 498.5L1770.3 498.8L1771.2 499.1L1772.2 499.4L1773.2 499.7L1774.1 500.0L1775.1 500.3L1776.1 500.5L1777.0 500.8L1778.0 501.0L1779.0 501.3L1779.9 501.5L1780.9 501.7L1781.9 501.9L1782.9 502.1L1783.9 502.3L1784.8 502.5L1785.8 502.6L1786.8 502.8L1787.8 502.9L1788.8 503.1L1789.8 503.2L1790.8 503.4L1791.8 503.5L1792.8 503.6L1793.8 503.7L1794.8 503.8L1795.7 503.9L1796.7 504.0L1797.7 504.1L1798.8 504.2L1799.8 504.2L1800.8 504.3L1801.8 504.4L1802.8 504.4L1803.8 504.5L1804.8 504.5L1805.8 504.6L1806.8 504.6L1807.8 504.7L1808.8 504.7L1809.8 504.8L1810.8 504.8L1811.8 504.8L1812.8 504.8L1813.9 504.9L1814.9 504.9L1815.9 504.9L1816.9 504.9L1817.9 505.0L1818.9 505.0L1819.9 505.0L1820.9 505.0L1821.9 505.0L1822.9 505.1L1823.9 505.1L1825.0 505.1L1826.0 505.1L1827.0 505.1L1828.0 505.2L1829.0 505.2L1830.0 505.2L1831.0 505.2L1832.0 505.3L1833.0 505.3L1834.0 505.3L1835.0 505.4L1836.0 505.4L1837.0 505.4L1838.0 505.5L1839.0 505.5L1840.0 505.6L1841.0 505.7L1842.0 505.7L1843.0 505.8L1844.0 505.9L1845.0 505.9L1846.0 506.0L1846.9 506.0L1847.9 506.0" fill="none" stroke="#de3c7e" stroke-width="4.9" stroke-linejoin="round" stroke-linecap="butt"/>
</g>
<text x="1836.8" y="74" font-size="29.17" text-anchor="end" fill="#dc3c7d" stroke="#dc3c7d" stroke-width="0.45" stroke-linejoin="round">1185 nm at 300 K</text>
<text x="1256.7" y="544.8" font-size="29.17" text-anchor="middle" fill="#000" stroke="#000" stroke-width="0.45" stroke-linejoin="round">1000</text>
<text x="1374.9" y="544.8" font-size="29.17" text-anchor="middle" fill="#000" stroke="#000" stroke-width="0.45" stroke-linejoin="round">1050</text>
<text x="1493.1" y="544.8" font-size="29.17" text-anchor="middle" fill="#000" stroke="#000" stroke-width="0.45" stroke-linejoin="round">1100</text>
<text x="1611.3" y="544.8" font-size="29.17" text-anchor="middle" fill="#000" stroke="#000" stroke-width="0.45" stroke-linejoin="round">1150</text>
<text x="1729.5" y="544.8" font-size="29.17" text-anchor="middle" fill="#000" stroke="#000" stroke-width="0.45" stroke-linejoin="round">1200</text>
<text x="1847.7" y="544.8" font-size="29.17" text-anchor="middle" fill="#000" stroke="#000" stroke-width="0.45" stroke-linejoin="round">1250</text>
<text x="1242.4" y="513.6" font-size="29.17" text-anchor="end" fill="#000" stroke="#000" stroke-width="0.45" stroke-linejoin="round">0</text>
<text x="1242.4" y="397.5" font-size="29.17" text-anchor="end" fill="#000" stroke="#000" stroke-width="0.45" stroke-linejoin="round">2</text>
<text x="1242.4" y="280.3" font-size="29.17" text-anchor="end" fill="#000" stroke="#000" stroke-width="0.45" stroke-linejoin="round">4</text>
<text x="1242.4" y="164.4" font-size="29.17" text-anchor="end" fill="#000" stroke="#000" stroke-width="0.45" stroke-linejoin="round">6</text>
<text x="1242.4" y="47.4" font-size="29.17" text-anchor="end" fill="#000" stroke="#000" stroke-width="0.45" stroke-linejoin="round">8</text>
<text x="1552" y="592" font-size="29.17" text-anchor="middle" fill="#000" stroke="#000" stroke-width="0.45" stroke-linejoin="round">Wavelength (nm)</text>
<text x="1198.8" y="431" font-size="29.17" fill="#000" stroke="#000" stroke-width="0.45" stroke-linejoin="round" letter-spacing="0.22" transform="rotate(-90 1198.8 431)">Material gain(×10<tspan font-size="21.3" dy="-11.8">3</tspan><tspan font-size="29.17" dy="11.8">cm</tspan><tspan font-size="21.3" dy="-11.8">−1</tspan><tspan font-size="29.17" dy="11.8">)</tspan></text>
<text x="1162.2" y="29.7" font-size="41.67" font-weight="bold" fill="#000" >b</text>
</g>
<g id="panel-c">
<defs><linearGradient id="gc" x1="0" y1="0" x2="1" y2="1"><stop offset="0" stop-color="#efe3fb"/><stop offset="0.22" stop-color="#f8edfa"/><stop offset="0.42" stop-color="#fef9f4"/><stop offset="0.58" stop-color="#fef9f4"/><stop offset="0.78" stop-color="#f8edfa"/><stop offset="1" stop-color="#f0e4fc"/></linearGradient><linearGradient id="gec" x1="0" y1="0" x2="1" y2="1"><stop offset="0" stop-color="#7a12e6"/><stop offset="0.25" stop-color="#c98af0"/><stop offset="0.45" stop-color="#ffe9c8"/><stop offset="0.55" stop-color="#ffe9c8"/><stop offset="0.75" stop-color="#c98af0"/><stop offset="1" stop-color="#6a10c8"/></linearGradient><linearGradient id="gec2" gradientUnits="userSpaceOnUse" x1="312.4" y1="0" x2="709.4" y2="0"><stop offset="0" stop-color="#ffe9c8" stop-opacity="0"/><stop offset="0.5" stop-color="#b070e8"/><stop offset="1" stop-color="#6a10c8"/></linearGradient><clipPath id="cc"><rect x="110.9" y="666.6" width="599.2" height="483.80000000000007"/></clipPath></defs>
<rect x="112.4" y="666.6" width="597" height="483.8" fill="url(#gc)" />
<path d="M110.5 1151.6 V664.7 H710.6" fill="none" stroke="url(#gec)" stroke-width="1.3"/>
<path d="M312.4 1152.3 H710.6" fill="none" stroke="url(#gec2)" stroke-width="1.0"/>
<rect x="112.4" y="666.6" width="597.0" height="483.80000000000007" fill="none" stroke="#000" stroke-width="3.2"/>
<g clip-path="url(#cc)">
<path d="M110.2 729.0L112.7 734.9L133.9 775.0L155.2 804.6L176.4 828.0L197.7 847.5L218.9 864.0L240.2 878.5L261.4 891.3L282.7 902.8L303.9 913.2L325.2 922.8L346.4 931.6L367.7 939.8L388.9 947.4L410.2 954.5L431.4 961.3L452.7 967.6L473.9 973.6L495.2 979.3L516.5 984.7L537.7 989.9L559.0 994.9L580.2 999.6L601.5 1004.2L622.7 1008.6L644.0 1012.8L665.2 1016.9L686.5 1020.8L707.7 1024.6L710.2 1025.0" fill="none" stroke="#0b6088" stroke-width="5.0" stroke-linejoin="round" stroke-linecap="butt"/>
<path d="M110.2 746.5L112.7 752.4L133.9 792.6L155.2 822.1L176.4 845.6L197.7 865.0L218.9 881.5L240.2 896.0L261.4 908.8L282.7 920.3L303.9 930.7L325.2 940.3L346.4 949.1L367.7 957.3L388.9 964.9L410.2 972.1L431.4 978.8L452.7 985.1L473.9 991.1L495.2 996.8L516.5 1002.3L537.7 1007.4L559.0 1012.4L580.2 1017.2L601.5 1021.7L622.7 1026.1L644.0 1030.3L665.2 1034.4L686.5 1038.3L707.7 1042.1L710.2 1042.5" fill="none" stroke="#2a9d8f" stroke-width="5.0" stroke-linejoin="round" stroke-linecap="butt"/>
<path d="M110.2 770.1L112.7 776.0L133.9 816.1L155.2 845.7L176.4 869.1L197.7 888.5L218.9 905.1L240.2 919.5L261.4 932.4L282.7 943.9L303.9 954.3L325.2 963.9L346.4 972.7L367.7 980.9L388.9 988.5L410.2 995.6L431.4 1002.4L452.7 1008.7L473.9 1014.7L495.2 1020.4L516.5 1025.8L537.7 1031.0L559.0 1036.0L580.2 1040.7L601.5 1045.3L622.7 1049.7L644.0 1053.9L665.2 1058.0L686.5 1061.9L707.7 1065.7L710.2 1066.1" fill="none" stroke="#f4a261" stroke-width="5.0" stroke-linejoin="round" stroke-linecap="butt"/>
<path d="M110.2 807.0L112.7 813.0L133.9 853.1L155.2 882.7L176.4 906.1L197.7 925.5L218.9 942.1L240.2 956.5L261.4 969.3L282.7 980.8L303.9 991.3L325.2 1000.8L346.4 1009.6L367.7 1017.8L388.9 1025.5L410.2 1032.6L431.4 1039.3L452.7 1045.7L473.9 1051.7L495.2 1057.4L516.5 1062.8L537.7 1068.0L559.0 1072.9L580.2 1077.7L601.5 1082.3L622.7 1086.6L644.0 1090.9L665.2 1094.9L686.5 1098.8L707.7 1102.6L710.2 1103.1" fill="none" stroke="#b8407f" stroke-width="5.0" stroke-linejoin="round" stroke-linecap="butt"/>
</g>
<line x1="325.2" y1="1150.4" x2="325.2" y2="1139.9" stroke="#000" stroke-width="2.6" />
<line x1="537.7" y1="1150.4" x2="537.7" y2="1139.9" stroke="#000" stroke-width="2.6" />
<line x1="112.4" y1="835" x2="122.9" y2="835" stroke="#000" stroke-width="2.6" />
<line x1="112.4" y1="1077.3" x2="122.9" y2="1077.3" stroke="#000" stroke-width="2.6" />
<text x="112.4" y="1187.8" font-size="29.17" text-anchor="middle" fill="#000" stroke="#000" stroke-width="0.45" stroke-linejoin="round">0.0</text>
<text x="324.9" y="1187.8" font-size="29.17" text-anchor="middle" fill="#000" stroke="#000" stroke-width="0.45" stroke-linejoin="round">0.1</text>
<text x="537.4" y="1187.8" font-size="29.17" text-anchor="middle" fill="#000" stroke="#000" stroke-width="0.45" stroke-linejoin="round">0.2</text>
<text x="97.6" y="843.6" font-size="29.17" text-anchor="end" fill="#000" stroke="#000" stroke-width="0.45" stroke-linejoin="round">10<tspan font-size="22" dy="-11.2">2</tspan></text>
<text x="97.6" y="1085.9" font-size="29.17" text-anchor="end" fill="#000" stroke="#000" stroke-width="0.45" stroke-linejoin="round">10<tspan font-size="22" dy="-11.2">1</tspan></text>
<text x="410.8" y="1232.4" font-size="29.17" text-anchor="middle" fill="#000" stroke="#000" stroke-width="0.45" stroke-linejoin="round">Phosphorus content (%)</text>
<text x="24.4" y="909.4" font-size="29.17" text-anchor="middle" fill="#000" transform="rotate(-90 24.4 909.4)" stroke="#000" stroke-width="0.45" stroke-linejoin="round">Thickness (nm)</text>
<line x1="439.6" y1="687.0" x2="524.0" y2="687.0" stroke="#0b6088" stroke-width="5.2" stroke-linecap="round"/>
<text x="539.6" y="698.1" font-size="29.17" fill="#000" stroke="#000" stroke-width="0.45" stroke-linejoin="round">In<tspan font-size="21.3" dy="8.6">0.5</tspan><tspan font-size="29.17" dy="-8.6">Ga</tspan><tspan font-size="21.3" dy="8.6">0.5</tspan><tspan font-size="29.17" dy="-8.6">As</tspan></text>
<line x1="439.6" y1="746.6" x2="524.0" y2="746.6" stroke="#2a9d8f" stroke-width="5.2" stroke-linecap="round"/>
<text x="539.6" y="757.7" font-size="29.17" fill="#000" stroke="#000" stroke-width="0.45" stroke-linejoin="round">In<tspan font-size="21.3" dy="8.6">0.4</tspan><tspan font-size="29.17" dy="-8.6">Ga</tspan><tspan font-size="21.3" dy="8.6">0.6</tspan><tspan font-size="29.17" dy="-8.6">As</tspan></text>
<line x1="439.6" y1="806.0" x2="524.0" y2="806.0" stroke="#f4a261" stroke-width="5.2" stroke-linecap="round"/>
<text x="539.6" y="817.1" font-size="29.17" fill="#000" stroke="#000" stroke-width="0.45" stroke-linejoin="round">In<tspan font-size="21.3" dy="8.6">0.3</tspan><tspan font-size="29.17" dy="-8.6">Ga</tspan><tspan font-size="21.3" dy="8.6">0.7</tspan><tspan font-size="29.17" dy="-8.6">As</tspan></text>
<line x1="439.6" y1="864.6" x2="524.0" y2="864.6" stroke="#b8407f" stroke-width="5.2" stroke-linecap="round"/>
<text x="539.6" y="875.7" font-size="29.17" fill="#000" stroke="#000" stroke-width="0.45" stroke-linejoin="round">In<tspan font-size="21.3" dy="8.6">0.2</tspan><tspan font-size="29.17" dy="-8.6">Ga</tspan><tspan font-size="21.3" dy="8.6">0.8</tspan><tspan font-size="29.17" dy="-8.6">As</tspan></text>
<text x="-1" y="680.2" font-size="41.67" font-weight="bold" fill="#000" >c</text>
</g>
<g id="panel-d">
<defs><linearGradient id="gdb" gradientUnits="userSpaceOnUse" x1="0" y1="663.0" x2="0" y2="1149.5"><stop offset="0" stop-color="#e9f2f9"/><stop offset="0.45" stop-color="#cfe1ea"/><stop offset="0.66" stop-color="#b2d0dc"/><stop offset="1" stop-color="#9bc2d2"/></linearGradient><linearGradient id="gdp" gradientUnits="userSpaceOnUse" x1="0" y1="663.0" x2="0" y2="1149.5"><stop offset="0" stop-color="#d6c4e6" stop-opacity="0.47"/><stop offset="0.45" stop-color="#ce94be" stop-opacity="0.47"/><stop offset="0.9" stop-color="#b83980" stop-opacity="0.47"/><stop offset="1" stop-color="#b4327a" stop-opacity="0.47"/></linearGradient><clipPath id="cd"><rect x="852.3" y="663.0" width="994.6000000000001" height="486.5"/></clipPath></defs>
<g clip-path="url(#cd)">
<path d="M852.70 1115.50L1068.60 1115.50L1068.60 808.92L1094.81 808.92L1094.81 723.61L1101.50 723.61L1101.50 782.54L1114.28 782.54L1114.28 723.61L1143.60 723.61L1143.60 700.31L1146.19 700.31L1146.19 723.61L1155.61 723.61L1155.61 732.17L1169.51 732.17L1169.51 723.61L1216.79 723.61L1216.79 700.31L1219.38 700.31L1219.38 723.61L1228.80 723.61L1228.80 732.17L1242.70 732.17L1242.70 723.61L1290.03 723.61L1290.03 700.31L1292.62 700.31L1292.62 723.61L1302.03 723.61L1302.03 732.17L1315.94 732.17L1315.94 723.61L1363.39 723.61L1363.39 700.31L1365.98 700.31L1365.98 723.61L1375.39 723.61L1375.39 732.17L1389.30 732.17L1389.30 723.61L1436.80 723.61L1436.80 700.31L1439.39 700.31L1439.39 723.61L1448.80 723.61L1448.80 732.17L1462.70 732.17L1462.70 723.61L1509.81 723.61L1509.81 700.31L1512.40 700.31L1512.40 723.61L1521.82 723.61L1521.82 732.17L1535.72 732.17L1535.72 723.61L1583.00 723.61L1583.00 700.31L1585.59 700.31L1585.59 723.61L1595.01 723.61L1595.01 732.17L1608.91 732.17L1608.91 723.61L1656.41 723.61L1656.41 700.31L1659.00 700.31L1659.00 723.61L1668.41 723.61L1668.41 732.17L1682.32 732.17L1682.32 723.61L1737.33 723.61L1737.33 882.57L1780.08 882.57L1780.08 734.57L1817.08 734.57L1817.08 882.57L1845.84 882.57L1845.84 1149.50L852.70 1149.50Z" fill="url(#gdb)"/>
<rect x="852.3" y="901.6" width="994.6" height="8.2" fill="#ffffff" />
<path d="M852.70 1115.50L1068.60 1115.50L1068.60 808.92L1094.81 808.92L1094.81 723.61L1101.50 723.61L1101.50 782.54L1114.28 782.54L1114.28 723.61L1143.60 723.61L1143.60 700.31L1146.19 700.31L1146.19 723.61L1155.61 723.61L1155.61 732.17L1169.51 732.17L1169.51 723.61L1216.79 723.61L1216.79 700.31L1219.38 700.31L1219.38 723.61L1228.80 723.61L1228.80 732.17L1242.70 732.17L1242.70 723.61L1290.03 723.61L1290.03 700.31L1292.62 700.31L1292.62 723.61L1302.03 723.61L1302.03 732.17L1315.94 732.17L1315.94 723.61L1363.39 723.61L1363.39 700.31L1365.98 700.31L1365.98 723.61L1375.39 723.61L1375.39 732.17L1389.30 732.17L1389.30 723.61L1436.80 723.61L1436.80 700.31L1439.39 700.31L1439.39 723.61L1448.80 723.61L1448.80 732.17L1462.70 732.17L1462.70 723.61L1509.81 723.61L1509.81 700.31L1512.40 700.31L1512.40 723.61L1521.82 723.61L1521.82 732.17L1535.72 732.17L1535.72 723.61L1583.00 723.61L1583.00 700.31L1585.59 700.31L1585.59 723.61L1595.01 723.61L1595.01 732.17L1608.91 732.17L1608.91 723.61L1656.41 723.61L1656.41 700.31L1659.00 700.31L1659.00 723.61L1668.41 723.61L1668.41 732.17L1682.32 732.17L1682.32 723.61L1737.33 723.61L1737.33 882.57L1780.08 882.57L1780.08 734.57L1817.08 734.57L1817.08 882.57L1845.84 882.57" fill="none" stroke="#3f88a8" stroke-width="2.6" stroke-linejoin="miter"/>
<rect x="852.3" y="901.6" width="994.6" height="8.2" fill="#ffffff" />
<path d="M852.70 1149.50L852.70 745.86L853.11 747.74L853.53 749.65L853.94 751.57L854.36 753.50L854.77 755.45L855.18 757.42L855.60 759.40L856.01 761.40L856.43 763.41L856.84 765.44L857.25 767.48L857.67 769.54L858.08 771.61L858.50 773.69L858.91 775.79L859.32 777.90L859.74 780.02L860.15 782.16L860.57 784.31L860.98 786.47L861.39 788.65L861.81 790.83L862.22 793.03L862.64 795.24L863.05 797.46L863.46 799.70L863.88 801.94L864.29 804.19L864.71 806.46L865.12 808.73L865.53 811.02L865.95 813.31L866.36 815.62L866.78 817.93L867.19 820.25L867.60 822.58L868.02 824.92L868.43 827.27L868.85 829.63L869.26 831.99L869.67 834.36L870.09 836.74L870.50 839.13L870.92 841.52L871.33 843.92L871.74 846.32L872.16 848.73L872.57 851.15L872.99 853.58L873.40 856.00L873.81 858.44L874.23 860.88L874.64 863.32L875.05 865.77L875.47 868.22L875.88 870.67L876.30 873.13L876.71 875.59L877.12 878.06L877.54 880.53L877.95 883.00L878.37 885.47L878.78 887.95L879.19 890.42L879.61 892.90L880.02 895.38L880.44 897.86L880.85 900.34L881.26 902.83L881.68 905.31L882.09 907.79L882.51 910.27L882.92 912.75L883.33 915.23L883.75 917.71L884.16 920.19L884.58 922.67L884.99 925.14L885.40 927.62L885.82 930.09L886.23 932.56L886.65 935.02L887.06 937.48L887.47 939.94L887.89 942.40L888.30 944.85L888.72 947.30L889.13 949.74L889.54 952.18L889.96 954.61L890.37 957.04L890.79 959.47L891.20 961.88L891.61 964.30L892.03 966.70L892.44 969.10L892.86 971.49L893.27 973.88L893.68 976.26L894.10 978.63L894.51 980.99L894.93 983.35L895.34 985.70L895.75 988.04L896.17 990.37L896.58 992.69L897.00 995.01L897.41 997.31L897.82 999.60L898.24 1001.89L898.65 1004.16L899.07 1006.43L899.48 1008.68L899.89 1010.93L900.31 1013.16L900.72 1015.38L901.14 1017.59L901.55 1019.79L901.96 1021.98L902.38 1024.15L902.79 1026.31L903.21 1028.46L903.62 1030.60L904.03 1032.73L904.45 1034.84L904.86 1036.93L905.28 1039.02L905.69 1041.09L906.10 1043.14L906.52 1045.19L906.93 1047.21L907.35 1049.23L907.76 1051.23L908.17 1053.21L908.59 1055.18L909.00 1057.13L909.42 1059.06L909.83 1060.98L910.24 1062.89L910.66 1064.78L911.07 1066.65L911.49 1068.50L911.90 1070.34L912.31 1072.16L912.73 1073.97L913.14 1075.75L913.56 1077.52L913.97 1079.27L914.38 1081.01L914.80 1082.72L915.21 1084.42L915.63 1086.10L916.04 1087.76L916.45 1089.40L916.87 1091.02L917.28 1092.62L917.69 1094.20L918.11 1095.77L918.52 1097.31L918.94 1098.83L919.35 1100.34L919.76 1101.82L920.18 1103.29L920.59 1104.73L921.01 1106.15L921.42 1107.55L921.83 1108.93L922.25 1110.29L922.66 1111.63L923.08 1112.95L923.49 1114.24L923.90 1115.52L924.32 1116.77L924.73 1118.00L925.15 1119.21L925.56 1120.40L925.97 1121.56L926.39 1122.70L926.80 1123.82L927.22 1124.92L927.63 1125.99L928.04 1127.04L928.46 1128.07L928.87 1129.08L929.29 1130.06L929.70 1131.02L930.11 1131.95L930.53 1132.87L930.94 1133.76L931.36 1134.62L931.77 1135.46L932.18 1136.28L932.60 1137.07L933.01 1137.84L933.43 1138.59L933.84 1139.31L934.25 1140.01L934.67 1140.68L935.08 1141.33L935.50 1141.96L935.91 1142.56L936.32 1143.13L936.74 1143.68L937.15 1144.21L937.57 1144.71L937.98 1145.19L938.39 1145.64L938.81 1146.07L939.22 1146.47L939.64 1146.85L940.05 1147.20L940.46 1147.53L940.88 1147.83L941.29 1148.11L941.71 1148.36L942.12 1148.59L942.53 1148.79L942.95 1148.96L943.36 1149.12L943.78 1149.24L944.19 1149.34L944.60 1149.42L945.02 1149.47L945.43 1149.50L945.85 1149.50L946.26 1149.47L946.67 1149.42L947.09 1149.35L947.50 1149.25L947.92 1149.12L948.33 1148.97L948.74 1148.79L949.16 1148.59L949.57 1148.37L949.99 1148.11L950.40 1147.84L950.81 1147.54L951.23 1147.21L951.64 1146.86L952.06 1146.48L952.47 1146.08L952.88 1145.65L953.30 1145.20L953.71 1144.72L954.13 1144.22L954.54 1143.70L954.95 1143.15L955.37 1142.57L955.78 1141.97L956.20 1141.35L956.61 1140.70L957.02 1140.03L957.44 1139.33L957.85 1138.61L958.27 1137.87L958.68 1137.10L959.09 1136.30L959.51 1135.49L959.92 1134.65L960.34 1133.78L960.75 1132.89L961.16 1131.98L961.58 1131.05L961.99 1130.09L962.40 1129.11L962.82 1128.10L963.23 1127.08L963.65 1126.02L964.06 1124.95L964.47 1123.86L964.89 1122.74L965.30 1121.60L965.72 1120.43L966.13 1119.25L966.54 1118.04L966.96 1116.81L967.37 1115.56L967.79 1114.28L968.20 1112.99L968.61 1111.67L969.03 1110.33L969.44 1108.97L969.86 1107.59L970.27 1106.19L970.68 1104.77L971.10 1103.33L971.51 1101.87L971.93 1100.38L972.34 1098.88L972.75 1097.36L973.17 1095.81L973.58 1094.25L974.00 1092.67L974.41 1091.07L974.82 1089.45L975.24 1087.81L975.65 1086.15L976.07 1084.47L976.48 1082.77L976.89 1081.06L977.31 1079.33L977.72 1077.58L978.14 1075.81L978.55 1074.02L978.96 1072.22L979.38 1070.40L979.79 1068.56L980.21 1066.71L980.62 1064.83L981.03 1062.95L981.45 1061.04L981.86 1059.12L982.28 1057.19L982.69 1055.23L983.10 1053.27L983.52 1051.29L983.93 1049.29L984.35 1047.28L984.76 1045.25L985.17 1043.21L985.59 1041.15L986.00 1039.08L986.42 1037.00L986.83 1034.90L987.24 1032.79L987.66 1030.67L988.07 1028.53L988.49 1026.38L988.90 1024.22L989.31 1022.04L989.73 1019.86L990.14 1017.66L990.56 1015.45L990.97 1013.23L991.38 1010.99L991.80 1008.75L992.21 1006.50L992.63 1004.23L993.04 1001.96L993.45 999.67L993.87 997.38L994.28 995.08L994.70 992.76L995.11 990.44L995.52 988.11L995.94 985.77L996.35 983.42L996.77 981.07L997.18 978.70L997.59 976.33L998.01 973.95L998.42 971.57L998.84 969.17L999.25 966.77L999.66 964.37L1000.08 961.96L1000.49 959.54L1000.91 957.12L1001.32 954.69L1001.73 952.25L1002.15 949.81L1002.56 947.37L1002.98 944.92L1003.39 942.47L1003.80 940.02L1004.22 937.56L1004.63 935.10L1005.04 932.63L1005.46 930.16L1005.87 927.69L1006.29 925.22L1006.70 922.74L1007.11 920.27L1007.53 917.79L1007.94 915.31L1008.36 912.83L1008.77 910.35L1009.18 907.87L1009.60 905.38L1010.01 902.90L1010.43 900.42L1010.84 897.94L1011.25 895.46L1011.67 892.98L1012.08 890.50L1012.50 888.02L1012.91 885.55L1013.32 883.07L1013.74 880.60L1014.15 878.13L1014.57 875.67L1014.98 873.21L1015.39 870.75L1015.81 868.29L1016.22 865.84L1016.64 863.39L1017.05 860.95L1017.46 858.51L1017.88 856.08L1018.29 853.65L1018.71 851.23L1019.12 848.81L1019.53 846.40L1019.95 843.99L1020.36 841.59L1020.78 839.20L1021.19 836.81L1021.60 834.43L1022.02 832.06L1022.43 829.70L1022.85 827.34L1023.26 824.99L1023.67 822.65L1024.09 820.32L1024.50 818.00L1024.92 815.69L1025.33 813.38L1025.74 811.09L1026.16 808.80L1026.57 806.53L1026.99 804.26L1027.40 802.01L1027.81 799.76L1028.23 797.53L1028.64 795.31L1029.06 793.10L1029.47 790.90L1029.88 788.71L1030.30 786.54L1030.71 784.38L1031.13 782.23L1031.54 780.09L1031.95 777.96L1032.37 775.85L1032.78 773.76L1033.20 771.67L1033.61 769.60L1034.02 767.55L1034.44 765.50L1034.85 763.48L1035.27 761.46L1035.68 759.46L1036.09 757.48L1036.51 755.51L1036.92 753.56L1037.34 751.63L1037.75 749.70L1038.16 747.80L1038.58 745.91L1038.99 744.04L1039.41 742.19L1039.82 740.35L1040.23 738.53L1040.65 736.72L1041.06 734.94L1041.48 733.17L1041.89 731.42L1042.30 729.68L1042.72 727.97L1043.13 726.27L1043.55 724.59L1043.96 722.93L1044.37 721.29L1044.79 719.67L1045.20 718.07L1045.62 716.49L1046.03 714.92L1046.44 713.38L1046.86 711.85L1047.27 710.35L1047.68 708.87L1048.10 707.40L1048.51 705.96L1048.93 704.54L1049.34 703.14L1049.75 701.76L1050.17 700.40L1050.58 699.06L1051.00 697.74L1051.41 696.44L1051.82 695.17L1052.24 693.92L1052.65 692.69L1053.07 691.48L1053.48 690.29L1053.89 689.13L1054.31 687.99L1054.72 686.87L1055.14 685.77L1055.55 684.70L1055.96 683.64L1056.38 682.62L1056.79 681.61L1057.21 680.63L1057.62 679.67L1058.03 678.73L1058.45 677.82L1058.86 676.93L1059.28 676.07L1059.69 675.23L1060.10 674.41L1060.52 673.61L1060.93 672.84L1061.35 672.10L1061.76 671.38L1062.17 670.68L1062.59 670.01L1063.00 669.36L1063.42 668.73L1063.83 668.13L1064.24 667.56L1064.66 667.01L1065.07 666.48L1065.49 665.98L1065.90 665.50L1066.31 665.05L1066.73 664.62L1067.14 664.22L1067.56 663.84L1067.97 663.49L1068.38 663.16L1068.80 662.48L1069.21 661.59L1069.63 660.98L1070.04 660.65L1070.45 660.60L1070.87 660.82L1071.28 661.32L1071.70 662.10L1072.11 663.16L1072.52 664.49L1072.94 666.09L1073.35 667.97L1073.77 670.11L1074.18 672.53L1074.59 675.20L1075.01 678.14L1075.42 681.34L1075.84 684.79L1076.25 688.49L1076.66 692.44L1077.08 696.63L1077.49 701.06L1077.91 705.72L1078.32 710.60L1078.73 715.71L1079.15 721.03L1079.56 726.57L1079.98 732.30L1080.39 738.23L1080.80 744.35L1081.22 750.66L1081.63 757.14L1082.05 763.78L1082.46 770.59L1082.87 777.55L1083.29 784.66L1083.70 791.90L1084.12 799.28L1084.53 806.77L1084.94 814.37L1085.36 822.08L1085.77 829.88L1086.19 837.77L1086.60 845.73L1087.01 853.76L1087.43 861.85L1087.84 869.99L1088.26 878.17L1088.67 886.38L1089.08 894.61L1089.50 902.85L1089.91 911.09L1090.32 919.33L1090.74 927.55L1091.15 935.75L1091.57 943.91L1091.98 952.03L1092.39 960.09L1092.81 968.09L1093.22 976.02L1093.64 983.87L1094.05 991.63L1094.46 999.29L1094.88 1006.84L1095.29 1014.28L1095.71 1021.59L1096.12 1028.77L1096.53 1035.81L1096.95 1042.70L1097.36 1049.43L1097.78 1056.00L1098.19 1062.40L1098.60 1068.62L1099.02 1074.65L1099.43 1080.49L1099.85 1086.13L1100.26 1091.57L1100.67 1096.79L1101.09 1101.80L1101.50 1106.58L1101.92 1111.13L1102.33 1115.44L1102.74 1119.52L1103.16 1123.35L1103.57 1126.94L1103.99 1130.27L1104.40 1133.35L1104.81 1136.17L1105.23 1138.72L1105.64 1141.01L1106.06 1143.03L1106.47 1144.78L1106.88 1146.25L1107.30 1147.45L1107.71 1148.38L1108.13 1149.03L1108.54 1149.40L1108.95 1149.50L1109.37 1149.32L1109.78 1148.88L1110.20 1148.16L1110.61 1147.19L1111.02 1145.95L1111.44 1144.44L1111.85 1142.68L1112.27 1140.65L1112.68 1138.37L1113.09 1135.84L1113.51 1133.05L1113.92 1130.02L1114.34 1126.75L1114.75 1123.23L1115.16 1119.48L1115.58 1115.50L1115.99 1111.30L1116.41 1106.87L1116.82 1102.23L1117.23 1097.38L1117.65 1092.33L1118.06 1087.08L1118.48 1081.64L1118.89 1076.02L1119.30 1070.22L1119.72 1064.25L1120.13 1058.12L1120.55 1051.84L1120.96 1045.40L1121.37 1038.83L1121.79 1032.13L1122.20 1025.31L1122.62 1018.37L1123.03 1011.33L1123.44 1004.19L1123.86 996.96L1124.27 989.65L1124.69 982.27L1125.10 974.83L1125.51 967.35L1125.93 959.81L1126.34 952.25L1126.76 944.66L1127.17 937.06L1127.58 929.45L1128.00 921.84L1128.41 914.25L1128.83 906.69L1129.24 899.15L1129.65 891.66L1130.07 884.22L1130.48 876.84L1130.90 869.52L1131.31 862.29L1131.72 855.15L1132.14 848.10L1132.55 841.15L1132.97 834.32L1133.38 827.61L1133.79 821.03L1134.21 814.59L1134.62 808.29L1135.03 802.15L1135.45 796.17L1135.86 790.36L1136.28 784.73L1136.69 779.28L1137.10 774.02L1137.52 768.95L1137.93 764.09L1138.35 759.43L1138.76 754.99L1139.17 750.78L1139.59 746.78L1140.00 743.02L1140.42 739.49L1140.83 736.20L1141.24 733.15L1141.66 730.35L1142.07 727.80L1142.49 725.50L1142.90 723.46L1143.31 721.68L1143.73 720.16L1144.14 718.90L1144.56 717.91L1144.97 717.18L1145.38 716.72L1145.80 716.52L1146.21 716.59L1146.63 716.94L1147.04 717.54L1147.45 718.42L1147.87 719.55L1148.28 720.96L1148.70 722.62L1149.11 724.54L1149.52 726.73L1149.94 729.16L1150.35 731.85L1150.77 734.79L1151.18 737.97L1151.59 741.39L1152.01 745.05L1152.42 748.94L1152.84 753.06L1153.25 757.40L1153.66 761.95L1154.08 766.72L1154.49 771.70L1154.91 776.87L1155.32 782.23L1155.73 787.79L1156.15 793.52L1156.56 799.42L1156.98 805.49L1157.39 811.72L1157.80 818.09L1158.22 824.61L1158.63 831.26L1159.05 838.04L1159.46 844.94L1159.87 851.94L1160.29 859.04L1160.70 866.24L1161.12 873.52L1161.53 880.87L1161.94 888.28L1162.36 895.75L1162.77 903.27L1163.19 910.82L1163.60 918.40L1164.01 926.00L1164.43 933.61L1164.84 941.22L1165.26 948.81L1165.67 956.39L1166.08 963.94L1166.50 971.45L1166.91 978.91L1167.33 986.32L1167.74 993.66L1168.15 1000.92L1168.57 1008.10L1168.98 1015.19L1169.40 1022.18L1169.81 1029.05L1170.22 1035.81L1170.64 1042.44L1171.05 1048.94L1171.47 1055.29L1171.88 1061.49L1172.29 1067.54L1172.71 1073.41L1173.12 1079.12L1173.54 1084.64L1173.95 1089.98L1174.36 1095.12L1174.78 1100.06L1175.19 1104.80L1175.61 1109.32L1176.02 1113.63L1176.43 1117.71L1176.85 1121.56L1177.26 1125.18L1177.67 1128.57L1178.09 1131.71L1178.50 1134.61L1178.92 1137.26L1179.33 1139.65L1179.74 1141.79L1180.16 1143.68L1180.57 1145.30L1180.99 1146.66L1181.40 1147.75L1181.81 1148.59L1182.23 1149.15L1182.64 1149.45L1183.06 1149.48L1183.47 1149.24L1183.88 1148.73L1184.30 1147.94L1184.71 1146.89L1185.13 1145.57L1185.54 1143.98L1185.95 1142.12L1186.37 1140.00L1186.78 1137.63L1187.20 1134.99L1187.61 1132.10L1188.02 1128.96L1188.44 1125.58L1188.85 1121.95L1189.27 1118.09L1189.68 1113.99L1190.09 1109.67L1190.51 1105.12L1190.92 1100.36L1191.34 1095.39L1191.75 1090.22L1192.16 1084.85L1192.58 1079.29L1192.99 1073.54L1193.41 1067.62L1193.82 1061.54L1194.23 1055.29L1194.65 1048.89L1195.06 1042.34L1195.48 1035.66L1195.89 1028.85L1196.30 1021.92L1196.72 1014.88L1197.13 1007.74L1197.55 1000.51L1197.96 993.20L1198.37 985.81L1198.79 978.35L1199.20 970.84L1199.62 963.29L1200.03 955.70L1200.44 948.08L1200.86 940.45L1201.27 932.81L1201.69 925.17L1202.10 917.55L1202.51 909.95L1202.93 902.38L1203.34 894.85L1203.76 887.37L1204.17 879.95L1204.58 872.61L1205.00 865.34L1205.41 858.16L1205.83 851.07L1206.24 844.10L1206.65 837.24L1207.07 830.50L1207.48 823.90L1207.90 817.44L1208.31 811.12L1208.72 804.97L1209.14 798.97L1209.55 793.16L1209.97 787.52L1210.38 782.07L1210.79 776.81L1211.21 771.75L1211.62 766.90L1212.04 762.27L1212.45 757.85L1212.86 753.66L1213.28 749.69L1213.69 745.97L1214.11 742.48L1214.52 739.24L1214.93 736.24L1215.35 733.50L1215.76 731.02L1216.18 728.79L1216.59 726.82L1217.00 725.12L1217.42 723.69L1217.83 722.52L1218.25 721.62L1218.66 721.00L1219.07 720.64L1219.49 720.56L1219.90 720.75L1220.31 721.21L1220.73 721.94L1221.14 722.94L1221.56 724.22L1221.97 725.76L1222.38 727.56L1222.80 729.63L1223.21 731.96L1223.63 734.54L1224.04 737.38L1224.45 740.48L1224.87 743.81L1225.28 747.40L1225.70 751.21L1226.11 755.27L1226.52 759.55L1226.94 764.05L1227.35 768.77L1227.77 773.70L1228.18 778.84L1228.59 784.17L1229.01 789.70L1229.42 795.41L1229.84 801.29L1230.25 807.35L1230.66 813.57L1231.08 819.94L1231.49 826.46L1231.91 833.12L1232.32 839.90L1232.73 846.81L1233.15 853.83L1233.56 860.95L1233.98 868.17L1234.39 875.47L1234.80 882.84L1235.22 890.29L1235.63 897.78L1236.05 905.33L1236.46 912.91L1236.87 920.53L1237.29 928.16L1237.70 935.80L1238.12 943.43L1238.53 951.06L1238.94 958.67L1239.36 966.25L1239.77 973.78L1240.19 981.27L1240.60 988.70L1241.01 996.06L1241.43 1003.35L1241.84 1010.54L1242.26 1017.65L1242.67 1024.64L1243.08 1031.52L1243.50 1038.29L1243.91 1044.91L1244.33 1051.41L1244.74 1057.75L1245.15 1063.93L1245.57 1069.96L1245.98 1075.81L1246.40 1081.48L1246.81 1086.97L1247.22 1092.26L1247.64 1097.36L1248.05 1102.25L1248.47 1106.93L1248.88 1111.38L1249.29 1115.62L1249.71 1119.63L1250.12 1123.40L1250.54 1126.93L1250.95 1130.22L1251.36 1133.26L1251.78 1136.05L1252.19 1138.59L1252.61 1140.86L1253.02 1142.88L1253.43 1144.63L1253.85 1146.11L1254.26 1147.33L1254.68 1148.28L1255.09 1148.96L1255.50 1149.37L1255.92 1149.50L1256.33 1149.37L1256.75 1148.97L1257.16 1148.30L1257.57 1147.38L1257.99 1146.19L1258.40 1144.74L1258.82 1143.03L1259.23 1141.07L1259.64 1138.85L1260.06 1136.38L1260.47 1133.66L1260.89 1130.70L1261.30 1127.49L1261.71 1124.05L1262.13 1120.37L1262.54 1116.47L1262.95 1112.34L1263.37 1107.99L1263.78 1103.43L1264.20 1098.66L1264.61 1093.70L1265.02 1088.53L1265.44 1083.18L1265.85 1077.64L1266.27 1071.93L1266.68 1066.06L1267.09 1060.02L1267.51 1053.82L1267.92 1047.49L1268.34 1041.01L1268.75 1034.41L1269.16 1027.68L1269.58 1020.84L1269.99 1013.90L1270.41 1006.86L1270.82 999.73L1271.23 992.53L1271.65 985.25L1272.06 977.92L1272.48 970.53L1272.89 963.11L1273.30 955.65L1273.72 948.16L1274.13 940.67L1274.55 933.17L1274.96 925.67L1275.37 918.19L1275.79 910.73L1276.20 903.31L1276.62 895.92L1277.03 888.59L1277.44 881.32L1277.86 874.12L1278.27 867.00L1278.69 859.96L1279.10 853.02L1279.51 846.19L1279.93 839.46L1280.34 832.86L1280.76 826.39L1281.17 820.06L1281.58 813.88L1282.00 807.84L1282.41 801.97L1282.83 796.27L1283.24 790.74L1283.65 785.40L1284.07 780.24L1284.48 775.28L1284.90 770.52L1285.31 765.97L1285.72 761.63L1286.14 757.51L1286.55 753.62L1286.97 749.95L1287.38 746.52L1287.79 743.32L1288.21 740.37L1288.62 737.66L1289.04 735.20L1289.45 732.99L1289.86 731.03L1290.28 729.34L1290.69 727.90L1291.11 726.72L1291.52 725.80L1291.93 725.15L1292.35 724.76L1292.76 724.64L1293.18 724.78L1293.59 725.19L1294.00 725.86L1294.42 726.79L1294.83 727.99L1295.25 729.44L1295.66 731.16L1296.07 733.13L1296.49 735.36L1296.90 737.83L1297.32 740.56L1297.73 743.53L1298.14 746.74L1298.56 750.19L1298.97 753.88L1299.39 757.79L1299.80 761.92L1300.21 766.27L1300.63 770.84L1301.04 775.61L1301.46 780.59L1301.87 785.76L1302.28 791.12L1302.70 796.65L1303.11 802.37L1303.53 808.25L1303.94 814.30L1304.35 820.49L1304.77 826.83L1305.18 833.31L1305.60 839.92L1306.01 846.65L1306.42 853.50L1306.84 860.44L1307.25 867.48L1307.66 874.61L1308.08 881.82L1308.49 889.10L1308.91 896.43L1309.32 903.82L1309.73 911.25L1310.15 918.70L1310.56 926.19L1310.98 933.68L1311.39 941.18L1311.80 948.68L1312.22 956.16L1312.63 963.62L1313.05 971.04L1313.46 978.42L1313.87 985.75L1314.29 993.02L1314.70 1000.22L1315.12 1007.34L1315.53 1014.38L1315.94 1021.31L1316.36 1028.15L1316.77 1034.86L1317.19 1041.46L1317.60 1047.93L1318.01 1054.26L1318.43 1060.44L1318.84 1066.47L1319.26 1072.33L1319.67 1078.03L1320.08 1083.55L1320.50 1088.89L1320.91 1094.04L1321.33 1099.00L1321.74 1103.75L1322.15 1108.30L1322.57 1112.63L1322.98 1116.74L1323.40 1120.63L1323.81 1124.29L1324.22 1127.72L1324.64 1130.91L1325.05 1133.85L1325.47 1136.56L1325.88 1139.01L1326.29 1141.21L1326.71 1143.16L1327.12 1144.85L1327.54 1146.28L1327.95 1147.45L1328.36 1148.36L1328.78 1149.00L1329.19 1149.38L1329.61 1149.50L1330.02 1149.35L1330.43 1148.95L1330.85 1148.29L1331.26 1147.38L1331.68 1146.21L1332.09 1144.79L1332.50 1143.12L1332.92 1141.19L1333.33 1139.02L1333.75 1136.61L1334.16 1133.95L1334.57 1131.06L1334.99 1127.93L1335.40 1124.57L1335.82 1120.98L1336.23 1117.18L1336.64 1113.15L1337.06 1108.91L1337.47 1104.46L1337.89 1099.81L1338.30 1094.97L1338.71 1089.93L1339.13 1084.71L1339.54 1079.31L1339.96 1073.74L1340.37 1068.01L1340.78 1062.12L1341.20 1056.07L1341.61 1049.89L1342.03 1043.57L1342.44 1037.12L1342.85 1030.55L1343.27 1023.87L1343.68 1017.09L1344.10 1010.21L1344.51 1003.24L1344.92 996.19L1345.34 989.08L1345.75 981.90L1346.17 974.67L1346.58 967.40L1346.99 960.10L1347.41 952.76L1347.82 945.41L1348.24 938.06L1348.65 930.70L1349.06 923.35L1349.48 916.03L1349.89 908.73L1350.30 901.47L1350.72 894.25L1351.13 887.09L1351.55 880.00L1351.96 872.97L1352.37 866.03L1352.79 859.17L1353.20 852.41L1353.62 845.76L1354.03 839.22L1354.44 832.81L1354.86 826.52L1355.27 820.38L1355.69 814.37L1356.10 808.52L1356.51 802.83L1356.93 797.31L1357.34 791.95L1357.76 786.78L1358.17 781.80L1358.58 777.00L1359.00 772.41L1359.41 768.02L1359.83 763.83L1360.24 759.86L1360.65 756.11L1361.07 752.59L1361.48 749.29L1361.90 746.22L1362.31 743.39L1362.72 740.80L1363.14 738.45L1363.55 736.35L1363.97 734.49L1364.38 732.89L1364.79 731.53L1365.21 730.43L1365.62 729.58L1366.04 728.99L1366.45 728.66L1366.86 728.59L1367.28 728.77L1367.69 729.21L1368.11 729.90L1368.52 730.85L1368.93 732.05L1369.35 733.51L1369.76 735.22L1370.18 737.18L1370.59 739.38L1371.00 741.83L1371.42 744.52L1371.83 747.45L1372.25 750.61L1372.66 754.00L1373.07 757.62L1373.49 761.46L1373.90 765.52L1374.32 769.79L1374.73 774.26L1375.14 778.94L1375.56 783.81L1375.97 788.88L1376.39 794.12L1376.80 799.55L1377.21 805.14L1377.63 810.90L1378.04 816.81L1378.46 822.87L1378.87 829.08L1379.28 835.42L1379.70 841.89L1380.11 848.47L1380.53 855.17L1380.94 861.96L1381.35 868.86L1381.77 875.84L1382.18 882.89L1382.60 890.02L1383.01 897.20L1383.42 904.43L1383.84 911.71L1384.25 919.02L1384.67 926.36L1385.08 933.71L1385.49 941.07L1385.91 948.42L1386.32 955.77L1386.74 963.09L1387.15 970.38L1387.56 977.64L1387.98 984.85L1388.39 992.00L1388.81 999.09L1389.22 1006.10L1389.63 1013.03L1390.05 1019.87L1390.46 1026.62L1390.88 1033.25L1391.29 1039.77L1391.70 1046.17L1392.12 1052.44L1392.53 1058.57L1392.94 1064.55L1393.36 1070.38L1393.77 1076.04L1394.19 1081.54L1394.60 1086.87L1395.01 1092.02L1395.43 1096.98L1395.84 1101.74L1396.26 1106.31L1396.67 1110.67L1397.08 1114.82L1397.50 1118.76L1397.91 1122.48L1398.33 1125.97L1398.74 1129.24L1399.15 1132.27L1399.57 1135.07L1399.98 1137.63L1400.40 1139.94L1400.81 1142.01L1401.22 1143.83L1401.64 1145.40L1402.05 1146.72L1402.47 1147.79L1402.88 1148.59L1403.29 1149.15L1403.71 1149.45L1404.12 1149.48L1404.54 1149.26L1404.95 1148.78L1405.36 1148.04L1405.78 1147.04L1406.19 1145.78L1406.61 1144.27L1407.02 1142.50L1407.43 1140.47L1407.85 1138.20L1408.26 1135.68L1408.68 1132.92L1409.09 1129.92L1409.50 1126.68L1409.92 1123.21L1410.33 1119.51L1410.75 1115.59L1411.16 1111.45L1411.57 1107.09L1411.99 1102.53L1412.40 1097.77L1412.82 1092.80L1413.23 1087.65L1413.64 1082.32L1414.06 1076.81L1414.47 1071.13L1414.89 1065.28L1415.30 1059.28L1415.71 1053.13L1416.13 1046.84L1416.54 1040.42L1416.96 1033.88L1417.37 1027.21L1417.78 1020.44L1418.20 1013.57L1418.61 1006.61L1419.03 999.57L1419.44 992.45L1419.85 985.27L1420.27 978.04L1420.68 970.75L1421.10 963.43L1421.51 956.08L1421.92 948.72L1422.34 941.34L1422.75 933.96L1423.17 926.59L1423.58 919.24L1423.99 911.92L1424.41 904.63L1424.82 897.39L1425.24 890.20L1425.65 883.07L1426.06 876.02L1426.48 869.05L1426.89 862.17L1427.31 855.39L1427.72 848.71L1428.13 842.15L1428.55 835.71L1428.96 829.41L1429.38 823.24L1429.79 817.22L1430.20 811.36L1430.62 805.66L1431.03 800.12L1431.45 794.77L1431.86 789.59L1432.27 784.61L1432.69 779.82L1433.10 775.23L1433.52 770.85L1433.93 766.68L1434.34 762.73L1434.76 759.01L1435.17 755.51L1435.59 752.24L1436.00 749.21L1436.41 746.42L1436.83 743.87L1437.24 741.57L1437.65 739.52L1438.07 737.71L1438.48 736.17L1438.90 734.88L1439.31 733.85L1439.72 733.07L1440.14 732.56L1440.55 732.31L1440.97 732.31L1441.38 732.58L1441.79 733.11L1442.21 733.90L1442.62 734.95L1443.04 736.26L1443.45 737.82L1443.86 739.64L1444.28 741.70L1444.69 744.02L1445.11 746.59L1445.52 749.39L1445.93 752.44L1446.35 755.72L1446.76 759.23L1447.18 762.97L1447.59 766.94L1448.00 771.12L1448.42 775.51L1448.83 780.11L1449.25 784.91L1449.66 789.91L1450.07 795.10L1450.49 800.46L1450.90 806.01L1451.32 811.72L1451.73 817.59L1452.14 823.62L1452.56 829.80L1452.97 836.11L1453.39 842.56L1453.80 849.12L1454.21 855.81L1454.63 862.60L1455.04 869.48L1455.46 876.46L1455.87 883.52L1456.28 890.65L1456.70 897.84L1457.11 905.08L1457.53 912.37L1457.94 919.70L1458.35 927.05L1458.77 934.42L1459.18 941.80L1459.60 949.18L1460.01 956.54L1460.42 963.89L1460.84 971.21L1461.25 978.49L1461.67 985.72L1462.08 992.90L1462.49 1000.01L1462.91 1007.05L1463.32 1014.01L1463.74 1020.87L1464.15 1027.63L1464.56 1034.29L1464.98 1040.83L1465.39 1047.24L1465.81 1053.52L1466.22 1059.66L1466.63 1065.65L1467.05 1071.48L1467.46 1077.16L1467.88 1082.66L1468.29 1087.98L1468.70 1093.12L1469.12 1098.07L1469.53 1102.82L1469.95 1107.37L1470.36 1111.71L1470.77 1115.84L1471.19 1119.75L1471.60 1123.43L1472.02 1126.89L1472.43 1130.12L1472.84 1133.10L1473.26 1135.85L1473.67 1138.35L1474.09 1140.61L1474.50 1142.61L1474.91 1144.37L1475.33 1145.87L1475.74 1147.11L1476.16 1148.09L1476.57 1148.82L1476.98 1149.28L1477.40 1149.49L1477.81 1149.43L1478.23 1149.12L1478.64 1148.55L1479.05 1147.72L1479.47 1146.64L1479.88 1145.31L1480.29 1143.72L1480.71 1141.88L1481.12 1139.79L1481.54 1137.46L1481.95 1134.89L1482.36 1132.07L1482.78 1129.02L1483.19 1125.74L1483.61 1122.23L1484.02 1118.50L1484.43 1114.55L1484.85 1110.38L1485.26 1106.01L1485.68 1101.43L1486.09 1096.66L1486.50 1091.69L1486.92 1086.54L1487.33 1081.21L1487.75 1075.70L1488.16 1070.03L1488.57 1064.20L1488.99 1058.23L1489.40 1052.10L1489.82 1045.84L1490.23 1039.46L1490.64 1032.95L1491.06 1026.33L1491.47 1019.61L1491.89 1012.79L1492.30 1005.88L1492.71 998.90L1493.13 991.84L1493.54 984.73L1493.96 977.56L1494.37 970.35L1494.78 963.10L1495.20 955.83L1495.61 948.55L1496.03 941.25L1496.44 933.96L1496.85 926.68L1497.27 919.42L1497.68 912.19L1498.10 905.00L1498.51 897.85L1498.92 890.77L1499.34 883.74L1499.75 876.79L1500.17 869.93L1500.58 863.15L1500.99 856.47L1501.41 849.90L1501.82 843.45L1502.24 837.12L1502.65 830.92L1503.06 824.87L1503.48 818.96L1503.89 813.20L1504.31 807.61L1504.72 802.18L1505.13 796.93L1505.55 791.86L1505.96 786.98L1506.38 782.30L1506.79 777.81L1507.20 773.54L1507.62 769.47L1508.03 765.62L1508.45 761.99L1508.86 758.58L1509.27 755.41L1509.69 752.46L1510.10 749.76L1510.52 747.30L1510.93 745.08L1511.34 743.11L1511.76 741.38L1512.17 739.91L1512.59 738.69L1513.00 737.73L1513.41 737.02L1513.83 736.57L1514.24 736.37L1514.66 736.44L1515.07 736.76L1515.48 737.33L1515.90 738.17L1516.31 739.26L1516.73 740.60L1517.14 742.19L1517.55 744.04L1517.97 746.13L1518.38 748.47L1518.80 751.05L1519.21 753.87L1519.62 756.93L1520.04 760.22L1520.45 763.73L1520.87 767.47L1521.28 771.43L1521.69 775.60L1522.11 779.98L1522.52 784.57L1522.93 789.35L1523.35 794.32L1523.76 799.48L1524.18 804.81L1524.59 810.32L1525.00 816.00L1525.42 821.83L1525.83 827.81L1526.25 833.94L1526.66 840.20L1527.07 846.59L1527.49 853.10L1527.90 859.72L1528.32 866.45L1528.73 873.27L1529.14 880.18L1529.56 887.17L1529.97 894.22L1530.39 901.34L1530.80 908.51L1531.21 915.72L1531.63 922.97L1532.04 930.24L1532.46 937.53L1532.87 944.82L1533.28 952.11L1533.70 959.39L1534.11 966.65L1534.53 973.88L1534.94 981.07L1535.35 988.21L1535.77 995.30L1536.18 1002.32L1536.60 1009.27L1537.01 1016.13L1537.42 1022.91L1537.84 1029.58L1538.25 1036.15L1538.67 1042.60L1539.08 1048.92L1539.49 1055.11L1539.91 1061.17L1540.32 1067.07L1540.74 1072.82L1541.15 1078.41L1541.56 1083.83L1541.98 1089.08L1542.39 1094.14L1542.81 1099.02L1543.22 1103.70L1543.63 1108.17L1544.05 1112.45L1544.46 1116.51L1544.88 1120.35L1545.29 1123.98L1545.70 1127.38L1546.12 1130.55L1546.53 1133.48L1546.95 1136.18L1547.36 1138.63L1547.77 1140.84L1548.19 1142.81L1548.60 1144.53L1549.02 1145.99L1549.43 1147.20L1549.84 1148.16L1550.26 1148.86L1550.67 1149.31L1551.09 1149.49L1551.50 1149.42L1551.91 1149.10L1552.33 1148.52L1552.74 1147.69L1553.16 1146.60L1553.57 1145.26L1553.98 1143.68L1554.40 1141.84L1554.81 1139.76L1555.23 1137.44L1555.64 1134.87L1556.05 1132.07L1556.47 1129.04L1556.88 1125.77L1557.30 1122.28L1557.71 1118.57L1558.12 1114.65L1558.54 1110.51L1558.95 1106.16L1559.37 1101.62L1559.78 1096.88L1560.19 1091.95L1560.61 1086.83L1561.02 1081.54L1561.44 1076.08L1561.85 1070.46L1562.26 1064.67L1562.68 1058.74L1563.09 1052.67L1563.51 1046.47L1563.92 1040.13L1564.33 1033.68L1564.75 1027.12L1565.16 1020.45L1565.57 1013.70L1565.99 1006.85L1566.40 999.93L1566.82 992.94L1567.23 985.89L1567.64 978.79L1568.06 971.65L1568.47 964.47L1568.89 957.27L1569.30 950.06L1569.71 942.84L1570.13 935.62L1570.54 928.41L1570.96 921.23L1571.37 914.07L1571.78 906.95L1572.20 899.88L1572.61 892.87L1573.03 885.92L1573.44 879.05L1573.85 872.26L1574.27 865.55L1574.68 858.95L1575.10 852.46L1575.51 846.08L1575.92 839.83L1576.34 833.70L1576.75 827.72L1577.17 821.88L1577.58 816.20L1577.99 810.67L1578.41 805.32L1578.82 800.14L1579.24 795.14L1579.65 790.32L1580.06 785.71L1580.48 781.28L1580.89 777.07L1581.31 773.06L1581.72 769.27L1582.13 765.70L1582.55 762.35L1582.96 759.23L1583.38 756.34L1583.79 753.69L1584.20 751.27L1584.62 749.10L1585.03 747.18L1585.45 745.49L1585.86 744.06L1586.27 742.88L1586.69 741.96L1587.10 741.28L1587.52 740.86L1587.93 740.70L1588.34 740.79L1588.76 741.13L1589.17 741.73L1589.59 742.59L1590.00 743.69L1590.41 745.05L1590.83 746.66L1591.24 748.51L1591.66 750.61L1592.07 752.96L1592.48 755.54L1592.90 758.36L1593.31 761.41L1593.73 764.69L1594.14 768.20L1594.55 771.93L1594.97 775.87L1595.38 780.03L1595.80 784.39L1596.21 788.95L1596.62 793.71L1597.04 798.65L1597.45 803.78L1597.87 809.09L1598.28 814.56L1598.69 820.20L1599.11 825.99L1599.52 831.93L1599.94 838.02L1600.35 844.23L1600.76 850.58L1601.18 857.04L1601.59 863.61L1602.01 870.28L1602.42 877.05L1602.83 883.90L1603.25 890.83L1603.66 897.82L1604.08 904.87L1604.49 911.98L1604.90 919.12L1605.32 926.30L1605.73 933.50L1606.15 940.72L1606.56 947.94L1606.97 955.16L1607.39 962.36L1607.80 969.55L1608.22 976.70L1608.63 983.81L1609.04 990.88L1609.46 997.89L1609.87 1004.83L1610.28 1011.70L1610.70 1018.48L1611.11 1025.17L1611.53 1031.77L1611.94 1038.25L1612.35 1044.62L1612.77 1050.87L1613.18 1056.98L1613.60 1062.95L1614.01 1068.78L1614.42 1074.45L1614.84 1079.96L1615.25 1085.30L1615.67 1090.47L1616.08 1095.45L1616.49 1100.25L1616.91 1104.85L1617.32 1109.26L1617.74 1113.46L1618.15 1117.45L1618.56 1121.22L1618.98 1124.77L1619.39 1128.10L1619.81 1131.21L1620.22 1134.08L1620.63 1136.71L1621.05 1139.10L1621.46 1141.26L1621.88 1143.16L1622.29 1144.82L1622.70 1146.23L1623.12 1147.39L1623.53 1148.30L1623.95 1148.96L1624.36 1149.36L1624.77 1149.50L1625.19 1149.39L1625.60 1149.03L1626.02 1148.41L1626.43 1147.54L1626.84 1146.42L1627.26 1145.04L1627.67 1143.42L1628.09 1141.56L1628.50 1139.45L1628.91 1137.09L1629.33 1134.50L1629.74 1131.68L1630.16 1128.62L1630.57 1125.34L1630.98 1121.83L1631.40 1118.10L1631.81 1114.16L1632.23 1110.01L1632.64 1105.65L1633.05 1101.09L1633.47 1096.35L1633.88 1091.41L1634.30 1086.29L1634.71 1081.00L1635.12 1075.54L1635.54 1069.92L1635.95 1064.15L1636.37 1058.22L1636.78 1052.16L1637.19 1045.97L1637.61 1039.65L1638.02 1033.22L1638.44 1026.68L1638.85 1020.04L1639.26 1013.31L1639.68 1006.49L1640.09 999.60L1640.51 992.65L1640.92 985.63L1641.33 978.57L1641.75 971.47L1642.16 964.34L1642.58 957.19L1642.99 950.02L1643.40 942.85L1643.82 935.69L1644.23 928.54L1644.65 921.42L1645.06 914.33L1645.47 907.27L1645.89 900.27L1646.30 893.33L1646.72 886.46L1647.13 879.66L1647.54 872.94L1647.96 866.32L1648.37 859.80L1648.79 853.39L1649.20 847.10L1649.61 840.94L1650.03 834.90L1650.44 829.01L1650.86 823.27L1651.27 817.68L1651.68 812.26L1652.10 807.00L1652.51 801.92L1652.92 797.02L1653.34 792.31L1653.75 787.80L1654.17 783.49L1654.58 779.38L1654.99 775.48L1655.41 771.80L1655.82 768.34L1656.24 765.10L1656.65 762.09L1657.06 759.31L1657.48 756.77L1657.89 754.47L1658.31 752.41L1658.72 750.59L1659.13 749.03L1659.55 747.71L1659.96 746.64L1660.38 745.82L1660.79 745.26L1661.20 744.94L1661.62 744.89L1662.03 745.08L1662.45 745.54L1662.86 746.24L1663.27 747.20L1663.69 748.40L1664.10 749.86L1664.52 751.56L1664.93 753.51L1665.34 755.71L1665.76 758.14L1666.17 760.81L1666.59 763.72L1667.00 766.85L1667.41 770.21L1667.83 773.80L1668.24 777.60L1668.66 781.61L1669.07 785.84L1669.48 790.26L1669.90 794.88L1670.31 799.70L1670.73 804.70L1671.14 809.87L1671.55 815.22L1671.97 820.74L1672.38 826.41L1672.80 832.24L1673.21 838.21L1673.62 844.31L1674.04 850.55L1674.45 856.91L1674.87 863.38L1675.28 869.96L1675.69 876.63L1676.11 883.39L1676.52 890.23L1676.94 897.14L1677.35 904.12L1677.76 911.15L1678.18 918.23L1678.59 925.34L1679.01 932.48L1679.42 939.63L1679.83 946.80L1680.25 953.97L1680.66 961.13L1681.08 968.27L1681.49 975.38L1681.90 982.46L1682.32 989.50L1682.73 996.48L1683.15 1003.40L1683.56 1010.25L1683.97 1017.02L1684.39 1023.71L1684.80 1030.29L1685.22 1036.78L1685.63 1043.15L1686.04 1049.39L1686.46 1055.52L1686.87 1061.50L1687.29 1067.34L1687.70 1073.03L1688.11 1078.57L1688.53 1083.93L1688.94 1089.13L1689.36 1094.15L1689.77 1098.98L1690.18 1103.63L1690.60 1108.07L1691.01 1112.32L1691.43 1116.35L1691.84 1120.18L1692.25 1123.79L1692.67 1127.17L1693.08 1130.33L1693.50 1133.26L1693.91 1135.96L1694.32 1138.42L1694.74 1140.64L1695.15 1142.62L1695.56 1144.35L1695.98 1145.83L1696.39 1147.06L1696.81 1148.05L1697.22 1148.78L1697.63 1149.26L1698.05 1149.48L1698.46 1149.45L1698.88 1149.18L1699.29 1148.66L1699.70 1147.89L1700.12 1146.88L1700.53 1145.62L1700.95 1144.13L1701.36 1142.39L1701.77 1140.42L1702.19 1138.21L1702.60 1135.76L1703.02 1133.09L1703.43 1130.19L1703.84 1127.07L1704.26 1123.73L1704.67 1120.18L1705.09 1116.41L1705.50 1112.44L1705.91 1108.27L1706.33 1103.90L1706.74 1099.34L1707.16 1094.60L1707.57 1089.67L1707.98 1084.58L1708.40 1079.31L1708.81 1073.89L1709.23 1068.32L1709.64 1062.59L1710.05 1056.73L1710.47 1050.73L1710.88 1044.61L1711.30 1038.38L1711.71 1032.03L1712.12 1025.58L1712.54 1019.03L1712.95 1012.40L1713.37 1005.69L1713.78 998.92L1714.19 992.08L1714.61 985.18L1715.02 978.25L1715.44 971.27L1715.85 964.27L1716.26 957.25L1716.68 950.22L1717.09 943.19L1717.51 936.17L1717.92 929.16L1718.33 922.17L1718.75 915.22L1719.16 908.31L1719.58 901.45L1719.99 894.65L1720.40 887.91L1720.82 881.25L1721.23 874.68L1721.65 868.19L1722.06 861.81L1722.47 855.53L1722.89 849.36L1723.30 843.32L1723.72 837.41L1724.13 831.63L1724.54 826.00L1724.96 820.52L1725.37 815.20L1725.79 810.04L1726.20 805.06L1726.61 800.25L1727.03 795.62L1727.44 791.18L1727.86 786.94L1728.27 782.89L1728.68 779.05L1729.10 775.42L1729.51 772.00L1729.93 768.80L1730.34 765.82L1730.75 763.06L1731.17 760.54L1731.58 758.24L1732.00 756.18L1732.41 754.36L1732.82 752.77L1733.24 751.43L1733.65 750.33L1734.07 749.48L1734.48 748.86L1734.89 748.50L1735.31 748.38L1735.72 748.51L1736.14 748.88L1736.55 749.50L1736.96 750.37L1737.38 751.46L1737.79 752.54L1738.20 753.79L1738.62 755.23L1739.03 756.85L1739.45 758.65L1739.86 760.63L1740.27 762.78L1740.69 765.11L1741.10 767.61L1741.52 770.27L1741.93 773.11L1742.34 776.11L1742.76 779.26L1743.17 782.58L1743.59 786.05L1744.00 789.68L1744.41 793.45L1744.83 797.37L1745.24 801.43L1745.66 805.63L1746.07 809.96L1746.48 814.42L1746.90 819.01L1747.31 823.72L1747.73 828.55L1748.14 833.48L1748.55 838.53L1748.97 843.68L1749.38 848.93L1749.80 854.27L1750.21 859.70L1750.62 865.21L1751.04 870.80L1751.45 876.46L1751.87 882.19L1752.28 887.99L1752.69 893.84L1753.11 899.74L1753.52 905.69L1753.94 911.68L1754.35 917.71L1754.76 923.76L1755.18 929.84L1755.59 935.93L1756.01 942.04L1756.42 948.15L1756.83 954.27L1757.25 960.38L1757.66 966.48L1758.08 972.57L1758.49 978.63L1758.90 984.66L1759.32 990.66L1759.73 996.63L1760.15 1002.55L1760.56 1008.42L1760.97 1014.23L1761.39 1019.98L1761.80 1025.67L1762.22 1031.29L1762.63 1036.83L1763.04 1042.28L1763.46 1047.65L1763.87 1052.93L1764.29 1058.12L1764.70 1063.20L1765.11 1068.17L1765.53 1073.04L1765.94 1077.78L1766.36 1082.41L1766.77 1086.92L1767.18 1091.29L1767.60 1095.54L1768.01 1099.64L1768.43 1103.61L1768.84 1107.43L1769.25 1111.11L1769.67 1114.63L1770.08 1118.00L1770.50 1121.22L1770.91 1124.27L1771.32 1127.16L1771.74 1129.88L1772.15 1132.44L1772.57 1134.82L1772.98 1137.03L1773.39 1139.07L1773.81 1140.93L1774.22 1142.61L1774.64 1144.11L1775.05 1145.43L1775.46 1146.56L1775.88 1147.51L1776.29 1148.28L1776.71 1148.86L1777.12 1149.26L1777.53 1149.46L1777.95 1149.49L1778.36 1149.33L1778.78 1148.98L1779.19 1148.46L1779.60 1147.76L1780.02 1146.88L1780.43 1145.82L1780.85 1144.58L1781.26 1143.16L1781.67 1141.58L1782.09 1139.82L1782.50 1137.89L1782.91 1135.79L1783.33 1133.52L1783.74 1131.10L1784.16 1128.51L1784.57 1125.77L1784.98 1122.88L1785.40 1119.83L1785.81 1116.64L1786.23 1113.31L1786.64 1109.84L1787.05 1106.23L1787.47 1102.50L1787.88 1098.63L1788.30 1094.65L1788.71 1090.55L1789.12 1086.34L1789.54 1082.03L1789.95 1077.61L1790.37 1073.10L1790.78 1068.50L1791.19 1063.81L1791.61 1059.04L1792.02 1054.20L1792.44 1049.29L1792.85 1044.32L1793.26 1039.29L1793.68 1034.22L1794.09 1029.09L1794.51 1023.94L1794.92 1018.74L1795.33 1013.53L1795.75 1008.29L1796.16 1003.04L1796.58 997.79L1796.99 992.53L1797.40 987.28L1797.82 982.04L1798.23 976.82L1798.65 971.63L1799.06 966.46L1799.47 961.33L1799.89 956.25L1800.30 951.21L1800.72 946.23L1801.13 941.31L1801.54 936.45L1801.96 931.67L1802.37 926.97L1802.79 922.35L1803.20 917.82L1803.61 913.38L1804.03 909.05L1804.44 904.82L1804.86 900.70L1805.27 896.69L1805.68 892.81L1806.10 889.05L1806.51 885.42L1806.93 881.92L1807.34 878.56L1807.75 875.35L1808.17 872.27L1808.58 869.35L1809.00 866.58L1809.41 863.97L1809.82 861.51L1810.24 859.22L1810.65 857.09L1811.07 855.13L1811.48 853.34L1811.89 851.72L1812.31 850.27L1812.72 849.00L1813.14 847.90L1813.55 846.99L1813.96 846.25L1814.38 845.70L1814.79 845.32L1815.21 845.13L1815.62 845.11L1816.03 845.28L1816.45 845.63L1816.86 846.16L1817.28 846.77L1817.69 847.40L1818.10 848.16L1818.52 849.05L1818.93 850.06L1819.35 851.20L1819.76 852.46L1820.17 853.84L1820.59 855.35L1821.00 856.97L1821.42 858.72L1821.83 860.58L1822.24 862.56L1822.66 864.65L1823.07 866.85L1823.49 869.17L1823.90 871.59L1824.31 874.12L1824.73 876.76L1825.14 879.50L1825.55 882.33L1825.97 885.27L1826.38 888.30L1826.80 891.42L1827.21 894.63L1827.62 897.93L1828.04 901.31L1828.45 904.78L1828.87 908.32L1829.28 911.94L1829.69 915.63L1830.11 919.39L1830.52 923.22L1830.94 927.11L1831.35 931.06L1831.76 935.07L1832.18 939.12L1832.59 943.23L1833.01 947.39L1833.42 951.58L1833.83 955.82L1834.25 960.09L1834.66 964.39L1835.08 968.72L1835.49 973.08L1835.90 977.45L1836.32 981.84L1836.73 986.25L1837.15 990.66L1837.56 995.09L1837.97 999.51L1838.39 1003.93L1838.80 1008.35L1839.22 1012.75L1839.63 1017.15L1840.04 1021.52L1840.46 1025.88L1840.87 1030.21L1841.29 1034.52L1841.70 1038.79L1842.11 1043.03L1842.53 1047.23L1842.94 1051.39L1843.36 1055.50L1843.77 1059.56L1844.18 1063.58L1844.60 1067.53L1845.01 1071.43L1845.43 1075.26L1845.84 1079.03L1845.84 1149.50Z" fill="url(#gdp)"/>
<line x1="939.06" y1="663.0" x2="939.06" y2="901.6" stroke="#202020" stroke-opacity="0.27" stroke-width="1.0" stroke-dasharray="2.1 3.0"/>
<line x1="939.06" y1="909.8" x2="939.06" y2="1149.5" stroke="#202020" stroke-opacity="0.27" stroke-width="1.0" stroke-dasharray="2.1 3.0"/>
<line x1="1068.6" y1="663.0" x2="1068.6" y2="901.6" stroke="#202020" stroke-opacity="0.27" stroke-width="1.0" stroke-dasharray="2.1 3.0"/>
<line x1="1068.6" y1="909.8" x2="1068.6" y2="1149.5" stroke="#202020" stroke-opacity="0.27" stroke-width="1.0" stroke-dasharray="2.1 3.0"/>
<line x1="1198.14" y1="663.0" x2="1198.14" y2="901.6" stroke="#202020" stroke-opacity="0.27" stroke-width="1.0" stroke-dasharray="2.1 3.0"/>
<line x1="1198.14" y1="909.8" x2="1198.14" y2="1149.5" stroke="#202020" stroke-opacity="0.27" stroke-width="1.0" stroke-dasharray="2.1 3.0"/>
<line x1="1327.68" y1="663.0" x2="1327.68" y2="901.6" stroke="#202020" stroke-opacity="0.27" stroke-width="1.0" stroke-dasharray="2.1 3.0"/>
<line x1="1327.68" y1="909.8" x2="1327.68" y2="1149.5" stroke="#202020" stroke-opacity="0.27" stroke-width="1.0" stroke-dasharray="2.1 3.0"/>
<line x1="1457.22" y1="663.0" x2="1457.22" y2="901.6" stroke="#202020" stroke-opacity="0.27" stroke-width="1.0" stroke-dasharray="2.1 3.0"/>
<line x1="1457.22" y1="909.8" x2="1457.22" y2="1149.5" stroke="#202020" stroke-opacity="0.27" stroke-width="1.0" stroke-dasharray="2.1 3.0"/>
<line x1="1586.76" y1="663.0" x2="1586.76" y2="901.6" stroke="#202020" stroke-opacity="0.27" stroke-width="1.0" stroke-dasharray="2.1 3.0"/>
<line x1="1586.76" y1="909.8" x2="1586.76" y2="1149.5" stroke="#202020" stroke-opacity="0.27" stroke-width="1.0" stroke-dasharray="2.1 3.0"/>
<line x1="1716.3" y1="663.0" x2="1716.3" y2="901.6" stroke="#202020" stroke-opacity="0.27" stroke-width="1.0" stroke-dasharray="2.1 3.0"/>
<line x1="1716.3" y1="909.8" x2="1716.3" y2="1149.5" stroke="#202020" stroke-opacity="0.27" stroke-width="1.0" stroke-dasharray="2.1 3.0"/>
<line x1="852.3" y1="696.2" x2="1846.9" y2="696.2" stroke="#202020" stroke-opacity="0.27" stroke-width="1.0" stroke-dasharray="2.1 3.0"/>
<line x1="852.3" y1="867.5" x2="1846.9" y2="867.5" stroke="#202020" stroke-opacity="0.27" stroke-width="1.0" stroke-dasharray="2.1 3.0"/>
<line x1="852.3" y1="944.4" x2="1846.9" y2="944.4" stroke="#202020" stroke-opacity="0.27" stroke-width="1.0" stroke-dasharray="2.1 3.0"/>
<line x1="852.3" y1="1115.5" x2="1846.9" y2="1115.5" stroke="#202020" stroke-opacity="0.27" stroke-width="1.0" stroke-dasharray="2.1 3.0"/>
<path d="M852.70 745.86L853.11 747.74L853.53 749.65L853.94 751.57L854.36 753.50L854.77 755.45L855.18 757.42L855.60 759.40L856.01 761.40L856.43 763.41L856.84 765.44L857.25 767.48L857.67 769.54L858.08 771.61L858.50 773.69L858.91 775.79L859.32 777.90L859.74 780.02L860.15 782.16L860.57 784.31L860.98 786.47L861.39 788.65L861.81 790.83L862.22 793.03L862.64 795.24L863.05 797.46L863.46 799.70L863.88 801.94L864.29 804.19L864.71 806.46L865.12 808.73L865.53 811.02L865.95 813.31L866.36 815.62L866.78 817.93L867.19 820.25L867.60 822.58L868.02 824.92L868.43 827.27L868.85 829.63L869.26 831.99L869.67 834.36L870.09 836.74L870.50 839.13L870.92 841.52L871.33 843.92L871.74 846.32L872.16 848.73L872.57 851.15L872.99 853.58L873.40 856.00L873.81 858.44L874.23 860.88L874.64 863.32L875.05 865.77L875.47 868.22L875.88 870.67L876.30 873.13L876.71 875.59L877.12 878.06L877.54 880.53L877.95 883.00L878.37 885.47L878.78 887.95L879.19 890.42L879.61 892.90L880.02 895.38L880.44 897.86L880.85 900.34L881.26 902.83L881.68 905.31L882.09 907.79L882.51 910.27L882.92 912.75L883.33 915.23L883.75 917.71L884.16 920.19L884.58 922.67L884.99 925.14L885.40 927.62L885.82 930.09L886.23 932.56L886.65 935.02L887.06 937.48L887.47 939.94L887.89 942.40L888.30 944.85L888.72 947.30L889.13 949.74L889.54 952.18L889.96 954.61L890.37 957.04L890.79 959.47L891.20 961.88L891.61 964.30L892.03 966.70L892.44 969.10L892.86 971.49L893.27 973.88L893.68 976.26L894.10 978.63L894.51 980.99L894.93 983.35L895.34 985.70L895.75 988.04L896.17 990.37L896.58 992.69L897.00 995.01L897.41 997.31L897.82 999.60L898.24 1001.89L898.65 1004.16L899.07 1006.43L899.48 1008.68L899.89 1010.93L900.31 1013.16L900.72 1015.38L901.14 1017.59L901.55 1019.79L901.96 1021.98L902.38 1024.15L902.79 1026.31L903.21 1028.46L903.62 1030.60L904.03 1032.73L904.45 1034.84L904.86 1036.93L905.28 1039.02L905.69 1041.09L906.10 1043.14L906.52 1045.19L906.93 1047.21L907.35 1049.23L907.76 1051.23L908.17 1053.21L908.59 1055.18L909.00 1057.13L909.42 1059.06L909.83 1060.98L910.24 1062.89L910.66 1064.78L911.07 1066.65L911.49 1068.50L911.90 1070.34L912.31 1072.16L912.73 1073.97L913.14 1075.75L913.56 1077.52L913.97 1079.27L914.38 1081.01L914.80 1082.72L915.21 1084.42L915.63 1086.10L916.04 1087.76L916.45 1089.40L916.87 1091.02L917.28 1092.62L917.69 1094.20L918.11 1095.77L918.52 1097.31L918.94 1098.83L919.35 1100.34L919.76 1101.82L920.18 1103.29L920.59 1104.73L921.01 1106.15L921.42 1107.55L921.83 1108.93L922.25 1110.29L922.66 1111.63L923.08 1112.95L923.49 1114.24L923.90 1115.52L924.32 1116.77L924.73 1118.00L925.15 1119.21L925.56 1120.40L925.97 1121.56L926.39 1122.70L926.80 1123.82L927.22 1124.92L927.63 1125.99L928.04 1127.04L928.46 1128.07L928.87 1129.08L929.29 1130.06L929.70 1131.02L930.11 1131.95L930.53 1132.87L930.94 1133.76L931.36 1134.62L931.77 1135.46L932.18 1136.28L932.60 1137.07L933.01 1137.84L933.43 1138.59L933.84 1139.31L934.25 1140.01L934.67 1140.68L935.08 1141.33L935.50 1141.96L935.91 1142.56L936.32 1143.13L936.74 1143.68L937.15 1144.21L937.57 1144.71L937.98 1145.19L938.39 1145.64L938.81 1146.07L939.22 1146.47L939.64 1146.85L940.05 1147.20L940.46 1147.53L940.88 1147.83L941.29 1148.11L941.71 1148.36L942.12 1148.59L942.53 1148.79L942.95 1148.96L943.36 1149.12L943.78 1149.24L944.19 1149.34L944.60 1149.42L945.02 1149.47L945.43 1149.50L945.85 1149.50L946.26 1149.47L946.67 1149.42L947.09 1149.35L947.50 1149.25L947.92 1149.12L948.33 1148.97L948.74 1148.79L949.16 1148.59L949.57 1148.37L949.99 1148.11L950.40 1147.84L950.81 1147.54L951.23 1147.21L951.64 1146.86L952.06 1146.48L952.47 1146.08L952.88 1145.65L953.30 1145.20L953.71 1144.72L954.13 1144.22L954.54 1143.70L954.95 1143.15L955.37 1142.57L955.78 1141.97L956.20 1141.35L956.61 1140.70L957.02 1140.03L957.44 1139.33L957.85 1138.61L958.27 1137.87L958.68 1137.10L959.09 1136.30L959.51 1135.49L959.92 1134.65L960.34 1133.78L960.75 1132.89L961.16 1131.98L961.58 1131.05L961.99 1130.09L962.40 1129.11L962.82 1128.10L963.23 1127.08L963.65 1126.02L964.06 1124.95L964.47 1123.86L964.89 1122.74L965.30 1121.60L965.72 1120.43L966.13 1119.25L966.54 1118.04L966.96 1116.81L967.37 1115.56L967.79 1114.28L968.20 1112.99L968.61 1111.67L969.03 1110.33L969.44 1108.97L969.86 1107.59L970.27 1106.19L970.68 1104.77L971.10 1103.33L971.51 1101.87L971.93 1100.38L972.34 1098.88L972.75 1097.36L973.17 1095.81L973.58 1094.25L974.00 1092.67L974.41 1091.07L974.82 1089.45L975.24 1087.81L975.65 1086.15L976.07 1084.47L976.48 1082.77L976.89 1081.06L977.31 1079.33L977.72 1077.58L978.14 1075.81L978.55 1074.02L978.96 1072.22L979.38 1070.40L979.79 1068.56L980.21 1066.71L980.62 1064.83L981.03 1062.95L981.45 1061.04L981.86 1059.12L982.28 1057.19L982.69 1055.23L983.10 1053.27L983.52 1051.29L983.93 1049.29L984.35 1047.28L984.76 1045.25L985.17 1043.21L985.59 1041.15L986.00 1039.08L986.42 1037.00L986.83 1034.90L987.24 1032.79L987.66 1030.67L988.07 1028.53L988.49 1026.38L988.90 1024.22L989.31 1022.04L989.73 1019.86L990.14 1017.66L990.56 1015.45L990.97 1013.23L991.38 1010.99L991.80 1008.75L992.21 1006.50L992.63 1004.23L993.04 1001.96L993.45 999.67L993.87 997.38L994.28 995.08L994.70 992.76L995.11 990.44L995.52 988.11L995.94 985.77L996.35 983.42L996.77 981.07L997.18 978.70L997.59 976.33L998.01 973.95L998.42 971.57L998.84 969.17L999.25 966.77L999.66 964.37L1000.08 961.96L1000.49 959.54L1000.91 957.12L1001.32 954.69L1001.73 952.25L1002.15 949.81L1002.56 947.37L1002.98 944.92L1003.39 942.47L1003.80 940.02L1004.22 937.56L1004.63 935.10L1005.04 932.63L1005.46 930.16L1005.87 927.69L1006.29 925.22L1006.70 922.74L1007.11 920.27L1007.53 917.79L1007.94 915.31L1008.36 912.83L1008.77 910.35L1009.18 907.87L1009.60 905.38L1010.01 902.90L1010.43 900.42L1010.84 897.94L1011.25 895.46L1011.67 892.98L1012.08 890.50L1012.50 888.02L1012.91 885.55L1013.32 883.07L1013.74 880.60L1014.15 878.13L1014.57 875.67L1014.98 873.21L1015.39 870.75L1015.81 868.29L1016.22 865.84L1016.64 863.39L1017.05 860.95L1017.46 858.51L1017.88 856.08L1018.29 853.65L1018.71 851.23L1019.12 848.81L1019.53 846.40L1019.95 843.99L1020.36 841.59L1020.78 839.20L1021.19 836.81L1021.60 834.43L1022.02 832.06L1022.43 829.70L1022.85 827.34L1023.26 824.99L1023.67 822.65L1024.09 820.32L1024.50 818.00L1024.92 815.69L1025.33 813.38L1025.74 811.09L1026.16 808.80L1026.57 806.53L1026.99 804.26L1027.40 802.01L1027.81 799.76L1028.23 797.53L1028.64 795.31L1029.06 793.10L1029.47 790.90L1029.88 788.71L1030.30 786.54L1030.71 784.38L1031.13 782.23L1031.54 780.09L1031.95 777.96L1032.37 775.85L1032.78 773.76L1033.20 771.67L1033.61 769.60L1034.02 767.55L1034.44 765.50L1034.85 763.48L1035.27 761.46L1035.68 759.46L1036.09 757.48L1036.51 755.51L1036.92 753.56L1037.34 751.63L1037.75 749.70L1038.16 747.80L1038.58 745.91L1038.99 744.04L1039.41 742.19L1039.82 740.35L1040.23 738.53L1040.65 736.72L1041.06 734.94L1041.48 733.17L1041.89 731.42L1042.30 729.68L1042.72 727.97L1043.13 726.27L1043.55 724.59L1043.96 722.93L1044.37 721.29L1044.79 719.67L1045.20 718.07L1045.62 716.49L1046.03 714.92L1046.44 713.38L1046.86 711.85L1047.27 710.35L1047.68 708.87L1048.10 707.40L1048.51 705.96L1048.93 704.54L1049.34 703.14L1049.75 701.76L1050.17 700.40L1050.58 699.06L1051.00 697.74L1051.41 696.44L1051.82 695.17L1052.24 693.92L1052.65 692.69L1053.07 691.48L1053.48 690.29L1053.89 689.13L1054.31 687.99L1054.72 686.87L1055.14 685.77L1055.55 684.70L1055.96 683.64L1056.38 682.62L1056.79 681.61L1057.21 680.63L1057.62 679.67L1058.03 678.73L1058.45 677.82L1058.86 676.93L1059.28 676.07L1059.69 675.23L1060.10 674.41L1060.52 673.61L1060.93 672.84L1061.35 672.10L1061.76 671.38L1062.17 670.68L1062.59 670.01L1063.00 669.36L1063.42 668.73L1063.83 668.13L1064.24 667.56L1064.66 667.01L1065.07 666.48L1065.49 665.98L1065.90 665.50L1066.31 665.05L1066.73 664.62L1067.14 664.22L1067.56 663.84L1067.97 663.49L1068.38 663.16L1068.80 662.48L1069.21 661.59L1069.63 660.98L1070.04 660.65L1070.45 660.60L1070.87 660.82L1071.28 661.32L1071.70 662.10L1072.11 663.16L1072.52 664.49L1072.94 666.09L1073.35 667.97L1073.77 670.11L1074.18 672.53L1074.59 675.20L1075.01 678.14L1075.42 681.34L1075.84 684.79L1076.25 688.49L1076.66 692.44L1077.08 696.63L1077.49 701.06L1077.91 705.72L1078.32 710.60L1078.73 715.71L1079.15 721.03L1079.56 726.57L1079.98 732.30L1080.39 738.23L1080.80 744.35L1081.22 750.66L1081.63 757.14L1082.05 763.78L1082.46 770.59L1082.87 777.55L1083.29 784.66L1083.70 791.90L1084.12 799.28L1084.53 806.77L1084.94 814.37L1085.36 822.08L1085.77 829.88L1086.19 837.77L1086.60 845.73L1087.01 853.76L1087.43 861.85L1087.84 869.99L1088.26 878.17L1088.67 886.38L1089.08 894.61L1089.50 902.85L1089.91 911.09L1090.32 919.33L1090.74 927.55L1091.15 935.75L1091.57 943.91L1091.98 952.03L1092.39 960.09L1092.81 968.09L1093.22 976.02L1093.64 983.87L1094.05 991.63L1094.46 999.29L1094.88 1006.84L1095.29 1014.28L1095.71 1021.59L1096.12 1028.77L1096.53 1035.81L1096.95 1042.70L1097.36 1049.43L1097.78 1056.00L1098.19 1062.40L1098.60 1068.62L1099.02 1074.65L1099.43 1080.49L1099.85 1086.13L1100.26 1091.57L1100.67 1096.79L1101.09 1101.80L1101.50 1106.58L1101.92 1111.13L1102.33 1115.44L1102.74 1119.52L1103.16 1123.35L1103.57 1126.94L1103.99 1130.27L1104.40 1133.35L1104.81 1136.17L1105.23 1138.72L1105.64 1141.01L1106.06 1143.03L1106.47 1144.78L1106.88 1146.25L1107.30 1147.45L1107.71 1148.38L1108.13 1149.03L1108.54 1149.40L1108.95 1149.50L1109.37 1149.32L1109.78 1148.88L1110.20 1148.16L1110.61 1147.19L1111.02 1145.95L1111.44 1144.44L1111.85 1142.68L1112.27 1140.65L1112.68 1138.37L1113.09 1135.84L1113.51 1133.05L1113.92 1130.02L1114.34 1126.75L1114.75 1123.23L1115.16 1119.48L1115.58 1115.50L1115.99 1111.30L1116.41 1106.87L1116.82 1102.23L1117.23 1097.38L1117.65 1092.33L1118.06 1087.08L1118.48 1081.64L1118.89 1076.02L1119.30 1070.22L1119.72 1064.25L1120.13 1058.12L1120.55 1051.84L1120.96 1045.40L1121.37 1038.83L1121.79 1032.13L1122.20 1025.31L1122.62 1018.37L1123.03 1011.33L1123.44 1004.19L1123.86 996.96L1124.27 989.65L1124.69 982.27L1125.10 974.83L1125.51 967.35L1125.93 959.81L1126.34 952.25L1126.76 944.66L1127.17 937.06L1127.58 929.45L1128.00 921.84L1128.41 914.25L1128.83 906.69L1129.24 899.15L1129.65 891.66L1130.07 884.22L1130.48 876.84L1130.90 869.52L1131.31 862.29L1131.72 855.15L1132.14 848.10L1132.55 841.15L1132.97 834.32L1133.38 827.61L1133.79 821.03L1134.21 814.59L1134.62 808.29L1135.03 802.15L1135.45 796.17L1135.86 790.36L1136.28 784.73L1136.69 779.28L1137.10 774.02L1137.52 768.95L1137.93 764.09L1138.35 759.43L1138.76 754.99L1139.17 750.78L1139.59 746.78L1140.00 743.02L1140.42 739.49L1140.83 736.20L1141.24 733.15L1141.66 730.35L1142.07 727.80L1142.49 725.50L1142.90 723.46L1143.31 721.68L1143.73 720.16L1144.14 718.90L1144.56 717.91L1144.97 717.18L1145.38 716.72L1145.80 716.52L1146.21 716.59L1146.63 716.94L1147.04 717.54L1147.45 718.42L1147.87 719.55L1148.28 720.96L1148.70 722.62L1149.11 724.54L1149.52 726.73L1149.94 729.16L1150.35 731.85L1150.77 734.79L1151.18 737.97L1151.59 741.39L1152.01 745.05L1152.42 748.94L1152.84 753.06L1153.25 757.40L1153.66 761.95L1154.08 766.72L1154.49 771.70L1154.91 776.87L1155.32 782.23L1155.73 787.79L1156.15 793.52L1156.56 799.42L1156.98 805.49L1157.39 811.72L1157.80 818.09L1158.22 824.61L1158.63 831.26L1159.05 838.04L1159.46 844.94L1159.87 851.94L1160.29 859.04L1160.70 866.24L1161.12 873.52L1161.53 880.87L1161.94 888.28L1162.36 895.75L1162.77 903.27L1163.19 910.82L1163.60 918.40L1164.01 926.00L1164.43 933.61L1164.84 941.22L1165.26 948.81L1165.67 956.39L1166.08 963.94L1166.50 971.45L1166.91 978.91L1167.33 986.32L1167.74 993.66L1168.15 1000.92L1168.57 1008.10L1168.98 1015.19L1169.40 1022.18L1169.81 1029.05L1170.22 1035.81L1170.64 1042.44L1171.05 1048.94L1171.47 1055.29L1171.88 1061.49L1172.29 1067.54L1172.71 1073.41L1173.12 1079.12L1173.54 1084.64L1173.95 1089.98L1174.36 1095.12L1174.78 1100.06L1175.19 1104.80L1175.61 1109.32L1176.02 1113.63L1176.43 1117.71L1176.85 1121.56L1177.26 1125.18L1177.67 1128.57L1178.09 1131.71L1178.50 1134.61L1178.92 1137.26L1179.33 1139.65L1179.74 1141.79L1180.16 1143.68L1180.57 1145.30L1180.99 1146.66L1181.40 1147.75L1181.81 1148.59L1182.23 1149.15L1182.64 1149.45L1183.06 1149.48L1183.47 1149.24L1183.88 1148.73L1184.30 1147.94L1184.71 1146.89L1185.13 1145.57L1185.54 1143.98L1185.95 1142.12L1186.37 1140.00L1186.78 1137.63L1187.20 1134.99L1187.61 1132.10L1188.02 1128.96L1188.44 1125.58L1188.85 1121.95L1189.27 1118.09L1189.68 1113.99L1190.09 1109.67L1190.51 1105.12L1190.92 1100.36L1191.34 1095.39L1191.75 1090.22L1192.16 1084.85L1192.58 1079.29L1192.99 1073.54L1193.41 1067.62L1193.82 1061.54L1194.23 1055.29L1194.65 1048.89L1195.06 1042.34L1195.48 1035.66L1195.89 1028.85L1196.30 1021.92L1196.72 1014.88L1197.13 1007.74L1197.55 1000.51L1197.96 993.20L1198.37 985.81L1198.79 978.35L1199.20 970.84L1199.62 963.29L1200.03 955.70L1200.44 948.08L1200.86 940.45L1201.27 932.81L1201.69 925.17L1202.10 917.55L1202.51 909.95L1202.93 902.38L1203.34 894.85L1203.76 887.37L1204.17 879.95L1204.58 872.61L1205.00 865.34L1205.41 858.16L1205.83 851.07L1206.24 844.10L1206.65 837.24L1207.07 830.50L1207.48 823.90L1207.90 817.44L1208.31 811.12L1208.72 804.97L1209.14 798.97L1209.55 793.16L1209.97 787.52L1210.38 782.07L1210.79 776.81L1211.21 771.75L1211.62 766.90L1212.04 762.27L1212.45 757.85L1212.86 753.66L1213.28 749.69L1213.69 745.97L1214.11 742.48L1214.52 739.24L1214.93 736.24L1215.35 733.50L1215.76 731.02L1216.18 728.79L1216.59 726.82L1217.00 725.12L1217.42 723.69L1217.83 722.52L1218.25 721.62L1218.66 721.00L1219.07 720.64L1219.49 720.56L1219.90 720.75L1220.31 721.21L1220.73 721.94L1221.14 722.94L1221.56 724.22L1221.97 725.76L1222.38 727.56L1222.80 729.63L1223.21 731.96L1223.63 734.54L1224.04 737.38L1224.45 740.48L1224.87 743.81L1225.28 747.40L1225.70 751.21L1226.11 755.27L1226.52 759.55L1226.94 764.05L1227.35 768.77L1227.77 773.70L1228.18 778.84L1228.59 784.17L1229.01 789.70L1229.42 795.41L1229.84 801.29L1230.25 807.35L1230.66 813.57L1231.08 819.94L1231.49 826.46L1231.91 833.12L1232.32 839.90L1232.73 846.81L1233.15 853.83L1233.56 860.95L1233.98 868.17L1234.39 875.47L1234.80 882.84L1235.22 890.29L1235.63 897.78L1236.05 905.33L1236.46 912.91L1236.87 920.53L1237.29 928.16L1237.70 935.80L1238.12 943.43L1238.53 951.06L1238.94 958.67L1239.36 966.25L1239.77 973.78L1240.19 981.27L1240.60 988.70L1241.01 996.06L1241.43 1003.35L1241.84 1010.54L1242.26 1017.65L1242.67 1024.64L1243.08 1031.52L1243.50 1038.29L1243.91 1044.91L1244.33 1051.41L1244.74 1057.75L1245.15 1063.93L1245.57 1069.96L1245.98 1075.81L1246.40 1081.48L1246.81 1086.97L1247.22 1092.26L1247.64 1097.36L1248.05 1102.25L1248.47 1106.93L1248.88 1111.38L1249.29 1115.62L1249.71 1119.63L1250.12 1123.40L1250.54 1126.93L1250.95 1130.22L1251.36 1133.26L1251.78 1136.05L1252.19 1138.59L1252.61 1140.86L1253.02 1142.88L1253.43 1144.63L1253.85 1146.11L1254.26 1147.33L1254.68 1148.28L1255.09 1148.96L1255.50 1149.37L1255.92 1149.50L1256.33 1149.37L1256.75 1148.97L1257.16 1148.30L1257.57 1147.38L1257.99 1146.19L1258.40 1144.74L1258.82 1143.03L1259.23 1141.07L1259.64 1138.85L1260.06 1136.38L1260.47 1133.66L1260.89 1130.70L1261.30 1127.49L1261.71 1124.05L1262.13 1120.37L1262.54 1116.47L1262.95 1112.34L1263.37 1107.99L1263.78 1103.43L1264.20 1098.66L1264.61 1093.70L1265.02 1088.53L1265.44 1083.18L1265.85 1077.64L1266.27 1071.93L1266.68 1066.06L1267.09 1060.02L1267.51 1053.82L1267.92 1047.49L1268.34 1041.01L1268.75 1034.41L1269.16 1027.68L1269.58 1020.84L1269.99 1013.90L1270.41 1006.86L1270.82 999.73L1271.23 992.53L1271.65 985.25L1272.06 977.92L1272.48 970.53L1272.89 963.11L1273.30 955.65L1273.72 948.16L1274.13 940.67L1274.55 933.17L1274.96 925.67L1275.37 918.19L1275.79 910.73L1276.20 903.31L1276.62 895.92L1277.03 888.59L1277.44 881.32L1277.86 874.12L1278.27 867.00L1278.69 859.96L1279.10 853.02L1279.51 846.19L1279.93 839.46L1280.34 832.86L1280.76 826.39L1281.17 820.06L1281.58 813.88L1282.00 807.84L1282.41 801.97L1282.83 796.27L1283.24 790.74L1283.65 785.40L1284.07 780.24L1284.48 775.28L1284.90 770.52L1285.31 765.97L1285.72 761.63L1286.14 757.51L1286.55 753.62L1286.97 749.95L1287.38 746.52L1287.79 743.32L1288.21 740.37L1288.62 737.66L1289.04 735.20L1289.45 732.99L1289.86 731.03L1290.28 729.34L1290.69 727.90L1291.11 726.72L1291.52 725.80L1291.93 725.15L1292.35 724.76L1292.76 724.64L1293.18 724.78L1293.59 725.19L1294.00 725.86L1294.42 726.79L1294.83 727.99L1295.25 729.44L1295.66 731.16L1296.07 733.13L1296.49 735.36L1296.90 737.83L1297.32 740.56L1297.73 743.53L1298.14 746.74L1298.56 750.19L1298.97 753.88L1299.39 757.79L1299.80 761.92L1300.21 766.27L1300.63 770.84L1301.04 775.61L1301.46 780.59L1301.87 785.76L1302.28 791.12L1302.70 796.65L1303.11 802.37L1303.53 808.25L1303.94 814.30L1304.35 820.49L1304.77 826.83L1305.18 833.31L1305.60 839.92L1306.01 846.65L1306.42 853.50L1306.84 860.44L1307.25 867.48L1307.66 874.61L1308.08 881.82L1308.49 889.10L1308.91 896.43L1309.32 903.82L1309.73 911.25L1310.15 918.70L1310.56 926.19L1310.98 933.68L1311.39 941.18L1311.80 948.68L1312.22 956.16L1312.63 963.62L1313.05 971.04L1313.46 978.42L1313.87 985.75L1314.29 993.02L1314.70 1000.22L1315.12 1007.34L1315.53 1014.38L1315.94 1021.31L1316.36 1028.15L1316.77 1034.86L1317.19 1041.46L1317.60 1047.93L1318.01 1054.26L1318.43 1060.44L1318.84 1066.47L1319.26 1072.33L1319.67 1078.03L1320.08 1083.55L1320.50 1088.89L1320.91 1094.04L1321.33 1099.00L1321.74 1103.75L1322.15 1108.30L1322.57 1112.63L1322.98 1116.74L1323.40 1120.63L1323.81 1124.29L1324.22 1127.72L1324.64 1130.91L1325.05 1133.85L1325.47 1136.56L1325.88 1139.01L1326.29 1141.21L1326.71 1143.16L1327.12 1144.85L1327.54 1146.28L1327.95 1147.45L1328.36 1148.36L1328.78 1149.00L1329.19 1149.38L1329.61 1149.50L1330.02 1149.35L1330.43 1148.95L1330.85 1148.29L1331.26 1147.38L1331.68 1146.21L1332.09 1144.79L1332.50 1143.12L1332.92 1141.19L1333.33 1139.02L1333.75 1136.61L1334.16 1133.95L1334.57 1131.06L1334.99 1127.93L1335.40 1124.57L1335.82 1120.98L1336.23 1117.18L1336.64 1113.15L1337.06 1108.91L1337.47 1104.46L1337.89 1099.81L1338.30 1094.97L1338.71 1089.93L1339.13 1084.71L1339.54 1079.31L1339.96 1073.74L1340.37 1068.01L1340.78 1062.12L1341.20 1056.07L1341.61 1049.89L1342.03 1043.57L1342.44 1037.12L1342.85 1030.55L1343.27 1023.87L1343.68 1017.09L1344.10 1010.21L1344.51 1003.24L1344.92 996.19L1345.34 989.08L1345.75 981.90L1346.17 974.67L1346.58 967.40L1346.99 960.10L1347.41 952.76L1347.82 945.41L1348.24 938.06L1348.65 930.70L1349.06 923.35L1349.48 916.03L1349.89 908.73L1350.30 901.47L1350.72 894.25L1351.13 887.09L1351.55 880.00L1351.96 872.97L1352.37 866.03L1352.79 859.17L1353.20 852.41L1353.62 845.76L1354.03 839.22L1354.44 832.81L1354.86 826.52L1355.27 820.38L1355.69 814.37L1356.10 808.52L1356.51 802.83L1356.93 797.31L1357.34 791.95L1357.76 786.78L1358.17 781.80L1358.58 777.00L1359.00 772.41L1359.41 768.02L1359.83 763.83L1360.24 759.86L1360.65 756.11L1361.07 752.59L1361.48 749.29L1361.90 746.22L1362.31 743.39L1362.72 740.80L1363.14 738.45L1363.55 736.35L1363.97 734.49L1364.38 732.89L1364.79 731.53L1365.21 730.43L1365.62 729.58L1366.04 728.99L1366.45 728.66L1366.86 728.59L1367.28 728.77L1367.69 729.21L1368.11 729.90L1368.52 730.85L1368.93 732.05L1369.35 733.51L1369.76 735.22L1370.18 737.18L1370.59 739.38L1371.00 741.83L1371.42 744.52L1371.83 747.45L1372.25 750.61L1372.66 754.00L1373.07 757.62L1373.49 761.46L1373.90 765.52L1374.32 769.79L1374.73 774.26L1375.14 778.94L1375.56 783.81L1375.97 788.88L1376.39 794.12L1376.80 799.55L1377.21 805.14L1377.63 810.90L1378.04 816.81L1378.46 822.87L1378.87 829.08L1379.28 835.42L1379.70 841.89L1380.11 848.47L1380.53 855.17L1380.94 861.96L1381.35 868.86L1381.77 875.84L1382.18 882.89L1382.60 890.02L1383.01 897.20L1383.42 904.43L1383.84 911.71L1384.25 919.02L1384.67 926.36L1385.08 933.71L1385.49 941.07L1385.91 948.42L1386.32 955.77L1386.74 963.09L1387.15 970.38L1387.56 977.64L1387.98 984.85L1388.39 992.00L1388.81 999.09L1389.22 1006.10L1389.63 1013.03L1390.05 1019.87L1390.46 1026.62L1390.88 1033.25L1391.29 1039.77L1391.70 1046.17L1392.12 1052.44L1392.53 1058.57L1392.94 1064.55L1393.36 1070.38L1393.77 1076.04L1394.19 1081.54L1394.60 1086.87L1395.01 1092.02L1395.43 1096.98L1395.84 1101.74L1396.26 1106.31L1396.67 1110.67L1397.08 1114.82L1397.50 1118.76L1397.91 1122.48L1398.33 1125.97L1398.74 1129.24L1399.15 1132.27L1399.57 1135.07L1399.98 1137.63L1400.40 1139.94L1400.81 1142.01L1401.22 1143.83L1401.64 1145.40L1402.05 1146.72L1402.47 1147.79L1402.88 1148.59L1403.29 1149.15L1403.71 1149.45L1404.12 1149.48L1404.54 1149.26L1404.95 1148.78L1405.36 1148.04L1405.78 1147.04L1406.19 1145.78L1406.61 1144.27L1407.02 1142.50L1407.43 1140.47L1407.85 1138.20L1408.26 1135.68L1408.68 1132.92L1409.09 1129.92L1409.50 1126.68L1409.92 1123.21L1410.33 1119.51L1410.75 1115.59L1411.16 1111.45L1411.57 1107.09L1411.99 1102.53L1412.40 1097.77L1412.82 1092.80L1413.23 1087.65L1413.64 1082.32L1414.06 1076.81L1414.47 1071.13L1414.89 1065.28L1415.30 1059.28L1415.71 1053.13L1416.13 1046.84L1416.54 1040.42L1416.96 1033.88L1417.37 1027.21L1417.78 1020.44L1418.20 1013.57L1418.61 1006.61L1419.03 999.57L1419.44 992.45L1419.85 985.27L1420.27 978.04L1420.68 970.75L1421.10 963.43L1421.51 956.08L1421.92 948.72L1422.34 941.34L1422.75 933.96L1423.17 926.59L1423.58 919.24L1423.99 911.92L1424.41 904.63L1424.82 897.39L1425.24 890.20L1425.65 883.07L1426.06 876.02L1426.48 869.05L1426.89 862.17L1427.31 855.39L1427.72 848.71L1428.13 842.15L1428.55 835.71L1428.96 829.41L1429.38 823.24L1429.79 817.22L1430.20 811.36L1430.62 805.66L1431.03 800.12L1431.45 794.77L1431.86 789.59L1432.27 784.61L1432.69 779.82L1433.10 775.23L1433.52 770.85L1433.93 766.68L1434.34 762.73L1434.76 759.01L1435.17 755.51L1435.59 752.24L1436.00 749.21L1436.41 746.42L1436.83 743.87L1437.24 741.57L1437.65 739.52L1438.07 737.71L1438.48 736.17L1438.90 734.88L1439.31 733.85L1439.72 733.07L1440.14 732.56L1440.55 732.31L1440.97 732.31L1441.38 732.58L1441.79 733.11L1442.21 733.90L1442.62 734.95L1443.04 736.26L1443.45 737.82L1443.86 739.64L1444.28 741.70L1444.69 744.02L1445.11 746.59L1445.52 749.39L1445.93 752.44L1446.35 755.72L1446.76 759.23L1447.18 762.97L1447.59 766.94L1448.00 771.12L1448.42 775.51L1448.83 780.11L1449.25 784.91L1449.66 789.91L1450.07 795.10L1450.49 800.46L1450.90 806.01L1451.32 811.72L1451.73 817.59L1452.14 823.62L1452.56 829.80L1452.97 836.11L1453.39 842.56L1453.80 849.12L1454.21 855.81L1454.63 862.60L1455.04 869.48L1455.46 876.46L1455.87 883.52L1456.28 890.65L1456.70 897.84L1457.11 905.08L1457.53 912.37L1457.94 919.70L1458.35 927.05L1458.77 934.42L1459.18 941.80L1459.60 949.18L1460.01 956.54L1460.42 963.89L1460.84 971.21L1461.25 978.49L1461.67 985.72L1462.08 992.90L1462.49 1000.01L1462.91 1007.05L1463.32 1014.01L1463.74 1020.87L1464.15 1027.63L1464.56 1034.29L1464.98 1040.83L1465.39 1047.24L1465.81 1053.52L1466.22 1059.66L1466.63 1065.65L1467.05 1071.48L1467.46 1077.16L1467.88 1082.66L1468.29 1087.98L1468.70 1093.12L1469.12 1098.07L1469.53 1102.82L1469.95 1107.37L1470.36 1111.71L1470.77 1115.84L1471.19 1119.75L1471.60 1123.43L1472.02 1126.89L1472.43 1130.12L1472.84 1133.10L1473.26 1135.85L1473.67 1138.35L1474.09 1140.61L1474.50 1142.61L1474.91 1144.37L1475.33 1145.87L1475.74 1147.11L1476.16 1148.09L1476.57 1148.82L1476.98 1149.28L1477.40 1149.49L1477.81 1149.43L1478.23 1149.12L1478.64 1148.55L1479.05 1147.72L1479.47 1146.64L1479.88 1145.31L1480.29 1143.72L1480.71 1141.88L1481.12 1139.79L1481.54 1137.46L1481.95 1134.89L1482.36 1132.07L1482.78 1129.02L1483.19 1125.74L1483.61 1122.23L1484.02 1118.50L1484.43 1114.55L1484.85 1110.38L1485.26 1106.01L1485.68 1101.43L1486.09 1096.66L1486.50 1091.69L1486.92 1086.54L1487.33 1081.21L1487.75 1075.70L1488.16 1070.03L1488.57 1064.20L1488.99 1058.23L1489.40 1052.10L1489.82 1045.84L1490.23 1039.46L1490.64 1032.95L1491.06 1026.33L1491.47 1019.61L1491.89 1012.79L1492.30 1005.88L1492.71 998.90L1493.13 991.84L1493.54 984.73L1493.96 977.56L1494.37 970.35L1494.78 963.10L1495.20 955.83L1495.61 948.55L1496.03 941.25L1496.44 933.96L1496.85 926.68L1497.27 919.42L1497.68 912.19L1498.10 905.00L1498.51 897.85L1498.92 890.77L1499.34 883.74L1499.75 876.79L1500.17 869.93L1500.58 863.15L1500.99 856.47L1501.41 849.90L1501.82 843.45L1502.24 837.12L1502.65 830.92L1503.06 824.87L1503.48 818.96L1503.89 813.20L1504.31 807.61L1504.72 802.18L1505.13 796.93L1505.55 791.86L1505.96 786.98L1506.38 782.30L1506.79 777.81L1507.20 773.54L1507.62 769.47L1508.03 765.62L1508.45 761.99L1508.86 758.58L1509.27 755.41L1509.69 752.46L1510.10 749.76L1510.52 747.30L1510.93 745.08L1511.34 743.11L1511.76 741.38L1512.17 739.91L1512.59 738.69L1513.00 737.73L1513.41 737.02L1513.83 736.57L1514.24 736.37L1514.66 736.44L1515.07 736.76L1515.48 737.33L1515.90 738.17L1516.31 739.26L1516.73 740.60L1517.14 742.19L1517.55 744.04L1517.97 746.13L1518.38 748.47L1518.80 751.05L1519.21 753.87L1519.62 756.93L1520.04 760.22L1520.45 763.73L1520.87 767.47L1521.28 771.43L1521.69 775.60L1522.11 779.98L1522.52 784.57L1522.93 789.35L1523.35 794.32L1523.76 799.48L1524.18 804.81L1524.59 810.32L1525.00 816.00L1525.42 821.83L1525.83 827.81L1526.25 833.94L1526.66 840.20L1527.07 846.59L1527.49 853.10L1527.90 859.72L1528.32 866.45L1528.73 873.27L1529.14 880.18L1529.56 887.17L1529.97 894.22L1530.39 901.34L1530.80 908.51L1531.21 915.72L1531.63 922.97L1532.04 930.24L1532.46 937.53L1532.87 944.82L1533.28 952.11L1533.70 959.39L1534.11 966.65L1534.53 973.88L1534.94 981.07L1535.35 988.21L1535.77 995.30L1536.18 1002.32L1536.60 1009.27L1537.01 1016.13L1537.42 1022.91L1537.84 1029.58L1538.25 1036.15L1538.67 1042.60L1539.08 1048.92L1539.49 1055.11L1539.91 1061.17L1540.32 1067.07L1540.74 1072.82L1541.15 1078.41L1541.56 1083.83L1541.98 1089.08L1542.39 1094.14L1542.81 1099.02L1543.22 1103.70L1543.63 1108.17L1544.05 1112.45L1544.46 1116.51L1544.88 1120.35L1545.29 1123.98L1545.70 1127.38L1546.12 1130.55L1546.53 1133.48L1546.95 1136.18L1547.36 1138.63L1547.77 1140.84L1548.19 1142.81L1548.60 1144.53L1549.02 1145.99L1549.43 1147.20L1549.84 1148.16L1550.26 1148.86L1550.67 1149.31L1551.09 1149.49L1551.50 1149.42L1551.91 1149.10L1552.33 1148.52L1552.74 1147.69L1553.16 1146.60L1553.57 1145.26L1553.98 1143.68L1554.40 1141.84L1554.81 1139.76L1555.23 1137.44L1555.64 1134.87L1556.05 1132.07L1556.47 1129.04L1556.88 1125.77L1557.30 1122.28L1557.71 1118.57L1558.12 1114.65L1558.54 1110.51L1558.95 1106.16L1559.37 1101.62L1559.78 1096.88L1560.19 1091.95L1560.61 1086.83L1561.02 1081.54L1561.44 1076.08L1561.85 1070.46L1562.26 1064.67L1562.68 1058.74L1563.09 1052.67L1563.51 1046.47L1563.92 1040.13L1564.33 1033.68L1564.75 1027.12L1565.16 1020.45L1565.57 1013.70L1565.99 1006.85L1566.40 999.93L1566.82 992.94L1567.23 985.89L1567.64 978.79L1568.06 971.65L1568.47 964.47L1568.89 957.27L1569.30 950.06L1569.71 942.84L1570.13 935.62L1570.54 928.41L1570.96 921.23L1571.37 914.07L1571.78 906.95L1572.20 899.88L1572.61 892.87L1573.03 885.92L1573.44 879.05L1573.85 872.26L1574.27 865.55L1574.68 858.95L1575.10 852.46L1575.51 846.08L1575.92 839.83L1576.34 833.70L1576.75 827.72L1577.17 821.88L1577.58 816.20L1577.99 810.67L1578.41 805.32L1578.82 800.14L1579.24 795.14L1579.65 790.32L1580.06 785.71L1580.48 781.28L1580.89 777.07L1581.31 773.06L1581.72 769.27L1582.13 765.70L1582.55 762.35L1582.96 759.23L1583.38 756.34L1583.79 753.69L1584.20 751.27L1584.62 749.10L1585.03 747.18L1585.45 745.49L1585.86 744.06L1586.27 742.88L1586.69 741.96L1587.10 741.28L1587.52 740.86L1587.93 740.70L1588.34 740.79L1588.76 741.13L1589.17 741.73L1589.59 742.59L1590.00 743.69L1590.41 745.05L1590.83 746.66L1591.24 748.51L1591.66 750.61L1592.07 752.96L1592.48 755.54L1592.90 758.36L1593.31 761.41L1593.73 764.69L1594.14 768.20L1594.55 771.93L1594.97 775.87L1595.38 780.03L1595.80 784.39L1596.21 788.95L1596.62 793.71L1597.04 798.65L1597.45 803.78L1597.87 809.09L1598.28 814.56L1598.69 820.20L1599.11 825.99L1599.52 831.93L1599.94 838.02L1600.35 844.23L1600.76 850.58L1601.18 857.04L1601.59 863.61L1602.01 870.28L1602.42 877.05L1602.83 883.90L1603.25 890.83L1603.66 897.82L1604.08 904.87L1604.49 911.98L1604.90 919.12L1605.32 926.30L1605.73 933.50L1606.15 940.72L1606.56 947.94L1606.97 955.16L1607.39 962.36L1607.80 969.55L1608.22 976.70L1608.63 983.81L1609.04 990.88L1609.46 997.89L1609.87 1004.83L1610.28 1011.70L1610.70 1018.48L1611.11 1025.17L1611.53 1031.77L1611.94 1038.25L1612.35 1044.62L1612.77 1050.87L1613.18 1056.98L1613.60 1062.95L1614.01 1068.78L1614.42 1074.45L1614.84 1079.96L1615.25 1085.30L1615.67 1090.47L1616.08 1095.45L1616.49 1100.25L1616.91 1104.85L1617.32 1109.26L1617.74 1113.46L1618.15 1117.45L1618.56 1121.22L1618.98 1124.77L1619.39 1128.10L1619.81 1131.21L1620.22 1134.08L1620.63 1136.71L1621.05 1139.10L1621.46 1141.26L1621.88 1143.16L1622.29 1144.82L1622.70 1146.23L1623.12 1147.39L1623.53 1148.30L1623.95 1148.96L1624.36 1149.36L1624.77 1149.50L1625.19 1149.39L1625.60 1149.03L1626.02 1148.41L1626.43 1147.54L1626.84 1146.42L1627.26 1145.04L1627.67 1143.42L1628.09 1141.56L1628.50 1139.45L1628.91 1137.09L1629.33 1134.50L1629.74 1131.68L1630.16 1128.62L1630.57 1125.34L1630.98 1121.83L1631.40 1118.10L1631.81 1114.16L1632.23 1110.01L1632.64 1105.65L1633.05 1101.09L1633.47 1096.35L1633.88 1091.41L1634.30 1086.29L1634.71 1081.00L1635.12 1075.54L1635.54 1069.92L1635.95 1064.15L1636.37 1058.22L1636.78 1052.16L1637.19 1045.97L1637.61 1039.65L1638.02 1033.22L1638.44 1026.68L1638.85 1020.04L1639.26 1013.31L1639.68 1006.49L1640.09 999.60L1640.51 992.65L1640.92 985.63L1641.33 978.57L1641.75 971.47L1642.16 964.34L1642.58 957.19L1642.99 950.02L1643.40 942.85L1643.82 935.69L1644.23 928.54L1644.65 921.42L1645.06 914.33L1645.47 907.27L1645.89 900.27L1646.30 893.33L1646.72 886.46L1647.13 879.66L1647.54 872.94L1647.96 866.32L1648.37 859.80L1648.79 853.39L1649.20 847.10L1649.61 840.94L1650.03 834.90L1650.44 829.01L1650.86 823.27L1651.27 817.68L1651.68 812.26L1652.10 807.00L1652.51 801.92L1652.92 797.02L1653.34 792.31L1653.75 787.80L1654.17 783.49L1654.58 779.38L1654.99 775.48L1655.41 771.80L1655.82 768.34L1656.24 765.10L1656.65 762.09L1657.06 759.31L1657.48 756.77L1657.89 754.47L1658.31 752.41L1658.72 750.59L1659.13 749.03L1659.55 747.71L1659.96 746.64L1660.38 745.82L1660.79 745.26L1661.20 744.94L1661.62 744.89L1662.03 745.08L1662.45 745.54L1662.86 746.24L1663.27 747.20L1663.69 748.40L1664.10 749.86L1664.52 751.56L1664.93 753.51L1665.34 755.71L1665.76 758.14L1666.17 760.81L1666.59 763.72L1667.00 766.85L1667.41 770.21L1667.83 773.80L1668.24 777.60L1668.66 781.61L1669.07 785.84L1669.48 790.26L1669.90 794.88L1670.31 799.70L1670.73 804.70L1671.14 809.87L1671.55 815.22L1671.97 820.74L1672.38 826.41L1672.80 832.24L1673.21 838.21L1673.62 844.31L1674.04 850.55L1674.45 856.91L1674.87 863.38L1675.28 869.96L1675.69 876.63L1676.11 883.39L1676.52 890.23L1676.94 897.14L1677.35 904.12L1677.76 911.15L1678.18 918.23L1678.59 925.34L1679.01 932.48L1679.42 939.63L1679.83 946.80L1680.25 953.97L1680.66 961.13L1681.08 968.27L1681.49 975.38L1681.90 982.46L1682.32 989.50L1682.73 996.48L1683.15 1003.40L1683.56 1010.25L1683.97 1017.02L1684.39 1023.71L1684.80 1030.29L1685.22 1036.78L1685.63 1043.15L1686.04 1049.39L1686.46 1055.52L1686.87 1061.50L1687.29 1067.34L1687.70 1073.03L1688.11 1078.57L1688.53 1083.93L1688.94 1089.13L1689.36 1094.15L1689.77 1098.98L1690.18 1103.63L1690.60 1108.07L1691.01 1112.32L1691.43 1116.35L1691.84 1120.18L1692.25 1123.79L1692.67 1127.17L1693.08 1130.33L1693.50 1133.26L1693.91 1135.96L1694.32 1138.42L1694.74 1140.64L1695.15 1142.62L1695.56 1144.35L1695.98 1145.83L1696.39 1147.06L1696.81 1148.05L1697.22 1148.78L1697.63 1149.26L1698.05 1149.48L1698.46 1149.45L1698.88 1149.18L1699.29 1148.66L1699.70 1147.89L1700.12 1146.88L1700.53 1145.62L1700.95 1144.13L1701.36 1142.39L1701.77 1140.42L1702.19 1138.21L1702.60 1135.76L1703.02 1133.09L1703.43 1130.19L1703.84 1127.07L1704.26 1123.73L1704.67 1120.18L1705.09 1116.41L1705.50 1112.44L1705.91 1108.27L1706.33 1103.90L1706.74 1099.34L1707.16 1094.60L1707.57 1089.67L1707.98 1084.58L1708.40 1079.31L1708.81 1073.89L1709.23 1068.32L1709.64 1062.59L1710.05 1056.73L1710.47 1050.73L1710.88 1044.61L1711.30 1038.38L1711.71 1032.03L1712.12 1025.58L1712.54 1019.03L1712.95 1012.40L1713.37 1005.69L1713.78 998.92L1714.19 992.08L1714.61 985.18L1715.02 978.25L1715.44 971.27L1715.85 964.27L1716.26 957.25L1716.68 950.22L1717.09 943.19L1717.51 936.17L1717.92 929.16L1718.33 922.17L1718.75 915.22L1719.16 908.31L1719.58 901.45L1719.99 894.65L1720.40 887.91L1720.82 881.25L1721.23 874.68L1721.65 868.19L1722.06 861.81L1722.47 855.53L1722.89 849.36L1723.30 843.32L1723.72 837.41L1724.13 831.63L1724.54 826.00L1724.96 820.52L1725.37 815.20L1725.79 810.04L1726.20 805.06L1726.61 800.25L1727.03 795.62L1727.44 791.18L1727.86 786.94L1728.27 782.89L1728.68 779.05L1729.10 775.42L1729.51 772.00L1729.93 768.80L1730.34 765.82L1730.75 763.06L1731.17 760.54L1731.58 758.24L1732.00 756.18L1732.41 754.36L1732.82 752.77L1733.24 751.43L1733.65 750.33L1734.07 749.48L1734.48 748.86L1734.89 748.50L1735.31 748.38L1735.72 748.51L1736.14 748.88L1736.55 749.50L1736.96 750.37L1737.38 751.46L1737.79 752.54L1738.20 753.79L1738.62 755.23L1739.03 756.85L1739.45 758.65L1739.86 760.63L1740.27 762.78L1740.69 765.11L1741.10 767.61L1741.52 770.27L1741.93 773.11L1742.34 776.11L1742.76 779.26L1743.17 782.58L1743.59 786.05L1744.00 789.68L1744.41 793.45L1744.83 797.37L1745.24 801.43L1745.66 805.63L1746.07 809.96L1746.48 814.42L1746.90 819.01L1747.31 823.72L1747.73 828.55L1748.14 833.48L1748.55 838.53L1748.97 843.68L1749.38 848.93L1749.80 854.27L1750.21 859.70L1750.62 865.21L1751.04 870.80L1751.45 876.46L1751.87 882.19L1752.28 887.99L1752.69 893.84L1753.11 899.74L1753.52 905.69L1753.94 911.68L1754.35 917.71L1754.76 923.76L1755.18 929.84L1755.59 935.93L1756.01 942.04L1756.42 948.15L1756.83 954.27L1757.25 960.38L1757.66 966.48L1758.08 972.57L1758.49 978.63L1758.90 984.66L1759.32 990.66L1759.73 996.63L1760.15 1002.55L1760.56 1008.42L1760.97 1014.23L1761.39 1019.98L1761.80 1025.67L1762.22 1031.29L1762.63 1036.83L1763.04 1042.28L1763.46 1047.65L1763.87 1052.93L1764.29 1058.12L1764.70 1063.20L1765.11 1068.17L1765.53 1073.04L1765.94 1077.78L1766.36 1082.41L1766.77 1086.92L1767.18 1091.29L1767.60 1095.54L1768.01 1099.64L1768.43 1103.61L1768.84 1107.43L1769.25 1111.11L1769.67 1114.63L1770.08 1118.00L1770.50 1121.22L1770.91 1124.27L1771.32 1127.16L1771.74 1129.88L1772.15 1132.44L1772.57 1134.82L1772.98 1137.03L1773.39 1139.07L1773.81 1140.93L1774.22 1142.61L1774.64 1144.11L1775.05 1145.43L1775.46 1146.56L1775.88 1147.51L1776.29 1148.28L1776.71 1148.86L1777.12 1149.26L1777.53 1149.46L1777.95 1149.49L1778.36 1149.33L1778.78 1148.98L1779.19 1148.46L1779.60 1147.76L1780.02 1146.88L1780.43 1145.82L1780.85 1144.58L1781.26 1143.16L1781.67 1141.58L1782.09 1139.82L1782.50 1137.89L1782.91 1135.79L1783.33 1133.52L1783.74 1131.10L1784.16 1128.51L1784.57 1125.77L1784.98 1122.88L1785.40 1119.83L1785.81 1116.64L1786.23 1113.31L1786.64 1109.84L1787.05 1106.23L1787.47 1102.50L1787.88 1098.63L1788.30 1094.65L1788.71 1090.55L1789.12 1086.34L1789.54 1082.03L1789.95 1077.61L1790.37 1073.10L1790.78 1068.50L1791.19 1063.81L1791.61 1059.04L1792.02 1054.20L1792.44 1049.29L1792.85 1044.32L1793.26 1039.29L1793.68 1034.22L1794.09 1029.09L1794.51 1023.94L1794.92 1018.74L1795.33 1013.53L1795.75 1008.29L1796.16 1003.04L1796.58 997.79L1796.99 992.53L1797.40 987.28L1797.82 982.04L1798.23 976.82L1798.65 971.63L1799.06 966.46L1799.47 961.33L1799.89 956.25L1800.30 951.21L1800.72 946.23L1801.13 941.31L1801.54 936.45L1801.96 931.67L1802.37 926.97L1802.79 922.35L1803.20 917.82L1803.61 913.38L1804.03 909.05L1804.44 904.82L1804.86 900.70L1805.27 896.69L1805.68 892.81L1806.10 889.05L1806.51 885.42L1806.93 881.92L1807.34 878.56L1807.75 875.35L1808.17 872.27L1808.58 869.35L1809.00 866.58L1809.41 863.97L1809.82 861.51L1810.24 859.22L1810.65 857.09L1811.07 855.13L1811.48 853.34L1811.89 851.72L1812.31 850.27L1812.72 849.00L1813.14 847.90L1813.55 846.99L1813.96 846.25L1814.38 845.70L1814.79 845.32L1815.21 845.13L1815.62 845.11L1816.03 845.28L1816.45 845.63L1816.86 846.16L1817.28 846.77L1817.69 847.40L1818.10 848.16L1818.52 849.05L1818.93 850.06L1819.35 851.20L1819.76 852.46L1820.17 853.84L1820.59 855.35L1821.00 856.97L1821.42 858.72L1821.83 860.58L1822.24 862.56L1822.66 864.65L1823.07 866.85L1823.49 869.17L1823.90 871.59L1824.31 874.12L1824.73 876.76L1825.14 879.50L1825.55 882.33L1825.97 885.27L1826.38 888.30L1826.80 891.42L1827.21 894.63L1827.62 897.93L1828.04 901.31L1828.45 904.78L1828.87 908.32L1829.28 911.94L1829.69 915.63L1830.11 919.39L1830.52 923.22L1830.94 927.11L1831.35 931.06L1831.76 935.07L1832.18 939.12L1832.59 943.23L1833.01 947.39L1833.42 951.58L1833.83 955.82L1834.25 960.09L1834.66 964.39L1835.08 968.72L1835.49 973.08L1835.90 977.45L1836.32 981.84L1836.73 986.25L1837.15 990.66L1837.56 995.09L1837.97 999.51L1838.39 1003.93L1838.80 1008.35L1839.22 1012.75L1839.63 1017.15L1840.04 1021.52L1840.46 1025.88L1840.87 1030.21L1841.29 1034.52L1841.70 1038.79L1842.11 1043.03L1842.53 1047.23L1842.94 1051.39L1843.36 1055.50L1843.77 1059.56L1844.18 1063.58L1844.60 1067.53L1845.01 1071.43L1845.43 1075.26L1845.84 1079.03" fill="none" stroke="#bf3d7e" stroke-width="3.0" stroke-linejoin="round"/>
</g>
<path d="M864 1135 L1053 1135" stroke="#03827b" stroke-width="3.0" fill="none"/>
<path d="M1061 1135 L1684.5 1130.6" stroke="#03827b" stroke-width="3.0" fill="none"/>
<path d="M1689.5 1130.6 L1828 1132.4" stroke="#03827b" stroke-width="3.0" fill="none"/>
<path d="M1053.4 1128.4 V1141.8 M1060.6 1128.4 V1141.8" stroke="#03827b" stroke-width="3.0" fill="none"/>
<path d="M1684.6 1124.4 V1138.2 M1689.8 1124.4 V1138.2" stroke="#03827b" stroke-width="3.0" fill="none"/>
<path d="M853.4 1135 L873.2 1124.0 L867.6 1135 L873.2 1146.0 Z" fill="#03827b"/>
<path d="M1842.4 1132.6 L1820.6 1122.2 L1826.4 1132.5 L1820.6 1142.8 Z" fill="#03827b"/>
<text x="943.4" y="1124.2" font-size="29.17" font-weight="bold" text-anchor="middle" fill="#03827b" >Air</text>
<text x="1393.8" y="1123.8" font-size="29.17" font-weight="bold" text-anchor="middle" fill="#03827b" >MQWs</text>
<text x="1777.6" y="1123.8" font-size="29.17" font-weight="bold" text-anchor="middle" fill="#03827b" >DBR</text>
<line x1="851.1" y1="663" x2="1847.7" y2="663" stroke="#000" stroke-width="2.8" />
<line x1="851.1" y1="1149.8" x2="1847.7" y2="1149.8" stroke="#000" stroke-width="3.3" />
<line x1="852.3" y1="662" x2="852.3" y2="1151.1" stroke="#0b6088" stroke-width="3.2" />
<line x1="1846.9" y1="662" x2="1846.9" y2="1151.1" stroke="#bf3d7e" stroke-width="1.8" />
<path d="M840.2 906.4 L864.8 897.4 M840.2 914.6 L864.8 905.6" stroke="#0b6088" stroke-width="2.5" fill="none"/>
<text x="839.4" y="708.4" font-size="29.17" text-anchor="end" fill="#0b6088" stroke="#0b6088" stroke-width="0.45" stroke-linejoin="round">3.5</text>
<text x="839.4" y="878.1" font-size="29.17" text-anchor="end" fill="#0b6088" stroke="#0b6088" stroke-width="0.45" stroke-linejoin="round">3.0</text>
<text x="839.4" y="955" font-size="29.17" text-anchor="end" fill="#0b6088" stroke="#0b6088" stroke-width="0.45" stroke-linejoin="round">1.5</text>
<text x="839.4" y="1126.4" font-size="29.17" text-anchor="end" fill="#0b6088" stroke="#0b6088" stroke-width="0.45" stroke-linejoin="round">1.0</text>
<text x="1856.4" y="673.2" font-size="29.17" fill="#bf3d7e" stroke="#bf3d7e" stroke-width="0.45" stroke-linejoin="round">1.0</text>
<text x="1856.4" y="769.8" font-size="29.17" fill="#bf3d7e" stroke="#bf3d7e" stroke-width="0.45" stroke-linejoin="round">0.8</text>
<text x="1856.4" y="866" font-size="29.17" fill="#bf3d7e" stroke="#bf3d7e" stroke-width="0.45" stroke-linejoin="round">0.6</text>
<text x="1856.4" y="962.2" font-size="29.17" fill="#bf3d7e" stroke="#bf3d7e" stroke-width="0.45" stroke-linejoin="round">0.4</text>
<text x="1856.4" y="1059" font-size="29.17" fill="#bf3d7e" stroke="#bf3d7e" stroke-width="0.45" stroke-linejoin="round">0.2</text>
<text x="1856.4" y="1155.6" font-size="29.17" fill="#bf3d7e" stroke="#bf3d7e" stroke-width="0.45" stroke-linejoin="round">0.0</text>
<text x="937.26" y="1187.2" font-size="29.17" text-anchor="middle" fill="#000" stroke="#000" stroke-width="0.45" stroke-linejoin="round">–0.3</text>
<text x="1066.8" y="1187.2" font-size="29.17" text-anchor="middle" fill="#000" stroke="#000" stroke-width="0.45" stroke-linejoin="round">0.0</text>
<text x="1196.34" y="1187.2" font-size="29.17" text-anchor="middle" fill="#000" stroke="#000" stroke-width="0.45" stroke-linejoin="round">0.3</text>
<text x="1325.88" y="1187.2" font-size="29.17" text-anchor="middle" fill="#000" stroke="#000" stroke-width="0.45" stroke-linejoin="round">0.6</text>
<text x="1455.42" y="1187.2" font-size="29.17" text-anchor="middle" fill="#000" stroke="#000" stroke-width="0.45" stroke-linejoin="round">0.9</text>
<text x="1584.96" y="1187.2" font-size="29.17" text-anchor="middle" fill="#000" stroke="#000" stroke-width="0.45" stroke-linejoin="round">1.2</text>
<text x="1714.5" y="1187.2" font-size="29.17" text-anchor="middle" fill="#000" stroke="#000" stroke-width="0.45" stroke-linejoin="round">1.5</text>
<text x="1844.04" y="1187.2" font-size="29.17" text-anchor="middle" fill="#000" stroke="#000" stroke-width="0.45" stroke-linejoin="round">1.8</text>
<text x="1349.4" y="1231" font-size="29.17" text-anchor="middle" fill="#000" stroke="#000" stroke-width="0.45" stroke-linejoin="round">Position(µm)</text>
<text x="771.8" y="922.6" font-size="29.17" text-anchor="middle" fill="#0b6088" transform="rotate(-90 771.8 922.6)" stroke="#0b6088" stroke-width="0.45" stroke-linejoin="round">Refractive index (a.u.)</text>
<text x="1938.4" y="920.6" font-size="29.17" text-anchor="middle" fill="#bf3d7e" transform="rotate(-90 1938.4 920.6)" stroke="#bf3d7e" stroke-width="0.45" stroke-linejoin="round">Electric field intensity (a.u.)</text>
<text x="747.2" y="679.6" font-size="41.67" font-weight="bold" fill="#000" >d</text>
</g>
</svg>
</body>
</html>
